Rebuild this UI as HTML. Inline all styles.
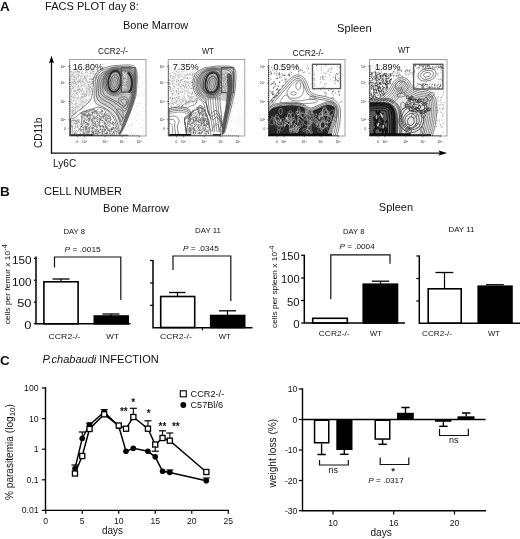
<!DOCTYPE html>
<html><head><meta charset="utf-8"><title>Figure</title>
<style>
html,body{margin:0;padding:0;background:#fff;}
svg{display:block;}
text{font-family:"Liberation Sans",Arial,Helvetica,sans-serif;fill:#111;}
</style></head><body>
<svg width="520" height="539" viewBox="0 0 520 539">
<defs><filter id="soft" x="-5%" y="-5%" width="110%" height="110%"><feGaussianBlur stdDeviation="0.26"/></filter></defs>
<rect width="520" height="539" fill="#fff"/>
<text x="0" y="11" font-size="13.5" font-weight="bold" fill="#000">A</text>
<text x="45" y="9.6" font-size="11" textLength="93.7" lengthAdjust="spacingAndGlyphs">FACS PLOT day 8:</text>
<text x="123" y="28.8" font-size="11" textLength="65.2" lengthAdjust="spacingAndGlyphs">Bone Marrow</text>
<text x="337" y="31.8" font-size="11" textLength="34.7" lengthAdjust="spacingAndGlyphs">Spleen</text>
<text x="98" y="53.8" font-size="8.5" textLength="30" lengthAdjust="spacingAndGlyphs">CCR2-/-</text>
<text x="202" y="53.8" font-size="8.5" textLength="11.8" lengthAdjust="spacingAndGlyphs">WT</text>
<text x="292.5" y="56.2" font-size="8.5" textLength="31.2" lengthAdjust="spacingAndGlyphs">CCR2-/-</text>
<text x="398" y="52.5" font-size="8.5" textLength="12" lengthAdjust="spacingAndGlyphs">WT</text>
<text x="42.3" y="148" font-size="10" transform="rotate(-90 42.3 148)" textLength="30.3" lengthAdjust="spacingAndGlyphs">CD11b</text>
<text x="53" y="166.6" font-size="10" textLength="23.2" lengthAdjust="spacingAndGlyphs">Ly6C</text>
<path d="M51.5 153.7L51.5 61" stroke="#111" stroke-width="1.3" fill="none" />
<path d="M51.5 55.8L49 63.3L51.5 61.9L54 63.3Z" stroke="#000" stroke-width="0.1" fill="#000" />
<path d="M50.9 153.1L440 153.1" stroke="#111" stroke-width="1.3" fill="none" />
<path d="M447 153.1L438.6 150.6L440 153.1L438.6 155.6Z" stroke="#000" stroke-width="0.1" fill="#000" />
<rect x="69.6" y="59.4" width="76.4" height="76.6" fill="#fff" stroke="#8a8a8a" stroke-width="0.8"/>
<clipPath id="cp1"><rect x="69.6" y="59.4" width="76.4" height="76.6"/></clipPath><g clip-path="url(#cp1)"><g filter="url(#soft)">
<path d="M80.2 76.8h0.6M90.3 73.0h0.6M86.7 87.3h0.6M72.1 94.2h0.6M71.5 90.6h0.6M72.5 73.9h0.6M74.1 80.4h0.6M88.0 88.8h0.6M74.7 75.2h0.6M79.8 109.2h0.6M75.9 97.8h0.6M89.9 87.6h0.6M87.1 72.6h0.6M72.2 79.5h0.6M91.2 90.3h0.6M80.0 98.0h0.6M84.2 84.1h0.6M77.8 97.5h0.6M92.7 83.5h0.6M83.1 106.4h0.6M75.0 93.3h0.6M71.5 102.0h0.6M88.1 91.7h0.6M84.9 101.8h0.6M72.2 103.7h0.6M82.1 102.1h0.6M71.0 92.0h0.6M75.5 75.2h0.6M72.1 106.9h0.6M74.3 81.6h0.6M72.8 91.4h0.6M78.9 89.7h0.6M75.7 80.8h0.6M77.5 93.1h0.6M88.4 82.3h0.6M70.5 89.9h0.6M81.6 97.1h0.6M86.1 99.6h0.6M91.0 72.1h0.6M82.3 88.9h0.6M73.5 100.4h0.6M72.2 72.8h0.6M76.7 77.4h0.6M80.7 72.1h0.6M70.3 76.9h0.6M73.4 87.2h0.6M71.1 112.1h0.6M89.1 76.7h0.6M78.1 86.4h0.6M81.5 75.5h0.6M84.6 93.1h0.6M73.0 74.5h0.6M80.8 82.4h0.6M95.7 77.4h0.6M71.0 115.8h0.6M86.5 76.6h0.6M87.0 70.8h0.6M78.3 87.4h0.6M75.4 107.1h0.6M80.4 80.4h0.6M77.3 94.7h0.6M81.2 70.9h0.6M71.2 83.1h0.6M78.3 103.2h0.6M77.1 80.5h0.6M76.4 79.5h0.6M72.9 101.7h0.6M75.8 107.9h0.6M80.5 108.5h0.6M92.5 77.8h0.6M74.2 76.9h0.6M74.8 109.7h0.6M81.1 96.2h0.6M78.0 83.8h0.6M77.7 98.1h0.6M78.3 89.9h0.6M74.3 113.8h0.6M81.2 91.8h0.6M85.7 95.4h0.6M86.4 70.4h0.6M83.8 78.4h0.6M70.4 108.4h0.6M75.6 92.6h0.6M80.3 94.7h0.6M73.6 96.8h0.6M77.9 83.0h0.6M89.1 94.1h0.6M86.0 103.2h0.6M84.2 95.5h0.6M96.1 76.2h0.6M74.1 91.0h0.6M72.6 81.2h0.6M72.6 102.1h0.6M75.1 104.4h0.6M90.6 76.5h0.6M82.5 93.2h0.6M75.3 90.5h0.6M86.1 86.0h0.6M76.3 85.0h0.6M92.5 70.5h0.6M87.3 90.9h0.6M70.9 85.6h0.6M89.4 94.4h0.6M73.5 82.4h0.6M71.5 107.4h0.6M78.6 75.8h0.6M74.9 114.2h0.6M73.1 72.3h0.6M91.4 90.2h0.6M72.5 115.2h0.6M72.9 111.2h0.6M72.4 111.5h0.6M84.2 86.0h0.6M78.5 75.8h0.6M86.5 81.1h0.6M73.7 77.4h0.6M71.9 79.3h0.6M79.9 84.4h0.6M93.6 83.6h0.6M85.6 78.2h0.6M76.1 92.6h0.6M82.4 94.2h0.6M82.7 86.4h0.6M72.0 75.8h0.6M72.5 105.6h0.6M78.2 77.4h0.6M72.9 110.5h0.6M79.0 81.3h0.6M79.3 91.9h0.6M75.2 91.2h0.6M79.8 86.9h0.6M70.4 88.1h0.6M84.9 94.0h0.6M76.5 94.1h0.6M70.5 82.4h0.6M73.1 89.0h0.6M79.6 80.8h0.6M88.3 95.3h0.6M82.3 85.4h0.6M71.7 110.2h0.6M74.6 95.0h0.6M77.4 71.0h0.6M74.4 87.1h0.6M73.5 110.2h0.6M87.4 100.1h0.6M85.7 95.6h0.6M90.5 72.7h0.6M92.9 81.8h0.6M72.6 82.4h0.6M92.7 79.5h0.6M85.5 88.1h0.6M85.0 102.8h0.6M90.0 73.3h0.6M74.8 81.9h0.6M93.1 84.3h0.6M72.2 82.6h0.6M91.0 83.7h0.6M86.2 92.1h0.6M84.6 75.3h0.6M70.9 91.8h0.6M84.1 82.6h0.6M76.8 97.8h0.6M74.7 95.0h0.6M85.2 70.7h0.6M70.4 93.4h0.6M84.1 84.2h0.6M74.6 86.2h0.6M70.4 106.0h0.6M96.0 75.3h0.6M81.7 88.6h0.6M81.4 90.3h0.6M78.8 71.9h0.6M73.4 110.1h0.6M78.0 82.4h0.6M86.0 78.7h0.6M92.4 71.9h0.6M92.8 91.5h0.6M79.1 71.9h0.6M84.8 86.2h0.6M79.5 105.5h0.6M90.4 84.1h0.6M87.4 88.7h0.6M75.5 77.4h0.6M85.6 80.2h0.6M84.1 76.3h0.6M76.2 73.9h0.6M80.8 73.9h0.6M77.7 82.1h0.6M83.0 95.0h0.6M81.9 86.0h0.6M72.2 83.0h0.6M85.7 100.2h0.6M78.6 81.6h0.6M82.6 91.2h0.6M97.1 70.6h0.6M71.3 104.0h0.6M73.7 77.0h0.6M86.3 102.7h0.6M84.3 96.3h0.6M71.5 107.6h0.6M90.1 84.3h0.6M74.2 81.8h0.6M73.8 72.9h0.6M86.4 97.9h0.6M82.2 80.4h0.6M79.6 91.9h0.6M77.5 81.5h0.6M85.6 102.3h0.6M83.2 82.0h0.6M77.3 71.2h0.6M80.7 90.0h0.6M91.2 79.1h0.6M85.8 79.5h0.6M77.1 106.5h0.6M85.5 78.6h0.6M77.2 89.8h0.6M74.8 88.7h0.6M74.7 72.0h0.6M72.2 88.6h0.6M93.2 71.1h0.6M90.7 87.9h0.6M81.8 85.6h0.6M78.9 86.6h0.6M71.8 92.6h0.6M76.2 87.2h0.6M97.8 71.0h0.6M93.8 71.5h0.6M71.4 72.5h0.6M80.7 82.8h0.6M78.4 104.4h0.6M80.0 82.9h0.6M70.4 106.3h0.6M99.2 70.7h0.6M77.5 92.6h0.6M82.2 81.7h0.6M83.5 93.5h0.6M88.9 85.5h0.6M80.1 87.1h0.6M94.3 73.3h0.6M76.4 106.2h0.6M77.9 72.7h0.6M71.4 96.4h0.6M78.4 73.6h0.6M73.3 93.8h0.6M92.1 91.3h0.6M77.5 89.8h0.6M90.7 75.4h0.6M87.7 87.7h0.6M92.9 79.2h0.6M77.9 81.4h0.6M75.0 112.5h0.6M88.0 85.4h0.6M85.9 80.8h0.6M71.6 83.8h0.6M74.0 78.7h0.6M78.3 107.4h0.6M88.6 99.7h0.6M77.0 87.5h0.6M74.7 79.4h0.6M78.1 98.7h0.6M90.3 79.4h0.6M70.7 85.4h0.6M91.1 78.5h0.6M79.9 79.4h0.6M72.3 74.4h0.6M82.4 96.3h0.6M89.9 73.9h0.6M75.3 103.4h0.6M82.9 83.3h0.6M79.9 97.1h0.6M81.3 89.8h0.6M81.5 79.1h0.6M92.6 79.4h0.6M70.5 113.4h0.6M84.4 77.4h0.6M70.8 96.4h0.6M73.1 99.8h0.6M81.7 94.1h0.6M74.8 83.3h0.6M73.7 93.4h0.6M76.4 75.7h0.6M85.1 72.1h0.6M95.6 77.3h0.6M94.4 80.3h0.6M95.7 78.4h0.6M77.0 89.0h0.6M86.2 88.2h0.6M74.1 81.5h0.6M71.6 96.9h0.6M93.5 71.4h0.6M96.0 75.2h0.6M88.7 96.3h0.6M89.5 84.4h0.6M83.2 97.9h0.6M83.4 101.6h0.6M84.0 90.8h0.6M71.0 99.6h0.6M85.3 81.0h0.6M84.4 78.2h0.6M84.8 74.7h0.6M74.3 90.5h0.6M73.1 91.0h0.6M86.0 71.5h0.6M89.8 73.5h0.6M86.0 72.1h0.6M85.8 87.9h0.6M72.3 86.6h0.6M93.5 77.2h0.6M95.3 76.5h0.6M76.7 82.3h0.6M85.8 85.0h0.6M71.5 78.4h0.6M75.5 107.7h0.6M73.9 95.3h0.6M89.8 87.0h0.6M89.6 88.7h0.6M81.4 106.7h0.6M83.9 78.1h0.6M93.1 71.9h0.6M88.3 101.8h0.6M71.4 76.8h0.6M89.2 90.5h0.6M74.4 80.6h0.6M90.3 70.6h0.6M70.4 86.8h0.6M73.6 86.9h0.6M77.2 97.9h0.6M88.4 79.4h0.6M89.4 92.6h0.6M77.8 76.8h0.6M73.3 100.6h0.6M82.6 82.4h0.6M70.7 100.9h0.6M87.6 86.6h0.6M90.1 91.1h0.6M71.7 95.4h0.6M82.8 81.1h0.6M72.1 107.4h0.6M70.7 96.3h0.6M76.4 99.1h0.6M85.9 100.7h0.6M95.2 78.0h0.6M79.8 84.1h0.6M71.8 112.8h0.6M70.5 110.6h0.6M77.3 74.6h0.6M77.4 71.4h0.6M80.6 106.0h0.6M92.1 82.5h0.6M87.3 90.7h0.6M78.5 100.8h0.6M97.3 70.2h0.6M78.3 81.0h0.6M93.2 85.4h0.6M83.7 104.8h0.6M87.8 84.5h0.6M76.8 99.8h0.6M72.7 113.8h0.6M73.6 114.7h0.6M80.9 76.4h0.6M71.2 71.5h0.6M72.3 98.2h0.6M72.3 111.7h0.6M73.6 79.5h0.6M73.8 71.2h0.6M89.7 83.5h0.6M73.4 74.3h0.6M93.5 79.5h0.6M80.1 90.1h0.6M71.0 82.0h0.6M79.0 104.3h0.6M81.6 85.1h0.6M71.3 89.6h0.6M81.0 103.8h0.6M86.8 80.0h0.6M96.7 73.9h0.6M95.4 77.8h0.6M70.4 79.3h0.6M70.5 93.4h0.6M76.0 93.6h0.6M79.0 80.0h0.6M91.8 93.8h0.6M73.7 100.5h0.6M72.8 107.9h0.6M89.6 86.8h0.6M82.6 88.7h0.6M97.6 73.7h0.6M97.5 70.7h0.6M76.6 82.3h0.6M77.5 91.9h0.6M81.0 85.4h0.6M75.1 110.5h0.6M75.5 90.9h0.6M74.2 92.0h0.6M76.2 84.2h0.6M75.1 77.1h0.6M77.9 85.4h0.6M86.3 77.3h0.6M80.4 78.7h0.6M73.4 88.2h0.6M92.8 90.7h0.6M76.3 100.6h0.6M73.6 79.6h0.6M82.2 71.2h0.6M82.6 108.0h0.6M91.6 93.9h0.6M89.7 92.1h0.6M74.7 98.9h0.6M82.7 105.6h0.6M83.2 80.6h0.6M90.0 91.6h0.6M79.9 100.1h0.6M73.3 89.9h0.6M89.6 81.7h0.6M83.3 91.7h0.6M89.4 89.4h0.6M75.9 101.4h0.6M71.5 96.0h0.6M75.3 107.6h0.6M73.4 97.5h0.6M86.0 100.6h0.6M76.8 102.8h0.6M82.4 106.6h0.6M81.2 72.3h0.6M78.7 89.0h0.6M70.7 89.9h0.6M83.2 103.5h0.6M81.1 82.4h0.6M77.2 105.6h0.6M77.0 108.5h0.6M82.3 79.8h0.6M74.3 107.3h0.6M84.7 96.9h0.6M81.1 100.6h0.6M84.7 83.8h0.6M87.1 75.6h0.6M81.9 81.8h0.6M83.4 78.6h0.6M70.4 104.6h0.6M78.9 81.4h0.6M79.6 92.8h0.6M83.5 100.5h0.6M90.5 87.1h0.6M72.1 109.8h0.6M74.6 110.0h0.6M89.7 70.2h0.6M70.7 115.8h0.6M90.4 81.7h0.6M73.4 76.5h0.6M77.5 107.3h0.6M80.9 76.9h0.6M75.5 112.9h0.6M76.4 103.2h0.6M87.3 82.4h0.6M77.5 76.3h0.6M85.4 72.3h0.6M84.6 76.5h0.6M85.4 93.8h0.6M70.5 110.4h0.6M84.7 96.9h0.6M81.8 89.9h0.6M71.2 99.2h0.6M86.0 93.1h0.6M97.8 71.2h0.6M81.5 92.6h0.6M76.8 90.7h0.6M83.3 96.5h0.6M85.8 82.7h0.6M80.5 84.9h0.6M79.5 98.1h0.6M71.6 104.7h0.6M71.9 84.1h0.6M70.5 78.7h0.6M89.2 100.0h0.6M91.2 79.8h0.6M90.8 91.8h0.6M93.7 74.4h0.6M75.9 71.3h0.6M90.4 87.5h0.6M87.5 82.1h0.6M79.6 90.0h0.6M80.1 90.5h0.6M72.0 97.1h0.6M71.5 75.3h0.6M70.8 88.3h0.6M83.0 74.5h0.6M90.1 79.8h0.6M70.5 102.8h0.6M73.0 111.8h0.6M92.4 81.3h0.6M92.8 78.6h0.6M71.9 107.2h0.6M92.7 73.6h0.6M92.3 70.1h0.6M70.8 101.2h0.6M95.4 73.4h0.6M79.9 105.0h0.6M75.4 111.4h0.6M85.2 72.4h0.6M81.6 97.5h0.6M83.8 102.5h0.6M74.8 108.3h0.6M81.5 100.9h0.6M89.6 89.8h0.6M82.1 107.8h0.6M87.7 83.7h0.6M80.5 99.0h0.6M88.7 84.5h0.6M81.9 102.8h0.6M70.4 82.3h0.6M83.3 98.1h0.6M71.6 110.1h0.6M87.8 82.8h0.6M81.0 73.6h0.6M76.5 106.0h0.6M84.6 79.6h0.6M78.1 106.1h0.6M73.0 108.8h0.6M94.0 80.8h0.6M84.9 98.2h0.6M76.1 78.9h0.6M75.9 103.6h0.6M81.4 97.0h0.6M82.7 94.7h0.6M74.9 71.7h0.6M73.6 100.3h0.6M94.4 77.1h0.6M88.6 86.3h0.6M86.2 70.5h0.6M87.7 82.2h0.6M78.1 71.3h0.6M76.5 78.3h0.6M72.9 72.0h0.6M98.2 72.6h0.6M88.6 88.8h0.6M78.2 97.0h0.6M90.8 88.6h0.6M84.1 77.3h0.6M77.1 71.4h0.6M78.2 86.6h0.6M96.0 71.8h0.6M72.0 76.6h0.6M91.1 84.0h0.6M73.6 85.3h0.6M78.2 75.5h0.6M85.1 77.7h0.6M77.6 76.5h0.6M91.1 70.1h0.6M92.3 79.0h0.6M71.4 114.7h0.6M74.6 91.3h0.6M73.3 114.7h0.6M84.2 86.0h0.6M89.6 76.5h0.6M77.1 72.3h0.6M74.8 111.9h0.6M78.5 89.5h0.6M75.1 82.7h0.6M75.5 93.4h0.6M72.1 113.1h0.6M90.8 79.8h0.6M85.0 83.4h0.6M78.2 79.3h0.6M73.3 83.6h0.6M97.8 72.3h0.6M92.6 83.8h0.6M100.3 70.3h0.6M76.0 90.7h0.6M87.8 76.2h0.6M75.8 107.0h0.6M92.1 79.1h0.6M72.8 73.8h0.6M89.0 93.6h0.6M78.7 79.5h0.6M76.5 72.7h0.6M92.8 89.4h0.6M92.4 72.2h0.6M76.0 110.0h0.6M81.6 77.5h0.6M81.7 98.5h0.6M70.5 94.8h0.6M84.0 94.6h0.6M74.0 104.3h0.6M80.2 104.1h0.6M82.0 106.1h0.6M72.2 112.0h0.6M86.1 95.3h0.6M86.8 70.5h0.6M75.9 74.5h0.6M78.0 109.3h0.6M71.3 74.2h0.6M91.7 79.0h0.6M70.9 98.7h0.6M88.0 95.0h0.6M91.9 74.5h0.6M71.7 75.5h0.6M85.4 93.9h0.6M78.9 75.4h0.6M82.8 76.2h0.6M74.8 97.4h0.6M93.2 77.5h0.6M82.2 90.0h0.6M77.7 85.8h0.6M72.0 94.7h0.6M78.0 90.1h0.6M89.7 87.2h0.6M86.6 72.9h0.6M83.6 94.1h0.6M71.0 76.3h0.6M97.4 71.2h0.6M90.0 82.4h0.6M91.1 82.8h0.6M89.4 81.7h0.6M86.3 90.6h0.6M79.7 101.0h0.6M74.0 98.4h0.6M78.6 92.2h0.6M86.7 76.7h0.6M74.1 75.9h0.6M79.3 89.3h0.6M79.2 81.4h0.6M73.0 96.1h0.6M87.8 101.2h0.6M76.5 104.1h0.6M84.4 96.2h0.6M89.1 92.3h0.6M79.8 81.3h0.6M77.1 94.4h0.6M82.1 98.0h0.6M70.7 86.7h0.6M87.4 93.4h0.6M79.4 107.1h0.6M75.2 72.8h0.6M72.2 88.4h0.6M83.8 105.3h0.6M73.7 80.5h0.6M75.1 85.9h0.6M81.1 102.4h0.6M87.9 89.8h0.6M88.9 88.0h0.6M84.2 91.8h0.6M92.5 83.8h0.6M82.3 96.5h0.6M82.1 85.2h0.6M85.6 91.1h0.6M76.0 84.3h0.6M74.8 97.5h0.6M88.1 73.8h0.6M70.7 71.8h0.6M87.6 93.7h0.6M86.2 94.7h0.6M91.3 88.5h0.6M81.3 98.5h0.6M91.1 95.1h0.6M73.4 87.7h0.6M82.6 96.8h0.6M83.8 99.9h0.6M75.6 85.0h0.6M86.0 74.9h0.6M75.1 83.6h0.6M86.0 94.1h0.6M76.1 78.4h0.6M89.6 98.9h0.6M89.8 71.6h0.6M82.9 107.8h0.6M79.7 103.1h0.6M70.4 84.3h0.6M90.8 79.1h0.6M85.6 96.4h0.6M78.5 101.0h0.6M87.9 89.5h0.6M74.1 77.1h0.6M93.6 74.7h0.6M73.4 77.8h0.6M93.9 85.2h0.6M92.2 86.7h0.6M75.5 82.5h0.6M73.4 113.5h0.6M88.2 86.5h0.6M84.1 88.3h0.6M72.0 112.9h0.6M83.8 99.7h0.6M78.0 71.6h0.6M77.8 88.5h0.6M92.3 80.3h0.6M77.8 77.9h0.6M81.3 78.6h0.6M87.5 75.1h0.6M86.7 88.3h0.6M82.7 72.7h0.6M74.1 109.7h0.6M81.1 81.4h0.6M76.2 83.3h0.6M77.6 71.2h0.6M90.7 86.1h0.6M75.1 103.9h0.6M73.2 82.6h0.6M95.9 75.7h0.6M95.0 77.3h0.6M81.1 104.7h0.6M85.8 80.6h0.6M84.2 75.9h0.6M92.0 82.2h0.6M81.6 81.5h0.6M89.0 79.8h0.6M97.1 75.5h0.6M86.0 95.9h0.6M78.6 107.1h0.6M82.1 101.5h0.6M87.7 84.6h0.6M82.3 73.7h0.6M75.8 110.9h0.6M80.2 101.8h0.6M73.7 96.9h0.6M81.4 93.9h0.6M79.4 72.7h0.6M79.9 80.5h0.6M74.2 104.4h0.6M79.0 89.1h0.6M74.4 83.0h0.6M71.2 102.6h0.6M90.7 86.6h0.6M83.0 101.6h0.6M91.7 81.6h0.6M89.6 78.3h0.6M73.9 113.9h0.6M71.6 71.5h0.6M75.3 79.1h0.6M79.6 88.0h0.6M71.5 84.6h0.6M89.9 78.2h0.6M92.3 81.9h0.6M83.7 102.8h0.6M79.1 71.6h0.6M71.8 81.4h0.6M73.7 108.0h0.6M93.3 73.7h0.6M91.6 88.7h0.6M78.9 73.9h0.6M89.6 91.5h0.6M72.0 103.5h0.6M83.5 94.4h0.6M93.7 71.6h0.6M78.3 96.1h0.6M87.0 81.7h0.6M72.1 86.9h0.6M82.9 79.3h0.6M79.8 76.2h0.6M77.6 81.3h0.6M86.1 91.2h0.6" stroke="#808080" stroke-width="0.6" fill="none"/>
<path d="M82.2 70.2h0.5M76.0 66.9h0.5M83.6 69.5h0.5M92.1 68.9h0.5M77.1 68.0h0.5M94.1 65.9h0.5M74.9 64.2h0.5M84.7 63.3h0.5M72.7 64.1h0.5M78.2 68.3h0.5M88.1 62.4h0.5M83.2 66.0h0.5M84.8 62.9h0.5M73.2 61.3h0.5M73.7 68.5h0.5M74.7 66.2h0.5M87.6 63.2h0.5M91.9 61.3h0.5M96.3 63.8h0.5M80.1 62.6h0.5M71.4 69.1h0.5M103.7 64.2h0.5M77.7 67.7h0.5M77.0 69.2h0.5M103.3 68.7h0.5M83.3 63.1h0.5M103.1 64.5h0.5M85.0 66.8h0.5M85.0 69.6h0.5M79.8 61.7h0.5M92.9 67.6h0.5M102.9 68.4h0.5M90.0 66.3h0.5M76.6 64.3h0.5M93.4 62.0h0.5M97.7 62.9h0.5M73.9 61.6h0.5M87.8 63.2h0.5M99.1 61.3h0.5M101.6 65.5h0.5" stroke="#aaa" stroke-width="0.5" fill="none"/>
<path d="M89.9 125.8h0.65M98.8 119.7h0.65M92.0 120.1h0.65M104.6 129.9h0.65M90.4 120.2h0.65M100.7 117.8h0.65M86.6 111.2h0.65M91.5 120.7h0.65M116.3 132.0h0.65M112.2 133.7h0.65M105.0 124.4h0.65M90.5 123.5h0.65M103.9 116.6h0.65M92.2 131.4h0.65M80.1 113.8h0.65M105.1 120.3h0.65M82.3 125.7h0.65M93.3 123.7h0.65M95.0 122.4h0.65M100.7 119.0h0.65M83.5 113.6h0.65M113.2 122.9h0.65M83.4 130.9h0.65M88.8 111.4h0.65M99.4 115.4h0.65M97.8 123.0h0.65M87.8 123.5h0.65M83.4 122.0h0.65M101.6 111.0h0.65M94.7 110.9h0.65M95.9 130.9h0.65M100.2 127.1h0.65M83.0 130.0h0.65M94.1 113.3h0.65M88.2 118.4h0.65M87.2 116.6h0.65M106.2 119.8h0.65M113.1 124.7h0.65M112.5 123.3h0.65M114.2 131.1h0.65M85.5 127.9h0.65M92.2 128.4h0.65M105.1 129.9h0.65M83.8 118.5h0.65M107.3 133.0h0.65M102.2 111.5h0.65M100.1 129.4h0.65M83.4 132.5h0.65M104.9 115.5h0.65M86.5 120.3h0.65M111.2 123.7h0.65M83.3 129.3h0.65M86.2 123.0h0.65M90.2 126.4h0.65M93.7 112.7h0.65M112.6 122.6h0.65M105.5 129.5h0.65M92.2 112.8h0.65M98.3 131.1h0.65M86.1 129.7h0.65M105.1 118.9h0.65M97.3 113.0h0.65M111.4 119.0h0.65M112.5 124.5h0.65M82.0 117.3h0.65M87.4 131.7h0.65M101.6 110.1h0.65M85.6 118.1h0.65M97.0 123.6h0.65M93.9 118.0h0.65M91.9 109.5h0.65M96.7 134.0h0.65M80.8 112.7h0.65M104.8 115.9h0.65M89.5 121.7h0.65M89.1 123.4h0.65M99.3 133.3h0.65M100.5 128.5h0.65M112.5 128.6h0.65M103.3 125.1h0.65M93.0 116.1h0.65M109.5 131.1h0.65M115.0 126.3h0.65M90.7 128.3h0.65M107.4 121.9h0.65M103.4 117.9h0.65M100.2 119.3h0.65M81.4 117.5h0.65M91.5 134.1h0.65M97.5 118.3h0.65M88.4 114.9h0.65M92.5 112.4h0.65M96.4 120.3h0.65M100.9 116.7h0.65M90.6 116.8h0.65M106.9 123.0h0.65M114.4 123.8h0.65M82.1 113.5h0.65M101.3 134.0h0.65M92.8 128.6h0.65M95.5 131.0h0.65M81.7 121.3h0.65M85.4 115.8h0.65M106.1 114.5h0.65M94.4 114.1h0.65M102.2 130.9h0.65M103.9 114.0h0.65M107.2 133.4h0.65M102.1 111.0h0.65M110.1 131.2h0.65M92.1 112.5h0.65M86.3 122.6h0.65M112.6 125.2h0.65M91.6 128.0h0.65M103.9 119.3h0.65M105.1 117.6h0.65M81.3 119.5h0.65M80.8 124.9h0.65M91.9 121.5h0.65M102.0 115.5h0.65M96.8 109.3h0.65M102.6 127.4h0.65M91.7 111.4h0.65M85.1 112.6h0.65M110.3 119.7h0.65M99.7 123.9h0.65M100.3 125.7h0.65M102.1 117.4h0.65M107.5 115.5h0.65M106.3 128.3h0.65M108.8 116.8h0.65M108.7 133.8h0.65M96.4 116.1h0.65M99.1 132.8h0.65M97.3 125.6h0.65M108.7 118.2h0.65M81.4 121.7h0.65M100.3 113.6h0.65M84.8 113.5h0.65M107.3 132.4h0.65M108.9 115.1h0.65M103.4 117.7h0.65M109.7 120.7h0.65M91.5 131.9h0.65M83.2 127.6h0.65M81.6 125.4h0.65M94.5 130.9h0.65M81.4 123.3h0.65M94.8 132.3h0.65M87.7 115.4h0.65M89.1 120.0h0.65M87.9 114.1h0.65M108.2 125.3h0.65M90.5 134.2h0.65M87.4 123.4h0.65M85.1 130.9h0.65M107.9 129.9h0.65M89.9 117.4h0.65M97.7 131.6h0.65M85.3 126.3h0.65M102.0 120.5h0.65M101.3 131.4h0.65M87.1 131.4h0.65M92.9 128.8h0.65M112.2 134.2h0.65M90.5 109.6h0.65M83.4 133.7h0.65M84.9 127.7h0.65M82.8 113.3h0.65M105.2 111.3h0.65M92.1 132.3h0.65M106.5 131.4h0.65M88.1 129.1h0.65M98.4 114.9h0.65M95.6 111.7h0.65M91.2 131.3h0.65M83.7 121.4h0.65M84.3 119.9h0.65M85.9 126.4h0.65M84.7 127.7h0.65M98.3 111.8h0.65M92.6 121.6h0.65M87.3 133.5h0.65M112.9 127.5h0.65M89.5 113.5h0.65M89.2 110.7h0.65M80.7 121.9h0.65M94.7 123.1h0.65M93.0 109.3h0.65M105.4 125.6h0.65M99.9 122.9h0.65M105.5 133.9h0.65M112.6 127.2h0.65M94.4 117.1h0.65M95.1 133.7h0.65M93.9 118.8h0.65M94.8 112.6h0.65M102.4 132.5h0.65M88.8 124.5h0.65M93.5 115.1h0.65M86.7 111.9h0.65M111.4 128.9h0.65M105.7 117.2h0.65M103.8 122.9h0.65M91.2 133.6h0.65M111.8 121.9h0.65M101.8 134.2h0.65M88.1 125.0h0.65M107.5 118.6h0.65M106.4 119.0h0.65M99.2 124.5h0.65M105.0 117.2h0.65M103.2 122.8h0.65M87.6 124.5h0.65M89.2 132.0h0.65M97.2 127.3h0.65M99.1 121.1h0.65M87.6 112.6h0.65M99.1 122.4h0.65M85.7 129.8h0.65M96.7 125.2h0.65M110.8 131.7h0.65M93.7 130.1h0.65M85.0 115.4h0.65M83.0 118.0h0.65M109.8 122.2h0.65M96.4 111.2h0.65M94.2 134.3h0.65M105.7 120.4h0.65M97.4 129.2h0.65M105.1 118.3h0.65M99.0 115.0h0.65M93.3 117.6h0.65M93.7 109.4h0.65M86.8 123.5h0.65M81.3 113.5h0.65M106.6 116.0h0.65M91.5 115.1h0.65M103.4 130.8h0.65M86.8 119.7h0.65M109.4 124.7h0.65M93.3 110.1h0.65M96.0 118.3h0.65M106.4 116.5h0.65M94.7 125.4h0.65M110.1 117.9h0.65M93.8 123.7h0.65M93.3 125.9h0.65M91.7 110.8h0.65M108.0 118.6h0.65M99.2 121.6h0.65M113.6 128.2h0.65M80.1 124.0h0.65M96.8 120.7h0.65M111.2 119.5h0.65M97.2 131.6h0.65M95.9 121.5h0.65M98.7 129.9h0.65M104.8 127.8h0.65M94.5 110.0h0.65M105.1 123.0h0.65M108.5 128.5h0.65M83.6 114.6h0.65M82.0 129.7h0.65M107.9 123.3h0.65M81.2 126.3h0.65M106.3 121.2h0.65M81.2 126.5h0.65M95.1 123.8h0.65M91.9 122.1h0.65M89.6 115.6h0.65M91.1 115.5h0.65M112.0 123.1h0.65M98.6 119.6h0.65M81.0 116.7h0.65M112.3 129.3h0.65M99.6 118.5h0.65M96.9 121.4h0.65M101.4 118.3h0.65M81.0 117.0h0.65M99.5 119.4h0.65M100.7 117.2h0.65M89.6 129.2h0.65M90.2 127.0h0.65M109.8 124.0h0.65M96.5 132.7h0.65M96.1 131.3h0.65M81.3 120.0h0.65M103.6 110.2h0.65M101.9 113.6h0.65M109.7 121.6h0.65M104.9 126.1h0.65M90.4 114.3h0.65M109.1 133.1h0.65M95.0 125.7h0.65M88.9 132.0h0.65M105.3 112.9h0.65M81.3 126.6h0.65M80.7 130.2h0.65M90.3 114.9h0.65M101.4 117.1h0.65M100.5 112.9h0.65M109.7 133.8h0.65M94.1 109.8h0.65M93.6 125.2h0.65M87.6 122.8h0.65M82.7 120.8h0.65M107.0 119.9h0.65M105.1 111.9h0.65M114.4 134.2h0.65M90.2 117.8h0.65M107.8 121.6h0.65M97.6 130.9h0.65M102.0 122.7h0.65M82.5 112.5h0.65M89.5 131.6h0.65M102.0 133.5h0.65M92.3 132.9h0.65M104.2 110.3h0.65M91.8 120.4h0.65M88.6 127.8h0.65M85.9 129.0h0.65M90.5 110.8h0.65M100.5 111.4h0.65M100.2 129.0h0.65M101.9 120.7h0.65M82.8 125.4h0.65M84.1 123.6h0.65M92.6 118.5h0.65M104.5 113.2h0.65M85.6 132.9h0.65M91.8 130.3h0.65M112.5 121.2h0.65M84.8 111.4h0.65M98.1 122.6h0.65M83.6 120.9h0.65M85.4 122.6h0.65M98.5 118.3h0.65M86.7 119.2h0.65M86.9 112.2h0.65M88.3 131.1h0.65M98.3 131.6h0.65M97.8 129.0h0.65M100.9 126.5h0.65M87.9 128.0h0.65M85.0 115.7h0.65M98.9 116.4h0.65M101.2 114.9h0.65M101.9 128.9h0.65M88.5 124.2h0.65M102.8 126.5h0.65M110.3 117.7h0.65M110.1 120.7h0.65M94.7 111.2h0.65M88.5 127.6h0.65M105.1 112.8h0.65M92.3 112.6h0.65M86.7 114.6h0.65M91.8 133.7h0.65M97.5 121.6h0.65M108.9 132.0h0.65M107.9 125.1h0.65M86.7 124.8h0.65M111.5 128.9h0.65M82.6 127.2h0.65M92.5 113.1h0.65M110.8 132.8h0.65M113.7 127.9h0.65M111.0 129.3h0.65M101.7 120.0h0.65M110.7 128.9h0.65M116.2 129.0h0.65M88.7 130.2h0.65M88.0 114.0h0.65M96.6 115.0h0.65M97.9 132.0h0.65M105.3 127.0h0.65M94.1 128.9h0.65M109.5 126.3h0.65M115.1 129.9h0.65M94.6 111.2h0.65M104.1 130.2h0.65M92.1 124.1h0.65M111.1 129.1h0.65M110.2 119.6h0.65M102.2 120.6h0.65M91.9 114.4h0.65M92.6 130.4h0.65M102.8 116.4h0.65M82.5 115.9h0.65M105.9 120.2h0.65M104.4 129.5h0.65M83.7 126.3h0.65M80.7 129.9h0.65M86.1 115.9h0.65M87.7 131.6h0.65M102.4 131.7h0.65M94.2 121.7h0.65M99.3 109.0h0.65M85.8 133.0h0.65M96.5 129.5h0.65M88.7 117.9h0.65M82.9 123.0h0.65M112.1 122.0h0.65M93.5 132.5h0.65M113.3 125.9h0.65M82.0 124.8h0.65M96.1 133.3h0.65M92.9 125.8h0.65M103.3 118.5h0.65M99.1 126.1h0.65M93.0 133.7h0.65M81.3 130.2h0.65M105.3 123.1h0.65M96.2 128.0h0.65M113.2 127.5h0.65M91.5 112.5h0.65M115.6 131.6h0.65M84.6 123.9h0.65M101.2 110.2h0.65M94.1 127.9h0.65M103.6 116.1h0.65M108.3 116.4h0.65M99.9 119.7h0.65M109.9 126.1h0.65M93.7 133.4h0.65M106.3 126.5h0.65M89.7 113.1h0.65M101.1 129.9h0.65M109.5 117.8h0.65M84.4 122.1h0.65M107.4 113.3h0.65M91.0 110.4h0.65M90.5 118.7h0.65M116.1 133.4h0.65M86.2 116.8h0.65M91.4 120.1h0.65M83.2 115.6h0.65M94.2 118.8h0.65M86.9 132.0h0.65M96.3 130.2h0.65M103.5 128.7h0.65M91.1 112.9h0.65M108.1 120.9h0.65M100.5 126.0h0.65M107.9 116.0h0.65M93.0 132.3h0.65M99.4 116.3h0.65M103.2 115.6h0.65M110.7 123.4h0.65M92.6 132.8h0.65M89.2 115.2h0.65M81.8 122.9h0.65M107.9 126.2h0.65M94.9 129.5h0.65M83.3 116.8h0.65M103.8 133.5h0.65M103.4 126.5h0.65M108.7 119.0h0.65M115.1 127.8h0.65M92.2 118.9h0.65M109.9 117.9h0.65M86.2 131.1h0.65M99.4 122.2h0.65M104.7 131.9h0.65M84.2 117.6h0.65M81.6 119.5h0.65M98.3 130.6h0.65M104.7 123.6h0.65M94.5 123.5h0.65M89.6 130.4h0.65M109.3 130.3h0.65M84.9 126.0h0.65M108.0 121.7h0.65M113.5 131.8h0.65M107.5 129.8h0.65M103.9 131.3h0.65M84.1 126.8h0.65M106.0 124.5h0.65M89.6 110.7h0.65M102.2 129.9h0.65M89.5 114.4h0.65M87.7 111.4h0.65M105.0 133.7h0.65M109.8 118.1h0.65M84.4 116.0h0.65M81.3 120.3h0.65M100.3 129.5h0.65M80.6 130.0h0.65M83.3 114.7h0.65M103.2 117.6h0.65M91.8 123.4h0.65M87.4 129.1h0.65M87.1 130.3h0.65M110.0 122.6h0.65M80.2 128.7h0.65M95.3 110.6h0.65M103.2 127.4h0.65M101.5 119.1h0.65M98.7 123.9h0.65M87.7 131.0h0.65M97.4 112.4h0.65M96.5 126.3h0.65M106.2 120.5h0.65M92.2 113.8h0.65M94.5 116.2h0.65M86.5 127.7h0.65M98.8 120.1h0.65M86.7 126.8h0.65M86.6 115.7h0.65M100.5 126.8h0.65M115.4 132.3h0.65M106.7 127.2h0.65M81.5 114.2h0.65M106.7 125.0h0.65M89.2 118.0h0.65M85.3 125.0h0.65M80.8 113.4h0.65M92.7 131.8h0.65M109.9 120.5h0.65M85.0 128.7h0.65M97.1 134.1h0.65M114.0 129.1h0.65M97.3 129.8h0.65M84.0 111.8h0.65M100.7 121.9h0.65M87.1 115.4h0.65M106.3 133.0h0.65M107.1 118.7h0.65M110.2 130.3h0.65M87.3 123.8h0.65M93.6 109.2h0.65M110.9 128.9h0.65M96.8 110.1h0.65M113.1 122.5h0.65M81.8 117.2h0.65M103.0 131.4h0.65M97.6 125.2h0.65M87.0 115.2h0.65M83.1 124.0h0.65M83.9 114.1h0.65M96.6 123.8h0.65M103.4 126.9h0.65M95.9 110.7h0.65M97.1 119.1h0.65M104.8 127.1h0.65M88.3 125.5h0.65M105.6 121.0h0.65M84.5 132.0h0.65M102.0 110.6h0.65M88.2 134.0h0.65M87.8 118.9h0.65M109.3 129.9h0.65M103.4 127.8h0.65M88.3 132.6h0.65M87.5 126.0h0.65M114.7 125.2h0.65M86.2 129.5h0.65M85.3 122.0h0.65M83.1 128.9h0.65M113.1 132.2h0.65M100.4 129.8h0.65M98.3 124.7h0.65M101.8 129.3h0.65M100.0 116.4h0.65M94.3 109.2h0.65M110.9 129.6h0.65M96.6 112.1h0.65M104.0 114.2h0.65M95.5 111.8h0.65M92.6 111.4h0.65M107.0 130.5h0.65M93.2 116.7h0.65M102.3 133.8h0.65M105.6 124.2h0.65M99.0 120.5h0.65M94.7 124.5h0.65M103.9 132.2h0.65M107.1 129.2h0.65M114.0 130.2h0.65M105.2 130.5h0.65M95.6 131.3h0.65M86.0 132.9h0.65M96.0 126.9h0.65M88.8 116.6h0.65M92.4 117.2h0.65M82.7 120.2h0.65M114.8 128.3h0.65M111.1 134.2h0.65M107.9 115.9h0.65M88.6 119.5h0.65M113.0 132.3h0.65M91.7 128.5h0.65M108.8 131.6h0.65M109.5 122.5h0.65M83.1 129.9h0.65M91.1 124.9h0.65M93.1 122.6h0.65M99.4 125.5h0.65M99.7 132.8h0.65M94.7 132.2h0.65M105.5 133.5h0.65M82.5 114.4h0.65M90.1 132.0h0.65M106.5 134.1h0.65M85.8 120.1h0.65M105.4 126.5h0.65M107.6 128.1h0.65M88.6 115.5h0.65M80.1 126.5h0.65M87.1 115.6h0.65M101.7 125.6h0.65M102.0 126.6h0.65M90.7 110.6h0.65M92.9 112.6h0.65M83.4 121.5h0.65M89.6 128.5h0.65M85.9 111.5h0.65M90.7 119.4h0.65M105.5 120.3h0.65M111.8 129.3h0.65M104.8 116.0h0.65M104.3 123.9h0.65M104.4 113.6h0.65M84.6 111.5h0.65M104.1 123.4h0.65M87.6 110.6h0.65M84.1 133.4h0.65M93.0 127.3h0.65M84.4 129.0h0.65M88.7 118.3h0.65M99.1 111.8h0.65M88.6 129.2h0.65M90.0 118.6h0.65M108.4 114.7h0.65M86.5 114.5h0.65M93.8 118.3h0.65M103.6 121.0h0.65M104.5 130.2h0.65M95.9 111.9h0.65M96.7 127.0h0.65M82.7 112.0h0.65M97.4 113.4h0.65M87.9 120.2h0.65M92.9 120.9h0.65M81.8 114.6h0.65M107.6 123.3h0.65M112.4 133.4h0.65M88.3 113.3h0.65M82.3 115.7h0.65M96.4 117.1h0.65M86.9 125.8h0.65M92.9 112.0h0.65M104.1 122.0h0.65M107.4 122.6h0.65M88.0 121.6h0.65M102.2 125.5h0.65M84.6 129.4h0.65M115.3 127.8h0.65M87.8 124.2h0.65M95.9 112.6h0.65M86.4 128.0h0.65M101.4 132.8h0.65M94.5 126.2h0.65M88.0 121.1h0.65M98.7 133.0h0.65M97.9 134.1h0.65M102.9 114.5h0.65M87.7 133.4h0.65M91.4 119.3h0.65M92.2 125.9h0.65M85.3 130.0h0.65M89.0 120.5h0.65M100.6 127.0h0.65M84.4 115.1h0.65M83.7 133.3h0.65M84.8 112.5h0.65M99.1 123.7h0.65M88.1 113.2h0.65M101.5 120.5h0.65M94.7 131.5h0.65M104.4 130.8h0.65M90.2 116.3h0.65M116.1 131.1h0.65M95.2 122.4h0.65M111.6 129.5h0.65M104.1 122.0h0.65M83.5 115.2h0.65M104.3 123.9h0.65M109.8 131.8h0.65M82.0 131.7h0.65M100.9 113.6h0.65M105.6 115.5h0.65M88.1 118.3h0.65M99.1 126.2h0.65M81.9 127.8h0.65M103.0 121.0h0.65M104.8 129.3h0.65M105.0 127.0h0.65M103.9 113.6h0.65M115.8 128.9h0.65M88.0 119.9h0.65M94.7 133.4h0.65M107.2 118.1h0.65M104.5 128.4h0.65M84.0 114.6h0.65M87.3 115.7h0.65M94.6 119.7h0.65M82.1 123.8h0.65M92.7 126.9h0.65M95.8 113.4h0.65M97.5 109.4h0.65M105.0 113.1h0.65M93.2 133.4h0.65M108.4 130.2h0.65M103.7 125.1h0.65M106.1 133.5h0.65M86.6 128.4h0.65M90.6 115.5h0.65M110.5 124.2h0.65M111.6 131.2h0.65M101.6 114.0h0.65M106.9 115.9h0.65M85.7 126.6h0.65M89.2 127.0h0.65M83.5 132.7h0.65M91.9 122.2h0.65M91.3 119.6h0.65M97.4 115.6h0.65M85.3 111.3h0.65M103.0 126.7h0.65M89.2 129.1h0.65M107.0 117.7h0.65M97.9 113.8h0.65M81.0 112.9h0.65M105.6 118.8h0.65M106.5 114.8h0.65M109.6 129.3h0.65M82.7 123.9h0.65M86.4 126.9h0.65M109.9 129.1h0.65M87.9 111.4h0.65M104.5 123.3h0.65M84.4 113.9h0.65M101.4 111.7h0.65M103.4 115.1h0.65M89.0 119.7h0.65M99.5 127.4h0.65M80.3 127.4h0.65M87.5 116.4h0.65M103.6 126.5h0.65M102.6 131.9h0.65M86.9 116.9h0.65M104.5 115.6h0.65M85.1 114.7h0.65M108.6 130.0h0.65M106.5 133.3h0.65M109.5 116.8h0.65M91.2 127.3h0.65M81.2 124.4h0.65M98.8 112.8h0.65M114.8 131.2h0.65M96.8 114.0h0.65M83.7 121.8h0.65M99.0 118.2h0.65M106.5 122.4h0.65M81.8 118.8h0.65M97.6 115.4h0.65M104.7 114.6h0.65M91.3 121.1h0.65M106.4 128.5h0.65M93.3 120.3h0.65M114.6 132.7h0.65M102.8 111.7h0.65M96.5 125.1h0.65M89.7 109.9h0.65M116.7 132.1h0.65M84.0 120.8h0.65M102.8 116.6h0.65M81.7 128.0h0.65M108.6 120.1h0.65M82.4 119.0h0.65M82.7 133.4h0.65M81.0 116.3h0.65M85.4 122.5h0.65M85.7 128.4h0.65M95.4 117.6h0.65M83.8 115.2h0.65M89.0 127.8h0.65M113.2 131.9h0.65M97.2 133.2h0.65M102.2 116.3h0.65M96.9 127.1h0.65M86.5 133.3h0.65M83.2 129.6h0.65M92.1 115.3h0.65M88.9 120.9h0.65M85.7 127.9h0.65M92.2 113.8h0.65M95.1 129.8h0.65M112.1 123.6h0.65M102.3 131.8h0.65M111.6 129.8h0.65M89.3 118.3h0.65M93.4 117.9h0.65M93.6 111.8h0.65M87.8 132.1h0.65M94.8 125.1h0.65M113.1 128.2h0.65M88.4 132.3h0.65M109.9 134.1h0.65M107.0 128.1h0.65M104.2 118.6h0.65M99.7 117.5h0.65M110.5 117.7h0.65M111.4 130.5h0.65M115.0 127.9h0.65M105.0 125.5h0.65M100.1 120.5h0.65M92.1 128.8h0.65M109.0 131.0h0.65M87.3 117.6h0.65M88.6 111.5h0.65M91.6 109.7h0.65M107.5 114.0h0.65M96.8 119.2h0.65M109.8 133.2h0.65M90.9 125.0h0.65M113.5 127.6h0.65M91.0 131.2h0.65M101.0 111.7h0.65M101.6 130.0h0.65M98.9 121.3h0.65M95.0 131.3h0.65M104.6 114.3h0.65M93.0 118.2h0.65M83.9 132.2h0.65M80.4 124.0h0.65M95.6 127.2h0.65M95.5 111.3h0.65M99.1 129.8h0.65M109.3 118.0h0.65M87.6 127.9h0.65M112.9 134.2h0.65M95.7 118.6h0.65M106.3 132.6h0.65M86.8 116.6h0.65M91.7 127.6h0.65M86.2 122.9h0.65M98.2 125.9h0.65M84.6 133.2h0.65M113.9 123.0h0.65M108.2 131.0h0.65M92.9 132.4h0.65M98.3 131.8h0.65M113.6 133.2h0.65M98.6 132.6h0.65M100.5 112.6h0.65M103.2 129.4h0.65M95.3 124.3h0.65M89.0 116.0h0.65M95.2 122.0h0.65M97.0 111.3h0.65M106.5 128.0h0.65M88.2 115.5h0.65M98.9 113.4h0.65M102.2 131.9h0.65M86.8 123.8h0.65M106.7 128.0h0.65M106.3 127.0h0.65M89.5 130.2h0.65M109.6 126.2h0.65M84.5 120.7h0.65M103.5 134.3h0.65M91.9 128.4h0.65M88.5 114.0h0.65M85.3 119.4h0.65M102.8 116.7h0.65M85.3 114.5h0.65M82.3 113.9h0.65M91.2 121.8h0.65M86.1 121.2h0.65M95.9 133.7h0.65M97.7 132.9h0.65M97.1 114.0h0.65M101.7 112.7h0.65M105.9 133.5h0.65M94.5 118.0h0.65M95.4 117.9h0.65M105.5 118.9h0.65M84.9 130.9h0.65M101.0 109.2h0.65M111.6 127.5h0.65M92.7 125.0h0.65M95.6 116.6h0.65M100.3 125.8h0.65M107.2 133.1h0.65M84.6 118.3h0.65M111.7 129.0h0.65M101.7 126.2h0.65M92.1 132.9h0.65M100.1 119.2h0.65M86.1 111.9h0.65M113.4 129.3h0.65M97.4 121.6h0.65M93.0 131.7h0.65M92.5 122.5h0.65M114.7 125.2h0.65M97.3 117.4h0.65M93.9 124.4h0.65M109.2 115.6h0.65M93.3 118.8h0.65M93.0 132.1h0.65M99.7 116.0h0.65M91.8 129.8h0.65M85.2 126.5h0.65M81.4 129.4h0.65M84.7 114.8h0.65M81.3 115.7h0.65M107.2 127.3h0.65M113.9 133.0h0.65M100.2 132.4h0.65M82.5 132.4h0.65M95.7 113.9h0.65M107.7 130.8h0.65M93.9 111.4h0.65M112.5 128.1h0.65M101.9 133.8h0.65M106.2 125.0h0.65M83.4 113.1h0.65M86.0 124.4h0.65M104.8 133.6h0.65M92.9 133.8h0.65M95.7 118.9h0.65M88.8 114.9h0.65M116.4 134.2h0.65M106.1 113.4h0.65M86.0 112.9h0.65M92.5 127.7h0.65M81.3 122.4h0.65M95.9 129.0h0.65M101.1 120.4h0.65M112.8 124.2h0.65M92.0 119.0h0.65M115.2 130.8h0.65M114.1 123.2h0.65M84.5 113.4h0.65M93.8 126.5h0.65M109.2 122.0h0.65M94.9 126.0h0.65" stroke="#4a4a4a" stroke-width="0.65" fill="none"/>
<path d="M76.6 130.0h0.6M75.0 133.7h0.6M80.5 133.2h0.6M77.0 123.3h0.6M74.7 122.5h0.6M79.9 131.0h0.6M78.8 131.5h0.6M74.1 130.4h0.6M73.5 128.1h0.6M72.5 132.0h0.6M75.8 122.6h0.6M80.2 130.4h0.6M72.4 130.5h0.6M76.6 132.8h0.6M76.8 125.1h0.6M78.7 119.8h0.6M73.7 120.0h0.6M79.6 125.3h0.6M78.2 122.3h0.6M78.2 128.7h0.6M71.9 126.2h0.6M78.1 121.6h0.6M77.4 122.7h0.6M74.6 133.1h0.6M80.3 134.3h0.6M75.2 127.4h0.6M79.0 130.4h0.6M75.5 132.1h0.6M74.9 133.5h0.6M75.6 120.1h0.6M78.4 120.5h0.6M77.7 119.0h0.6M78.3 120.3h0.6M77.3 124.3h0.6M73.4 131.4h0.6M71.2 125.9h0.6M71.7 131.9h0.6M75.5 125.8h0.6M78.1 130.0h0.6M74.3 133.3h0.6M72.7 120.4h0.6M79.0 120.1h0.6M72.7 126.3h0.6M74.2 120.8h0.6M78.8 122.2h0.6M80.0 128.1h0.6M77.2 126.8h0.6M79.4 125.4h0.6M71.9 133.0h0.6M79.0 129.2h0.6M78.3 121.9h0.6M75.5 131.5h0.6M80.5 133.1h0.6M72.5 129.2h0.6M76.4 124.7h0.6M72.6 120.4h0.6M75.6 126.2h0.6M73.6 124.1h0.6M76.4 130.5h0.6M76.8 120.8h0.6M80.5 134.1h0.6M72.3 127.6h0.6M76.4 123.3h0.6M71.2 121.5h0.6M72.1 122.8h0.6M77.2 127.3h0.6M74.5 133.5h0.6M77.2 127.0h0.6M79.5 129.0h0.6M74.5 128.0h0.6M73.9 133.8h0.6M73.3 133.9h0.6M76.4 121.5h0.6M76.0 120.1h0.6M79.3 129.0h0.6M77.7 133.2h0.6M71.4 125.1h0.6M75.0 132.8h0.6M76.8 131.5h0.6M71.0 121.5h0.6M72.7 131.6h0.6M71.9 133.2h0.6M73.6 132.4h0.6M76.0 123.4h0.6M77.9 119.3h0.6M79.2 134.0h0.6M72.0 130.2h0.6M73.6 120.6h0.6M74.5 128.9h0.6M80.4 134.2h0.6M77.4 120.8h0.6M78.2 127.1h0.6M74.5 132.7h0.6M73.4 120.5h0.6M72.5 120.6h0.6M76.8 131.1h0.6M72.5 126.3h0.6M76.6 127.2h0.6M75.0 127.0h0.6M75.1 122.0h0.6M78.5 122.1h0.6M79.1 122.1h0.6M71.8 125.9h0.6M74.8 123.6h0.6M78.5 121.8h0.6M77.6 131.7h0.6M75.4 126.3h0.6M80.1 127.9h0.6M71.7 123.5h0.6M71.8 128.7h0.6M75.1 123.2h0.6M76.0 133.3h0.6M73.3 120.7h0.6M73.9 123.4h0.6M80.0 129.6h0.6M75.2 120.9h0.6M71.3 120.2h0.6M79.4 128.7h0.6M72.4 128.3h0.6M71.5 126.4h0.6M74.2 119.8h0.6M78.3 129.8h0.6M76.0 120.9h0.6M77.6 125.2h0.6M77.5 119.7h0.6M73.1 124.6h0.6M72.9 119.6h0.6M77.8 134.2h0.6M74.2 122.5h0.6M77.6 121.8h0.6M74.9 129.3h0.6M75.2 120.7h0.6M71.6 127.0h0.6M71.9 126.3h0.6M75.8 121.3h0.6M77.6 126.2h0.6M79.0 122.9h0.6M80.2 131.3h0.6M75.6 120.5h0.6M75.7 120.2h0.6" stroke="#666" stroke-width="0.6" fill="none"/>
<path d="M137.8 115.3h0.5M135.5 133.2h0.5M140.4 77.7h0.5M135.6 116.9h0.5M128.9 133.3h0.5M141.8 111.4h0.5M138.5 77.8h0.5M130.6 126.7h0.5M144.6 90.9h0.5M142.7 121.0h0.5M141.8 108.2h0.5M144.1 111.8h0.5M143.6 106.8h0.5M135.7 84.7h0.5M137.4 82.3h0.5M139.7 115.7h0.5M139.9 103.7h0.5M128.3 129.9h0.5M138.3 123.0h0.5M133.4 117.4h0.5M130.7 118.9h0.5M138.9 83.8h0.5M137.2 113.9h0.5M136.7 115.0h0.5M143.9 104.2h0.5M137.5 132.6h0.5M140.4 85.2h0.5M140.3 117.8h0.5M138.4 128.0h0.5M141.4 126.2h0.5M129.7 133.1h0.5M129.0 129.7h0.5M141.5 91.7h0.5M141.5 127.7h0.5M139.8 94.5h0.5M135.9 86.8h0.5M131.0 119.4h0.5M136.5 82.5h0.5M136.2 89.3h0.5M127.2 125.4h0.5M142.7 85.4h0.5M135.7 107.4h0.5M136.0 103.2h0.5M130.8 128.4h0.5M125.4 133.8h0.5M128.1 125.5h0.5M140.3 122.5h0.5M133.3 133.9h0.5M139.9 124.6h0.5M140.3 77.1h0.5M132.5 134.3h0.5M138.2 103.6h0.5M144.3 81.3h0.5M131.0 125.8h0.5M127.4 126.8h0.5M136.3 106.6h0.5M143.7 94.2h0.5M130.0 124.7h0.5M143.8 93.6h0.5M137.3 113.2h0.5M132.8 123.9h0.5M131.0 117.6h0.5M143.9 114.3h0.5M137.6 102.4h0.5M138.0 87.1h0.5M136.9 79.2h0.5M136.3 81.5h0.5M133.4 110.1h0.5M137.7 105.5h0.5M136.3 120.6h0.5M132.5 123.8h0.5M135.2 118.8h0.5M144.1 123.3h0.5M137.1 77.3h0.5M136.2 72.6h0.5M143.3 132.9h0.5M138.8 87.6h0.5M141.3 81.8h0.5M141.0 103.9h0.5M132.5 123.8h0.5" stroke="#999" stroke-width="0.5" fill="none"/>
<path d="M104.6 69.5C107.9 68.6 114.2 66.8 119.2 66.7C124.2 66.7 132.1 65.0 134.9 69.0C137.6 72.9 135.8 85.2 135.6 90.6C135.4 96.0 134.6 97.1 133.4 101.3C132.2 105.4 130.1 110.9 128.3 115.4C126.5 119.9 123.9 125.4 122.5 128.3C121.0 131.1 120.3 132.8 119.6 132.5C118.9 132.2 119.0 128.8 118.3 126.4C117.6 124.1 116.9 120.6 115.5 118.2C114.2 115.7 112.1 113.6 110.1 111.8C108.0 109.9 105.4 108.5 103.2 107.2C100.9 105.8 97.9 105.4 96.4 103.9C94.9 102.3 94.3 100.2 94.0 98.0C93.8 95.8 94.5 93.8 94.8 90.6C95.1 87.4 95.1 81.7 95.9 78.7C96.6 75.6 98.0 73.8 99.5 72.3C101.0 70.7 101.3 70.4 104.6 69.5Z" stroke="#999" stroke-width="0.1" fill="#9a9a9a" opacity="0.3"/>
<path d="M105.5 71.3C108.6 70.4 114.4 68.4 119.2 68.2C124.0 68.1 131.5 66.7 134.1 70.4C136.8 74.2 135.1 85.6 134.9 90.6C134.6 95.7 133.9 96.8 132.7 100.7C131.5 104.7 129.3 110.5 127.6 114.5C125.9 118.5 123.6 122.9 122.5 124.6C121.3 126.3 121.4 125.8 120.7 124.6C120.0 123.4 119.4 119.6 118.3 117.3C117.1 115.0 115.5 112.7 113.7 110.8C111.9 109.0 109.6 107.7 107.3 106.2C105.1 104.8 101.8 103.5 100.1 102.0C98.3 100.5 97.2 99.0 96.6 97.1C96.0 95.2 96.4 93.5 96.6 90.6C96.8 87.7 97.0 82.4 97.7 79.6C98.4 76.8 99.7 75.1 101.0 73.7C102.3 72.4 102.5 72.3 105.5 71.3Z" stroke="#999" stroke-width="0.1" fill="#8a8a8a" opacity="0.3"/>
<path d="M130.7 81.4C130.7 84.0 130.0 86.9 128.8 89.2C127.6 91.4 125.6 93.5 123.6 94.8C121.5 96.1 118.8 96.9 116.5 96.9C114.1 96.9 111.4 96.1 109.3 94.8C107.3 93.5 105.3 91.4 104.1 89.2C103.0 86.9 102.2 84.0 102.2 81.4C102.2 78.9 103.0 76.0 104.1 73.7C105.3 71.5 107.3 69.4 109.3 68.1C111.4 66.8 114.1 66.0 116.5 66.0C118.8 66.0 121.5 66.8 123.6 68.1C125.6 69.4 127.6 71.5 128.8 73.7C130.0 76.0 130.7 78.9 130.7 81.4Z" stroke="#888" stroke-width="0.1" fill="#777" opacity="0.3"/>
<path d="M104.6 67.7C108.1 66.7 114.0 65.3 119.2 65.3C124.4 65.3 132.7 63.4 135.6 67.7C138.5 71.9 136.8 85.0 136.5 90.6C136.3 96.3 135.4 97.5 134.1 101.6C132.9 105.8 131.1 110.7 129.2 115.4C127.3 120.2 124.5 127.0 122.8 130.1C121.2 133.3 120.2 134.8 119.2 134.3C118.2 133.9 117.9 130.1 117.0 127.4C116.1 124.7 115.3 120.9 113.7 118.2C112.1 115.4 109.8 112.7 107.3 110.8C104.9 109.0 101.7 107.5 99.1 107.2C96.6 106.9 94.6 108.2 91.8 109.0C89.1 109.8 85.5 110.4 82.7 111.8C80.0 113.1 77.2 116.1 75.4 117.3C73.7 118.4 72.6 118.9 72.2 118.5C71.7 118.2 71.2 117.0 72.7 115.4C74.2 113.8 78.0 111.4 80.9 109.0C83.8 106.5 88.0 103.8 90.0 100.7C92.0 97.7 92.1 94.5 92.8 90.6C93.4 86.8 93.1 81.0 94.0 77.8C94.9 74.6 96.5 73.0 98.2 71.3C100.0 69.7 101.1 68.7 104.6 67.7Z" stroke="#555" stroke-width="0.72" fill="none" />
<path d="M104.6 69.5C107.9 68.6 114.2 66.8 119.2 66.7C124.2 66.7 132.1 65.0 134.9 69.0C137.6 72.9 135.8 85.2 135.6 90.6C135.4 96.0 134.6 97.1 133.4 101.3C132.2 105.4 130.1 110.9 128.3 115.4C126.5 119.9 123.9 125.4 122.5 128.3C121.0 131.1 120.3 132.8 119.6 132.5C118.9 132.2 119.0 128.8 118.3 126.4C117.6 124.1 116.9 120.6 115.5 118.2C114.2 115.7 112.1 113.6 110.1 111.8C108.0 109.9 105.4 108.5 103.2 107.2C100.9 105.8 97.9 105.4 96.4 103.9C94.9 102.3 94.3 100.2 94.0 98.0C93.8 95.8 94.5 93.8 94.8 90.6C95.1 87.4 95.1 81.7 95.9 78.7C96.6 75.6 98.0 73.8 99.5 72.3C101.0 70.7 101.3 70.4 104.6 69.5Z" stroke="#555" stroke-width="0.72" fill="none" />
<path d="M105.5 71.3C108.6 70.4 114.4 68.4 119.2 68.2C124.0 68.1 131.5 66.7 134.1 70.4C136.8 74.2 135.1 85.6 134.9 90.6C134.6 95.7 133.9 96.8 132.7 100.7C131.5 104.7 129.3 110.5 127.6 114.5C125.9 118.5 123.6 122.9 122.5 124.6C121.3 126.3 121.4 125.8 120.7 124.6C120.0 123.4 119.4 119.6 118.3 117.3C117.1 115.0 115.5 112.7 113.7 110.8C111.9 109.0 109.6 107.7 107.3 106.2C105.1 104.8 101.8 103.5 100.1 102.0C98.3 100.5 97.2 99.0 96.6 97.1C96.0 95.2 96.4 93.5 96.6 90.6C96.8 87.7 97.0 82.4 97.7 79.6C98.4 76.8 99.7 75.1 101.0 73.7C102.3 72.4 102.5 72.3 105.5 71.3Z" stroke="#555" stroke-width="0.72" fill="none" />
<path d="M106.8 72.3C109.6 71.3 114.8 69.4 119.2 69.3C123.6 69.2 130.9 68.0 133.4 71.5C135.9 75.1 134.4 85.9 134.1 90.6C133.9 95.3 133.2 96.1 132.0 99.8C130.7 103.5 128.3 109.6 126.9 112.7C125.4 115.7 124.3 117.9 123.2 118.2C122.1 118.5 121.6 116.2 120.3 114.5C119.0 112.8 117.3 109.9 115.5 108.1C113.8 106.2 112.1 104.9 110.1 103.5C108.0 102.1 105.0 101.1 103.2 99.8C101.3 98.5 99.9 97.3 99.1 95.8C98.3 94.2 98.3 93.2 98.4 90.6C98.5 88.1 98.8 83.1 99.5 80.5C100.2 77.9 101.2 76.4 102.4 75.0C103.6 73.6 104.0 73.2 106.8 72.3Z" stroke="#555" stroke-width="0.72" fill="none" />
<path d="M108.3 73.0C110.8 72.1 115.1 70.5 119.2 70.4C123.3 70.4 130.3 69.3 132.7 72.6C135.1 76.0 133.7 86.2 133.4 90.6C133.1 95.0 132.0 96.0 130.9 99.1C129.7 102.1 127.6 107.0 126.5 109.0C125.3 111.0 124.8 111.4 123.9 111.2C123.1 111.0 122.5 109.2 121.4 108.1C120.3 106.9 118.9 105.5 117.4 104.4C115.9 103.3 114.2 102.4 112.3 101.3C110.4 100.2 107.9 99.1 106.1 98.0C104.2 96.8 102.2 95.7 101.3 94.3C100.4 92.9 100.6 91.9 100.6 89.7C100.6 87.6 100.8 83.7 101.3 81.4C101.9 79.1 102.7 77.3 103.9 75.9C105.0 74.5 105.7 73.9 108.3 73.0Z" stroke="#555" stroke-width="0.72" fill="none" />
<path d="M109.3 73.7C111.7 72.8 115.4 71.5 119.2 71.5C123.0 71.5 129.7 70.5 132.0 73.7C134.2 76.9 133.1 86.6 132.7 90.6C132.3 94.7 130.9 95.5 129.8 98.0C128.6 100.4 126.9 103.8 125.8 105.3C124.7 106.9 124.2 107.5 123.2 107.2C122.2 106.9 121.0 104.6 119.6 103.5C118.1 102.4 116.4 101.7 114.6 100.7C112.9 99.8 110.9 98.6 109.2 97.6C107.4 96.6 105.3 96.0 104.2 94.7C103.2 93.4 103.0 91.8 102.8 89.7C102.6 87.7 102.7 84.5 103.2 82.4C103.6 80.2 104.3 78.5 105.3 77.0C106.4 75.6 107.0 74.6 109.3 73.7Z" stroke="#555" stroke-width="0.72" fill="none" />
<path d="M135.2 93.4C134.9 94.8 134.5 98.3 133.4 102.0C132.3 105.7 130.4 111.0 128.7 115.4C127.0 119.8 124.7 125.2 123.2 128.3C121.7 131.4 120.2 133.0 119.6 134.0" stroke="#555" stroke-width="0.72" fill="none" />
<path d="M134.3 93.4C134.0 94.8 133.6 98.3 132.5 102.0C131.4 105.7 129.4 111.0 127.8 115.4C126.1 119.8 124.0 125.2 122.7 128.3C121.3 131.4 120.1 133.0 119.6 134.0" stroke="#555" stroke-width="0.72" fill="none" />
<path d="M133.4 93.4C133.1 94.8 132.7 98.3 131.6 102.0C130.5 105.7 128.4 111.0 126.9 115.4C125.3 119.8 123.3 125.2 122.1 128.3C120.9 131.4 120.0 133.0 119.6 134.0" stroke="#555" stroke-width="0.72" fill="none" />
<path d="M132.5 93.4C132.2 94.8 131.8 98.3 130.7 102.0C129.6 105.7 127.5 111.0 125.9 115.4C124.4 119.8 122.6 125.2 121.6 128.3C120.5 131.4 119.9 133.0 119.6 134.0" stroke="#555" stroke-width="0.72" fill="none" />
<path d="M119.2 98.0C120.3 97.0 124.1 96.4 125.6 97.1C127.1 97.7 128.1 100.0 128.3 101.6C128.5 103.3 127.5 106.0 126.9 107.2C126.2 108.3 125.0 108.9 124.3 108.6C123.6 108.3 123.3 106.2 122.5 105.3C121.6 104.4 119.7 104.3 119.2 103.1C118.6 101.9 118.1 99.0 119.2 98.0Z" stroke="#555" stroke-width="0.65" fill="none" />
<path d="M121.0 99.8C121.6 99.3 124.1 98.6 125.0 99.1C125.9 99.5 126.5 101.3 126.5 102.4C126.5 103.5 125.6 105.5 125.0 105.7C124.5 105.9 123.8 104.1 123.2 103.5C122.6 102.9 121.7 102.6 121.4 102.0C121.0 101.4 120.4 100.3 121.0 99.8Z" stroke="#555" stroke-width="0.65" fill="none" />
<path d="M117.4 109.0C118.2 108.7 121.0 109.6 121.9 110.8C122.9 112.1 123.4 114.5 123.2 116.3C123.1 118.2 121.7 121.7 121.0 121.9C120.4 122.0 119.9 118.8 119.2 117.3C118.5 115.7 117.3 114.0 117.0 112.7C116.7 111.3 116.6 109.3 117.4 109.0Z" stroke="#555" stroke-width="0.65" fill="none" />
<path d="M122.6 82.8C122.6 85.1 123.2 87.7 122.6 89.6C122.0 91.4 120.4 93.2 118.8 94.1C117.2 95.1 114.8 95.5 113.0 95.3C111.1 95.1 109.1 94.1 107.6 92.8C106.1 91.4 104.8 89.3 104.1 87.2C103.4 85.1 103.1 82.4 103.4 80.1C103.7 77.8 104.6 75.2 105.7 73.3C106.9 71.4 108.7 69.7 110.5 68.8C112.2 67.8 114.4 67.4 116.3 67.6C118.2 67.8 120.6 68.8 121.7 70.1C122.7 71.5 122.5 73.6 122.6 75.7C122.8 77.8 122.6 80.5 122.6 82.8Z" stroke="#666" stroke-width="0.65" fill="none" />
<path d="M122.3 82.6C122.3 84.8 122.9 87.1 122.3 88.9C121.6 90.6 119.7 92.2 118.2 93.1C116.7 94.0 114.7 94.4 113.1 94.2C111.5 94.0 109.7 93.1 108.4 91.9C107.1 90.7 106.0 88.7 105.4 86.8C104.8 84.9 104.6 82.4 104.9 80.3C105.1 78.1 105.9 75.8 106.9 74.0C108.0 72.3 109.5 70.7 111.1 69.8C112.6 68.9 114.5 68.5 116.2 68.7C117.8 68.9 119.8 69.7 120.8 71.0C121.9 72.2 122.0 74.1 122.3 76.1C122.5 78.0 122.3 80.5 122.3 82.6Z" stroke="#5a5a5a" stroke-width="0.72" fill="none" />
<path d="M121.9 82.5C121.8 84.4 121.9 86.6 121.2 88.2C120.4 89.8 118.9 91.2 117.6 92.1C116.3 92.9 114.6 93.3 113.2 93.1C111.9 92.9 110.3 92.2 109.3 91.0C108.2 89.9 107.2 88.2 106.7 86.4C106.2 84.6 106.1 82.4 106.3 80.4C106.5 78.5 107.2 76.3 108.1 74.7C109.0 73.1 110.4 71.7 111.7 70.8C113.0 70.0 114.6 69.6 116.0 69.8C117.4 69.9 119.0 70.7 120.0 71.8C121.0 73.0 121.6 74.7 121.9 76.5C122.2 78.3 122.0 80.5 121.9 82.5Z" stroke="#505050" stroke-width="0.91" fill="none" />
<path d="M121.0 82.2C120.8 83.9 120.2 85.9 119.5 87.3C118.8 88.7 117.7 90.1 116.7 90.8C115.7 91.6 114.4 92.0 113.4 91.8C112.3 91.7 111.2 91.0 110.4 90.1C109.6 89.1 108.9 87.5 108.5 86.0C108.2 84.4 108.1 82.4 108.3 80.7C108.5 78.9 109.1 77.0 109.8 75.6C110.5 74.1 111.5 72.8 112.5 72.1C113.6 71.3 114.8 70.9 115.9 71.0C116.9 71.2 118.1 71.8 118.9 72.8C119.7 73.8 120.4 75.3 120.7 76.9C121.1 78.5 121.2 80.5 121.0 82.2Z" stroke="#2a2a2a" stroke-width="1.8" fill="none" />
<path d="M119.2 82.9C119.0 84.2 118.6 85.6 118.1 86.7C117.6 87.7 116.8 88.7 116.1 89.3C115.4 89.8 114.5 90.1 113.7 90.0C113.0 89.9 112.2 89.4 111.6 88.7C111.0 88.0 110.5 86.9 110.3 85.7C110.0 84.6 110.0 83.1 110.1 81.8C110.3 80.5 110.7 79.1 111.2 78.1C111.7 77.0 112.4 76.0 113.2 75.5C113.9 74.9 114.8 74.6 115.6 74.7C116.3 74.8 117.1 75.3 117.7 76.0C118.3 76.7 118.8 77.9 119.0 79.0C119.3 80.2 119.3 81.6 119.2 82.9Z" stroke="#555" stroke-width="0.91" fill="none" />
<path d="M117.5 82.7C117.4 83.6 117.2 84.5 116.8 85.2C116.5 85.9 116.0 86.6 115.6 87.0C115.1 87.3 114.5 87.5 114.0 87.5C113.5 87.4 113.0 87.1 112.7 86.6C112.3 86.1 112.0 85.4 111.8 84.6C111.7 83.8 111.6 82.9 111.7 82.0C111.8 81.2 112.1 80.2 112.4 79.5C112.8 78.8 113.2 78.1 113.7 77.8C114.2 77.4 114.8 77.2 115.2 77.3C115.7 77.3 116.2 77.6 116.6 78.1C117.0 78.6 117.3 79.3 117.5 80.1C117.6 80.9 117.6 81.9 117.5 82.7Z" stroke="#666" stroke-width="0.78" fill="none" />
<path d="M115.9 82.5C115.9 82.9 115.7 83.4 115.6 83.7C115.4 84.0 115.2 84.3 115.0 84.5C114.8 84.7 114.6 84.8 114.4 84.7C114.1 84.7 113.9 84.6 113.8 84.3C113.6 84.1 113.5 83.8 113.4 83.4C113.3 83.1 113.3 82.6 113.4 82.2C113.4 81.8 113.5 81.4 113.7 81.0C113.8 80.7 114.0 80.4 114.2 80.2C114.5 80.1 114.7 80.0 114.9 80.0C115.1 80.0 115.4 80.2 115.5 80.4C115.7 80.6 115.8 81.0 115.9 81.3C115.9 81.7 116.0 82.1 115.9 82.5Z" stroke="#888" stroke-width="0.65" fill="none" />
<rect x="121.7" y="71.3" width="5.1" height="20.2" fill="#9a9a9a" opacity="0.5"/>
<path d="M125.3 82.1h0.6M126.2 75.4h0.6M126.3 78.2h0.6M121.9 78.1h0.6M122.1 72.8h0.6M124.9 73.8h0.6M122.6 77.3h0.6M123.2 89.9h0.6M126.4 88.9h0.6M126.8 80.2h0.6M125.8 77.0h0.6M126.5 87.7h0.6M125.5 75.9h0.6M122.2 90.0h0.6M124.6 83.7h0.6M126.1 74.2h0.6M125.3 80.7h0.6M125.8 80.6h0.6M122.8 90.7h0.6M123.2 86.4h0.6M126.0 76.3h0.6M125.3 79.3h0.6M122.9 75.7h0.6M126.6 78.8h0.6M124.4 81.5h0.6M121.9 86.6h0.6M125.6 89.0h0.6M123.6 75.6h0.6M123.5 86.1h0.6M125.1 79.5h0.6M124.4 74.5h0.6M126.4 80.9h0.6M124.3 87.2h0.6M122.8 85.9h0.6M123.6 87.8h0.6M122.2 76.9h0.6M125.0 81.1h0.6M123.7 83.0h0.6M122.9 80.2h0.6M121.8 87.5h0.6M123.0 88.1h0.6M124.6 83.5h0.6M124.9 73.9h0.6M125.7 77.2h0.6M126.2 87.2h0.6M125.2 87.8h0.6M124.0 84.9h0.6M126.6 75.2h0.6M122.3 79.7h0.6M124.4 74.4h0.6M122.9 88.8h0.6M123.7 74.3h0.6M122.7 83.0h0.6M122.7 80.9h0.6M124.5 80.2h0.6M124.3 88.2h0.6M121.8 90.1h0.6M122.8 72.1h0.6M125.7 82.9h0.6M124.5 75.7h0.6M125.7 77.5h0.6M125.5 76.0h0.6M124.7 84.4h0.6M123.6 81.0h0.6M122.1 84.3h0.6M125.3 74.4h0.6M124.6 86.2h0.6M122.3 88.3h0.6M126.2 72.4h0.6M123.0 73.0h0.6M123.0 73.1h0.6M124.2 76.4h0.6M123.3 80.7h0.6M123.6 87.3h0.6M125.4 73.6h0.6M122.9 71.5h0.6M123.4 73.5h0.6M125.3 87.1h0.6M126.8 75.6h0.6M121.9 86.6h0.6" stroke="#fff" stroke-width="0.6" fill="none"/>
<rect x="126.9" y="70.8" width="7.7" height="20.8" fill="#8a8a8a" opacity="0.55"/>
<path d="M127.9 72.3C128.5 73.0 130.4 75.0 131.0 76.9C131.7 78.7 132.0 81.1 132.0 83.3C131.9 85.4 131.5 88.2 130.9 89.7C130.3 91.2 128.7 92.0 128.3 92.5" stroke="#2a2a2a" stroke-width="2.3" fill="none" />
<path d="M129.2 70.4C129.9 71.5 132.6 74.6 133.4 76.9C134.2 79.1 134.1 81.9 134.0 84.2C133.8 86.5 133.3 88.9 132.7 90.6C132.1 92.4 130.6 94.0 130.1 94.7" stroke="#555" stroke-width="0.78" fill="none" />
<rect x="121.4" y="67.7" width="13.7" height="24.4" fill="none" stroke="#5a5a5a" stroke-width="1.3"/>
<rect x="69.6" y="134.3" width="24.1" height="1.8" fill="#111"/>
<rect x="93.7" y="134.7" width="34.6" height="1.5" fill="#555"/>
<rect x="69.6" y="118.2" width="1.5" height="17.8" fill="#444"/>
</g></g>
<path d="M69.9 64.9L69.9 136.0" stroke="#555" stroke-width="1.1" stroke-dasharray="1.3 0.8" fill="none"/>
<path d="M69.6 135.8L140.0 135.8" stroke="#555" stroke-width="1.1" stroke-dasharray="1.1 0.9" fill="none"/>
<path d="M68.3 66.4L69.6 66.4M68.3 82.9L69.6 82.9M68.3 101.6L69.6 101.6M68.3 119.7L69.6 119.7M68.3 128.3L69.6 128.3M77.6 136.0L77.6 137.3M84.6 136.0L84.6 137.3M105.0 136.0L105.0 137.3M121.9 136.0L121.9 137.3M139.3 136.0L139.3 137.3" stroke="#333" stroke-width="0.6" fill="none"/>
<text x="60.5" y="67.7" font-size="3.2" fill="#333">10<tspan dy="-1.2" font-size="2.5">5</tspan></text>
<text x="60.5" y="84.2" font-size="3.2" fill="#333">10<tspan dy="-1.2" font-size="2.5">4</tspan></text>
<text x="60.5" y="102.9" font-size="3.2" fill="#333">10<tspan dy="-1.2" font-size="2.5">3</tspan></text>
<text x="60.5" y="120.9" font-size="3.2" fill="#333">10<tspan dy="-1.2" font-size="2.5">2</tspan></text>
<text x="64.1" y="129.6" font-size="3.2" fill="#333">0</text>
<text x="82.0" y="143.2" font-size="3.2" fill="#333">10<tspan dy="-1.2" font-size="2.5">2</tspan></text>
<text x="102.4" y="143.2" font-size="3.2" fill="#333">10<tspan dy="-1.2" font-size="2.5">3</tspan></text>
<text x="119.4" y="143.2" font-size="3.2" fill="#333">10<tspan dy="-1.2" font-size="2.5">4</tspan></text>
<text x="136.7" y="143.2" font-size="3.2" fill="#333">10<tspan dy="-1.2" font-size="2.5">5</tspan></text>
<text x="76.5" y="143.2" font-size="3.2" fill="#333">0</text>
<text x="72.7" y="70.1" font-size="9.3" textLength="30.2" lengthAdjust="spacingAndGlyphs">16.80%</text>
<rect x="168.2" y="59.4" width="76.6" height="76.6" fill="#fff" stroke="#8a8a8a" stroke-width="0.8"/>
<clipPath id="cp2"><rect x="168.2" y="59.4" width="76.6" height="76.6"/></clipPath><g clip-path="url(#cp2)"><g filter="url(#soft)">
<path d="M181.1 106.3h0.6M180.5 82.5h0.6M171.2 107.0h0.6M184.0 87.4h0.6M181.8 100.1h0.6M193.2 88.8h0.6M174.3 86.1h0.6M188.3 92.0h0.6M182.5 92.6h0.6M176.2 91.9h0.6M194.2 73.5h0.6M179.8 104.4h0.6M197.5 70.9h0.6M187.3 94.8h0.6M193.6 88.6h0.6M172.9 82.0h0.6M189.8 98.5h0.6M175.0 95.2h0.6M188.2 95.8h0.6M169.7 87.5h0.6M178.5 93.5h0.6M178.9 75.4h0.6M188.6 81.5h0.6M192.1 82.2h0.6M185.0 101.6h0.6M172.5 98.6h0.6M171.1 106.5h0.6M169.8 98.4h0.6M179.8 77.4h0.6M180.6 89.8h0.6M181.2 75.1h0.6M184.3 82.0h0.6M181.8 79.2h0.6M187.9 102.5h0.6M180.5 99.6h0.6M177.2 74.6h0.6M170.3 87.7h0.6M194.5 78.3h0.6M181.9 99.8h0.6M177.1 76.3h0.6M184.2 86.8h0.6M176.0 92.1h0.6M181.2 71.7h0.6M182.0 105.7h0.6M177.9 93.0h0.6M189.7 72.9h0.6M195.9 74.6h0.6M177.9 98.0h0.6M169.7 84.9h0.6M172.8 88.7h0.6M169.6 76.3h0.6M175.6 73.6h0.6M171.7 77.9h0.6M184.1 75.7h0.6M193.0 86.5h0.6M176.4 79.7h0.6M193.5 72.2h0.6M190.7 74.2h0.6M186.5 103.7h0.6M172.0 72.9h0.6M189.3 93.1h0.6M190.0 81.1h0.6M183.5 77.6h0.6M181.8 81.3h0.6M186.1 82.0h0.6M177.1 95.2h0.6M171.6 101.3h0.6M183.5 79.3h0.6M172.4 90.0h0.6M183.7 98.2h0.6M180.0 86.3h0.6M176.6 101.8h0.6M186.9 78.3h0.6M192.6 91.9h0.6M171.4 103.7h0.6M174.2 80.4h0.6M187.0 77.9h0.6M182.5 97.9h0.6M171.9 95.9h0.6M172.1 88.8h0.6M188.0 96.9h0.6M170.4 77.8h0.6M181.4 84.9h0.6M189.3 99.0h0.6M188.0 85.9h0.6M185.6 90.3h0.6M174.6 107.0h0.6M197.1 100.4h0.6M193.5 79.7h0.6M190.7 98.0h0.6M196.4 102.6h0.6M192.0 88.8h0.6M178.2 84.6h0.6M192.3 102.9h0.6M193.6 96.2h0.6M174.1 76.4h0.6M185.6 78.6h0.6M178.9 74.4h0.6M173.6 98.1h0.6M175.6 103.1h0.6M178.7 103.2h0.6M177.9 80.7h0.6M181.8 85.1h0.6M169.5 103.7h0.6M176.5 71.4h0.6M172.0 97.8h0.6M186.0 89.9h0.6M176.3 81.5h0.6M172.7 103.1h0.6M169.7 97.8h0.6M192.6 97.3h0.6M185.1 101.8h0.6M173.6 91.2h0.6M176.8 85.8h0.6M174.7 97.7h0.6M185.8 100.5h0.6M187.4 93.5h0.6M195.9 101.8h0.6M185.6 83.0h0.6M172.1 83.3h0.6M187.9 96.0h0.6M196.3 100.4h0.6M182.0 88.2h0.6M191.2 82.7h0.6M172.3 94.3h0.6M192.6 80.0h0.6M172.8 75.7h0.6M183.4 83.3h0.6M182.0 101.0h0.6M187.5 77.1h0.6M171.3 87.9h0.6M169.6 89.0h0.6M181.1 103.2h0.6M191.8 93.0h0.6M176.0 82.2h0.6M183.4 85.7h0.6M187.9 89.9h0.6M178.5 93.8h0.6M171.8 72.6h0.6M181.4 102.7h0.6M193.4 93.0h0.6M186.0 70.9h0.6M180.2 80.5h0.6M187.1 72.9h0.6M184.9 84.9h0.6M183.4 86.0h0.6M172.1 98.6h0.6M192.4 93.5h0.6M172.5 93.5h0.6M191.1 72.2h0.6M194.6 96.1h0.6M177.1 105.9h0.6M176.3 92.7h0.6M180.1 81.8h0.6M191.2 94.2h0.6M178.7 91.4h0.6M182.5 91.7h0.6M187.2 88.9h0.6M187.5 91.0h0.6M169.5 82.8h0.6M194.6 72.7h0.6M192.1 71.6h0.6M187.9 101.3h0.6M176.0 85.1h0.6M175.7 97.6h0.6M184.5 93.8h0.6M178.6 93.1h0.6M196.8 100.5h0.6M184.1 85.3h0.6M179.2 101.4h0.6M174.2 92.0h0.6M169.6 80.9h0.6M173.8 102.9h0.6M180.6 91.6h0.6M196.1 72.9h0.6M178.7 76.4h0.6M173.0 82.1h0.6M189.5 92.8h0.6M172.6 101.3h0.6M183.8 75.9h0.6M192.9 102.1h0.6M175.4 106.7h0.6M192.6 79.3h0.6M169.1 103.9h0.6M193.1 74.2h0.6M191.4 100.2h0.6M187.5 102.5h0.6M178.2 96.8h0.6M189.0 103.2h0.6M185.6 81.1h0.6M176.4 91.4h0.6M173.0 103.6h0.6M189.4 96.4h0.6M172.6 100.4h0.6M191.4 82.2h0.6M172.0 81.3h0.6M191.5 88.4h0.6M192.8 76.6h0.6M172.2 83.9h0.6M194.7 76.7h0.6M171.2 99.5h0.6M171.8 96.2h0.6M171.5 79.9h0.6M188.4 104.1h0.6M181.0 87.8h0.6M170.0 83.6h0.6M176.1 100.8h0.6M189.9 100.7h0.6M184.6 97.4h0.6M172.8 85.3h0.6M177.6 81.3h0.6M190.6 78.7h0.6M178.6 81.3h0.6M194.2 95.1h0.6M183.1 85.1h0.6M182.2 92.3h0.6M176.6 74.4h0.6M183.7 100.1h0.6M173.7 87.1h0.6M180.2 102.8h0.6M172.7 95.0h0.6M188.3 82.3h0.6M184.1 81.5h0.6M182.1 88.5h0.6M193.7 102.0h0.6M180.0 102.4h0.6M175.3 99.5h0.6M182.7 86.3h0.6M174.8 101.3h0.6M190.3 73.9h0.6M180.0 86.4h0.6M185.9 104.8h0.6M179.7 74.6h0.6M171.1 90.4h0.6M186.0 87.7h0.6M179.3 86.6h0.6M174.1 106.6h0.6M186.3 91.4h0.6M181.5 80.1h0.6M178.3 89.5h0.6M185.5 78.4h0.6M170.7 76.6h0.6M179.2 100.6h0.6M191.8 87.5h0.6M184.7 91.0h0.6M170.3 73.0h0.6M188.5 97.0h0.6M180.2 105.9h0.6M192.9 82.1h0.6M171.1 91.8h0.6M188.1 79.1h0.6M170.4 89.2h0.6M170.1 98.8h0.6M187.3 81.2h0.6M182.1 79.4h0.6M174.5 77.4h0.6M192.8 87.9h0.6M189.9 83.8h0.6M192.5 93.4h0.6M188.1 85.6h0.6M185.4 77.8h0.6M184.6 95.1h0.6M172.0 83.3h0.6M175.8 102.9h0.6M169.5 87.6h0.6M194.3 100.6h0.6M190.0 82.1h0.6M175.9 97.6h0.6M177.8 98.3h0.6M179.3 99.8h0.6M185.7 101.9h0.6M197.8 70.8h0.6M194.6 71.6h0.6M184.9 85.4h0.6M191.5 82.6h0.6M175.2 100.7h0.6M185.1 99.6h0.6M183.3 71.8h0.6M191.5 78.8h0.6M176.6 96.1h0.6M191.3 95.0h0.6M182.0 98.7h0.6M188.5 78.4h0.6M184.6 93.5h0.6M190.3 78.0h0.6M178.1 83.7h0.6M171.9 83.9h0.6M190.3 92.7h0.6M174.1 98.6h0.6M172.5 99.4h0.6M173.4 74.1h0.6M176.4 90.3h0.6M177.0 104.5h0.6M190.9 97.3h0.6M185.4 80.3h0.6M169.5 83.2h0.6M178.4 78.1h0.6M181.6 105.1h0.6M169.8 102.7h0.6M175.3 74.9h0.6M179.8 75.0h0.6M174.3 80.1h0.6M185.9 87.6h0.6M178.0 90.7h0.6M191.6 98.4h0.6M179.1 105.8h0.6M192.1 92.1h0.6M182.9 83.1h0.6M173.0 104.6h0.6M186.8 74.2h0.6M170.1 97.4h0.6M176.0 91.1h0.6M193.3 83.9h0.6M183.6 96.1h0.6M174.7 94.6h0.6M174.6 97.9h0.6M170.3 81.0h0.6M172.5 76.2h0.6M184.4 77.2h0.6M192.2 74.1h0.6M187.2 103.6h0.6M172.8 78.8h0.6M191.3 88.6h0.6M172.5 103.2h0.6M191.6 99.3h0.6M186.6 74.3h0.6M191.9 98.3h0.6M178.3 96.8h0.6M181.0 99.4h0.6M170.4 106.4h0.6M180.3 101.4h0.6M182.8 101.8h0.6M177.9 91.4h0.6M169.8 89.3h0.6M171.4 103.6h0.6M188.8 86.8h0.6M189.6 98.5h0.6M186.7 71.0h0.6M186.4 101.8h0.6M177.1 71.5h0.6M170.3 75.7h0.6M175.2 76.1h0.6M195.2 96.1h0.6M186.0 75.5h0.6M169.2 86.6h0.6M172.1 107.2h0.6M193.5 98.6h0.6M170.3 97.2h0.6M183.4 89.4h0.6M173.3 90.2h0.6M192.4 75.5h0.6M176.8 79.6h0.6M182.5 95.4h0.6M185.7 104.8h0.6M184.0 90.2h0.6M169.6 83.1h0.6M178.2 75.2h0.6M181.3 71.8h0.6M194.6 97.3h0.6M190.3 99.7h0.6M177.9 98.5h0.6M175.1 91.8h0.6M186.4 100.3h0.6M174.0 83.7h0.6M193.0 101.5h0.6M175.2 74.5h0.6M190.1 99.2h0.6M187.9 100.5h0.6M184.1 92.1h0.6M188.2 93.1h0.6M183.5 99.6h0.6M185.7 75.4h0.6M181.5 86.7h0.6M181.7 92.1h0.6M179.6 85.5h0.6M181.5 84.7h0.6M169.6 98.3h0.6M180.6 87.7h0.6M186.3 84.6h0.6M177.4 88.4h0.6M178.5 72.7h0.6M195.0 102.7h0.6M176.1 80.3h0.6M189.4 101.2h0.6M182.7 85.4h0.6M175.9 101.2h0.6M172.4 93.3h0.6M182.4 76.0h0.6M170.9 98.7h0.6M171.1 101.6h0.6M188.4 88.7h0.6M187.0 74.3h0.6M186.2 86.7h0.6M176.4 106.2h0.6M190.3 75.1h0.6M175.8 83.6h0.6M185.7 82.9h0.6M181.9 101.8h0.6M174.4 98.2h0.6M178.7 106.9h0.6M186.7 74.7h0.6M181.0 94.5h0.6M187.6 83.6h0.6M170.1 75.2h0.6M185.4 77.0h0.6M178.0 94.3h0.6M176.5 93.0h0.6M177.1 100.6h0.6M173.6 80.5h0.6M181.8 105.5h0.6M173.9 77.8h0.6M172.9 78.7h0.6M178.8 85.7h0.6M191.2 86.0h0.6M182.9 85.7h0.6M181.5 106.0h0.6M184.4 96.7h0.6M180.2 80.9h0.6M173.0 104.6h0.6M179.6 97.4h0.6M182.5 90.7h0.6M175.1 77.3h0.6M178.9 96.7h0.6M189.8 87.1h0.6M171.1 80.4h0.6M175.3 102.2h0.6M185.1 83.0h0.6M176.3 81.7h0.6M177.2 83.8h0.6M192.1 100.8h0.6M188.1 74.8h0.6M170.4 76.8h0.6M176.6 90.8h0.6M193.0 93.0h0.6M181.6 79.8h0.6M179.0 72.2h0.6M193.7 74.9h0.6M188.1 84.2h0.6M172.0 78.1h0.6M187.8 96.7h0.6M177.3 80.9h0.6M171.6 108.4h0.6M170.4 94.0h0.6M179.3 77.6h0.6M176.3 76.8h0.6M187.4 95.8h0.6M183.9 77.4h0.6M194.5 74.7h0.6M174.2 79.7h0.6M184.0 88.8h0.6M185.2 98.5h0.6M170.3 102.5h0.6M169.6 82.7h0.6M173.3 93.7h0.6M191.8 75.4h0.6M177.7 103.3h0.6M189.1 74.6h0.6M189.0 101.1h0.6M181.0 76.4h0.6M188.2 82.7h0.6M173.0 76.8h0.6M180.8 75.3h0.6M180.3 91.7h0.6M185.1 86.0h0.6M192.3 73.8h0.6M178.7 106.4h0.6M191.3 91.1h0.6M192.0 92.5h0.6M172.5 80.3h0.6M171.9 104.2h0.6M178.5 86.1h0.6M184.7 74.3h0.6M189.6 101.1h0.6M178.3 76.0h0.6M191.2 97.2h0.6M179.9 83.7h0.6M173.6 102.5h0.6M182.5 101.7h0.6M179.0 82.8h0.6M184.0 99.2h0.6M189.2 86.0h0.6M194.1 99.7h0.6M185.2 84.4h0.6M177.1 104.6h0.6M192.4 82.2h0.6M171.6 77.9h0.6M197.1 71.9h0.6M192.6 90.8h0.6M185.2 91.2h0.6M181.0 91.9h0.6M171.7 105.9h0.6M172.1 75.8h0.6M188.6 95.1h0.6M192.5 97.1h0.6M196.1 72.4h0.6M169.4 79.6h0.6M191.7 76.3h0.6M184.5 100.1h0.6M173.6 90.8h0.6M195.3 99.3h0.6M180.7 88.9h0.6M191.8 96.7h0.6M177.9 98.7h0.6M183.2 101.2h0.6M179.7 104.4h0.6M189.0 87.8h0.6M185.5 101.5h0.6M169.3 105.0h0.6M189.8 89.3h0.6M193.8 76.2h0.6M178.9 98.0h0.6M193.0 84.8h0.6M170.4 75.2h0.6M171.3 92.4h0.6M178.5 80.5h0.6M182.1 73.4h0.6M195.5 102.8h0.6M185.3 87.6h0.6M178.1 93.7h0.6M193.1 73.3h0.6M172.7 83.8h0.6M172.8 86.7h0.6M197.7 102.6h0.6M175.6 71.3h0.6M177.1 72.6h0.6M184.4 82.0h0.6M188.7 92.1h0.6M186.5 82.0h0.6M190.4 97.0h0.6M189.9 88.6h0.6M182.6 81.5h0.6M170.3 88.4h0.6M187.0 77.6h0.6M193.9 101.9h0.6M183.3 77.2h0.6M177.0 98.9h0.6M169.3 84.0h0.6M179.3 93.5h0.6M172.4 103.0h0.6M178.9 105.5h0.6M178.7 82.2h0.6M174.2 107.7h0.6M186.2 102.3h0.6M170.9 91.4h0.6M176.5 71.4h0.6M185.4 84.3h0.6M176.6 102.1h0.6M169.6 86.5h0.6M179.8 92.9h0.6M176.0 97.7h0.6M188.1 74.1h0.6M195.8 73.2h0.6M189.3 83.9h0.6M173.3 73.4h0.6M182.4 101.1h0.6M184.6 81.0h0.6M190.3 96.3h0.6M193.6 86.2h0.6M185.3 103.2h0.6M174.9 103.6h0.6M169.8 91.1h0.6M185.8 76.1h0.6M174.5 86.3h0.6M186.3 87.0h0.6M169.2 74.0h0.6M189.8 75.5h0.6M176.5 101.6h0.6M191.0 93.5h0.6M179.7 71.1h0.6M181.6 79.6h0.6M175.2 73.3h0.6M189.3 74.6h0.6M175.6 87.4h0.6M178.3 88.8h0.6M173.8 85.9h0.6M189.4 82.9h0.6M192.2 77.5h0.6M172.1 94.6h0.6M182.3 105.8h0.6M172.2 99.2h0.6M188.6 84.7h0.6M172.8 94.0h0.6M191.1 88.7h0.6M182.8 96.9h0.6M186.8 86.8h0.6M174.5 88.3h0.6M185.1 105.0h0.6M178.6 79.0h0.6M187.4 98.9h0.6M176.3 97.1h0.6M188.0 103.9h0.6M175.0 83.8h0.6M178.0 88.8h0.6M190.7 94.7h0.6M169.2 73.2h0.6M170.2 87.1h0.6M169.9 90.7h0.6M187.5 78.2h0.6M187.1 91.3h0.6M176.7 100.5h0.6M169.2 80.0h0.6M178.4 104.5h0.6M183.6 71.8h0.6M177.8 93.9h0.6M192.6 74.6h0.6M191.7 85.5h0.6M184.3 86.7h0.6M190.5 97.4h0.6M173.2 71.8h0.6M193.2 96.4h0.6M187.4 82.5h0.6M176.9 105.9h0.6M184.6 71.2h0.6M179.0 83.9h0.6M171.1 108.2h0.6M195.3 101.9h0.6M169.2 86.5h0.6M172.3 98.4h0.6M192.6 100.9h0.6M192.1 75.1h0.6" stroke="#808080" stroke-width="0.6" fill="none"/>
<path d="M169.6 62.2h0.5M189.7 63.6h0.5M203.3 62.5h0.5M182.1 61.3h0.5M207.6 62.1h0.5M199.1 63.5h0.5M182.1 64.7h0.5M186.5 62.5h0.5M197.1 66.5h0.5M199.7 64.6h0.5M185.6 68.8h0.5M181.5 69.8h0.5M198.5 67.0h0.5M185.4 67.0h0.5M172.2 62.2h0.5M181.5 62.5h0.5M171.1 68.5h0.5M198.3 67.5h0.5M177.3 68.5h0.5M202.1 67.5h0.5M178.2 66.9h0.5M184.9 64.0h0.5M175.0 70.0h0.5M176.0 63.9h0.5M189.4 61.8h0.5M181.2 66.7h0.5M192.2 67.7h0.5M192.5 69.2h0.5M183.7 61.2h0.5M174.2 62.4h0.5M178.0 67.9h0.5M174.3 61.4h0.5M188.8 61.3h0.5M179.4 65.1h0.5M177.3 61.3h0.5M179.5 63.7h0.5M182.1 65.4h0.5M183.5 64.5h0.5M169.9 69.7h0.5M198.6 66.2h0.5" stroke="#aaa" stroke-width="0.5" fill="none"/>
<path d="M206.9 118.6h0.65M191.7 129.1h0.65M198.2 121.6h0.65M189.8 114.6h0.65M200.7 124.9h0.65M200.9 123.3h0.65M206.1 131.6h0.65M188.9 127.7h0.65M191.0 115.4h0.65M191.6 130.3h0.65M205.1 129.5h0.65M195.6 132.5h0.65M192.9 122.0h0.65M201.9 112.1h0.65M195.6 108.2h0.65M204.6 110.7h0.65M190.2 113.4h0.65M201.2 123.8h0.65M198.7 130.1h0.65M203.6 111.4h0.65M198.9 110.2h0.65M188.9 115.5h0.65M206.6 124.4h0.65M200.1 120.7h0.65M199.6 122.8h0.65M189.0 127.8h0.65M192.5 122.4h0.65M198.8 115.2h0.65M196.5 121.0h0.65M205.5 134.0h0.65M204.0 121.0h0.65M202.9 123.8h0.65M208.2 133.5h0.65M203.8 111.6h0.65M199.6 118.1h0.65M192.3 128.0h0.65M192.1 125.9h0.65M197.9 117.7h0.65M202.7 126.4h0.65M204.7 113.0h0.65M201.8 119.7h0.65M197.5 120.8h0.65M197.8 107.4h0.65M191.0 118.2h0.65M194.8 119.8h0.65M198.8 116.6h0.65M199.4 133.5h0.65M193.4 115.5h0.65M194.2 126.9h0.65M198.0 128.4h0.65M191.7 116.0h0.65M196.0 116.5h0.65M199.8 133.3h0.65M201.2 122.6h0.65M205.3 115.0h0.65M198.9 122.2h0.65M188.7 126.9h0.65M195.4 124.0h0.65M193.4 132.0h0.65M195.3 113.3h0.65M193.2 119.5h0.65M191.8 128.4h0.65M188.9 117.3h0.65M204.3 126.0h0.65M206.6 115.7h0.65M205.0 119.0h0.65M206.7 119.2h0.65M190.8 130.7h0.65M199.8 130.4h0.65M190.5 119.3h0.65M197.5 108.5h0.65M193.0 132.1h0.65M203.0 120.1h0.65M200.5 130.3h0.65M208.0 122.6h0.65M188.4 130.6h0.65M190.2 120.2h0.65M199.9 118.7h0.65M197.5 109.4h0.65M202.9 120.9h0.65M194.0 129.5h0.65M207.7 132.1h0.65M195.7 118.4h0.65M192.8 126.9h0.65M198.3 133.4h0.65M206.6 118.4h0.65M189.5 118.6h0.65M198.5 128.1h0.65M191.3 113.4h0.65M200.6 108.1h0.65M203.6 117.6h0.65M188.9 116.6h0.65M198.5 121.0h0.65M189.4 122.2h0.65M197.0 114.8h0.65M205.3 125.4h0.65M201.1 133.4h0.65M208.4 130.4h0.65M190.0 128.3h0.65M203.9 119.0h0.65M190.1 123.0h0.65M200.9 130.2h0.65M193.0 130.5h0.65M189.7 128.3h0.65M206.8 121.6h0.65M200.5 123.1h0.65M204.1 120.3h0.65M201.5 107.6h0.65M204.6 121.2h0.65M195.0 133.3h0.65M199.9 112.2h0.65M199.6 130.2h0.65M195.3 117.9h0.65M199.8 134.0h0.65M201.2 110.6h0.65M199.9 114.6h0.65M197.6 126.0h0.65M194.1 122.7h0.65M205.1 118.9h0.65M201.0 113.7h0.65M192.8 120.1h0.65M198.9 111.8h0.65M203.9 119.8h0.65M195.0 112.7h0.65M205.5 131.5h0.65M188.8 123.7h0.65M202.1 115.1h0.65M196.9 125.1h0.65M190.7 115.9h0.65M204.4 125.1h0.65M200.0 108.3h0.65M192.0 112.8h0.65M187.9 123.9h0.65M199.7 132.1h0.65M199.3 132.0h0.65M197.5 120.3h0.65M193.4 118.8h0.65M207.7 119.5h0.65M191.6 123.4h0.65M198.4 119.1h0.65M207.5 127.5h0.65M202.5 122.6h0.65M201.5 119.8h0.65M205.5 122.8h0.65M207.0 121.1h0.65M190.8 125.8h0.65M207.4 130.4h0.65M201.3 128.8h0.65M189.2 118.8h0.65M204.9 115.2h0.65M190.4 130.4h0.65M188.6 121.5h0.65M208.0 123.3h0.65M199.8 110.6h0.65M194.5 109.7h0.65M201.6 124.1h0.65M207.0 127.6h0.65M188.9 130.5h0.65M199.1 132.5h0.65M198.0 107.7h0.65M202.6 110.4h0.65M206.9 119.6h0.65M194.4 124.5h0.65M202.7 118.7h0.65M193.3 117.5h0.65M202.8 112.0h0.65M190.7 119.4h0.65M201.6 107.3h0.65M193.2 133.5h0.65M193.1 127.7h0.65M197.9 130.6h0.65M202.6 123.3h0.65M197.8 124.6h0.65M198.6 110.6h0.65M202.4 109.1h0.65M194.0 130.0h0.65M199.6 120.2h0.65M202.7 119.6h0.65M195.6 121.4h0.65M207.0 124.3h0.65M190.7 130.1h0.65M193.4 128.7h0.65M201.4 122.9h0.65M203.4 113.1h0.65M205.4 121.1h0.65M203.7 129.7h0.65M192.8 117.2h0.65M206.3 125.2h0.65M197.9 121.1h0.65M195.1 125.2h0.65M198.9 119.8h0.65M192.9 111.8h0.65M201.9 115.2h0.65M207.7 131.5h0.65M198.5 108.4h0.65M198.2 133.1h0.65M203.9 115.9h0.65M193.3 132.4h0.65M188.4 129.8h0.65M208.0 124.1h0.65M195.7 117.7h0.65M200.5 120.6h0.65M206.2 131.3h0.65M204.2 124.1h0.65M201.5 107.5h0.65M188.9 131.4h0.65M195.2 119.0h0.65M201.1 107.1h0.65M199.5 126.8h0.65M190.7 127.4h0.65M208.4 129.3h0.65M204.5 132.8h0.65M202.9 121.2h0.65M205.2 128.7h0.65M201.0 124.7h0.65M191.1 115.1h0.65M194.3 130.2h0.65M204.3 113.8h0.65M188.9 132.9h0.65M195.1 116.6h0.65M205.9 120.8h0.65M201.0 118.1h0.65M197.3 133.1h0.65M193.3 120.6h0.65M197.7 109.4h0.65M190.4 120.0h0.65M204.7 117.9h0.65M190.3 131.0h0.65M188.2 124.2h0.65M190.4 112.9h0.65M196.4 127.2h0.65M196.7 117.5h0.65M196.0 120.4h0.65M193.4 133.0h0.65M199.2 115.5h0.65M202.0 115.9h0.65M196.7 114.5h0.65M198.9 113.5h0.65M201.8 117.3h0.65M202.7 113.8h0.65M197.2 121.5h0.65M202.9 124.3h0.65M196.6 107.8h0.65M201.7 115.2h0.65M192.6 110.6h0.65M190.4 125.1h0.65M199.9 112.6h0.65M204.9 124.9h0.65M196.6 123.0h0.65M201.6 118.1h0.65M189.3 115.9h0.65M201.2 107.9h0.65M204.1 130.4h0.65M195.4 116.1h0.65M198.4 112.6h0.65M202.2 120.1h0.65M208.1 133.3h0.65M206.3 132.7h0.65M190.1 133.6h0.65M206.3 123.2h0.65M200.8 118.0h0.65M196.5 109.6h0.65M199.2 113.3h0.65M189.9 130.6h0.65M199.8 130.8h0.65M193.7 122.1h0.65M193.3 129.4h0.65M191.8 124.1h0.65M199.3 114.8h0.65M189.0 119.4h0.65M198.7 129.1h0.65M193.9 128.6h0.65M192.3 123.7h0.65M202.7 119.7h0.65M189.7 119.1h0.65M199.4 117.5h0.65M206.5 122.1h0.65M194.8 113.6h0.65M191.3 132.4h0.65M205.6 116.3h0.65M200.4 121.4h0.65M203.3 110.0h0.65M201.5 123.1h0.65M205.4 119.1h0.65M192.0 117.1h0.65M188.9 122.2h0.65M192.0 125.7h0.65M191.0 125.3h0.65M200.7 126.0h0.65M202.1 116.9h0.65M206.7 129.3h0.65M203.9 122.7h0.65M193.0 131.7h0.65M194.6 129.2h0.65M202.0 129.7h0.65M204.7 118.5h0.65M195.9 128.4h0.65M201.5 121.0h0.65M189.4 129.8h0.65M189.2 130.9h0.65M203.7 125.0h0.65M196.2 122.6h0.65M199.3 132.9h0.65M198.3 121.0h0.65M197.3 117.3h0.65M202.3 108.6h0.65M202.3 132.3h0.65M203.8 121.1h0.65M189.3 121.0h0.65M206.4 130.5h0.65M191.3 127.1h0.65M204.8 119.3h0.65M194.6 120.2h0.65M203.1 118.3h0.65M193.8 130.5h0.65M195.8 117.5h0.65M192.1 119.3h0.65M202.6 115.8h0.65M201.7 119.6h0.65M193.5 121.2h0.65M190.6 130.0h0.65M193.2 120.2h0.65M191.1 114.2h0.65M207.0 118.2h0.65M192.3 122.7h0.65M189.7 120.4h0.65M201.4 107.9h0.65M199.2 114.3h0.65M203.5 123.2h0.65M207.1 122.9h0.65M202.6 128.8h0.65M188.6 117.4h0.65M193.4 118.9h0.65M206.3 121.6h0.65M203.5 127.5h0.65M193.3 123.3h0.65M195.4 119.1h0.65M198.8 124.7h0.65M190.9 129.7h0.65M190.8 114.4h0.65M205.8 133.9h0.65M195.2 133.0h0.65M203.9 110.0h0.65M190.0 115.7h0.65M189.1 119.0h0.65M194.8 126.8h0.65M198.0 133.3h0.65M207.2 131.3h0.65M199.6 120.6h0.65M191.0 114.6h0.65M192.1 111.0h0.65M200.6 114.7h0.65M204.0 122.0h0.65M205.7 120.1h0.65M201.0 112.2h0.65M202.4 117.1h0.65M203.0 122.3h0.65M190.3 114.1h0.65M201.0 121.2h0.65M202.8 114.9h0.65M197.6 119.2h0.65M198.4 112.9h0.65M200.1 112.9h0.65M191.8 112.0h0.65M206.8 115.9h0.65M206.4 126.7h0.65M193.1 121.4h0.65M201.0 108.6h0.65M198.6 119.7h0.65M201.9 113.7h0.65M207.1 123.4h0.65M188.8 129.1h0.65M202.8 130.3h0.65M205.5 112.5h0.65M204.7 125.3h0.65M197.4 131.5h0.65M204.8 134.2h0.65M208.1 122.0h0.65M203.3 124.8h0.65M196.0 119.8h0.65M198.3 111.6h0.65M192.9 129.8h0.65M205.7 125.6h0.65M202.3 120.1h0.65M199.7 124.7h0.65M197.4 107.6h0.65M192.8 129.2h0.65M188.0 128.5h0.65M204.6 130.5h0.65M192.9 132.4h0.65M195.4 118.4h0.65M208.0 121.1h0.65M202.1 108.5h0.65M189.6 129.2h0.65M192.7 133.1h0.65M202.0 110.9h0.65M202.7 114.6h0.65M198.7 107.5h0.65M205.4 128.2h0.65M199.9 125.4h0.65M194.7 109.0h0.65M194.3 126.8h0.65M199.5 109.2h0.65M192.5 119.1h0.65M197.1 109.2h0.65M203.6 128.4h0.65M194.1 121.1h0.65M195.7 133.6h0.65M192.9 133.1h0.65M194.0 117.6h0.65M194.1 124.2h0.65M206.5 125.3h0.65M191.2 134.1h0.65M203.0 120.0h0.65M200.3 128.1h0.65M204.2 124.9h0.65M188.6 119.2h0.65M193.1 123.0h0.65M195.9 118.6h0.65M199.0 122.4h0.65M193.2 110.7h0.65M189.7 130.0h0.65M195.1 131.6h0.65M206.1 133.7h0.65M192.8 119.0h0.65M202.1 109.8h0.65M189.9 114.9h0.65M189.5 128.5h0.65M204.8 129.8h0.65M201.4 114.0h0.65M192.1 131.9h0.65M189.3 124.1h0.65M190.4 124.7h0.65M201.9 112.0h0.65M197.6 111.5h0.65M206.2 123.6h0.65M202.3 123.4h0.65M188.6 131.0h0.65M204.2 120.3h0.65M200.1 119.6h0.65M203.7 120.8h0.65M193.3 120.3h0.65M198.6 130.6h0.65M202.9 111.4h0.65M198.3 122.3h0.65M199.9 118.7h0.65M198.4 125.3h0.65M206.5 120.3h0.65M204.3 125.1h0.65M194.1 115.6h0.65M198.0 113.9h0.65M195.3 125.6h0.65M201.0 133.2h0.65M195.4 130.8h0.65M204.8 114.6h0.65M190.4 128.7h0.65M196.3 115.5h0.65M197.4 126.5h0.65M206.7 131.9h0.65M204.0 110.4h0.65M191.6 115.2h0.65M191.1 119.1h0.65M190.1 124.3h0.65M196.2 112.5h0.65M202.2 114.8h0.65M203.7 130.8h0.65M193.7 113.0h0.65M202.4 109.6h0.65M208.3 124.3h0.65M199.2 106.8h0.65M193.4 117.6h0.65M200.1 107.6h0.65M208.4 127.0h0.65M205.0 127.1h0.65M191.2 112.3h0.65M188.1 121.3h0.65M191.1 132.0h0.65M204.5 113.6h0.65M190.3 116.4h0.65M204.4 121.1h0.65M204.7 115.1h0.65M203.0 120.0h0.65M203.9 111.1h0.65M193.3 111.5h0.65M205.8 125.7h0.65M190.6 126.4h0.65M192.9 127.5h0.65M202.9 125.2h0.65M201.2 125.5h0.65M206.8 115.8h0.65M198.6 124.2h0.65M207.4 124.2h0.65M198.5 127.6h0.65M199.2 117.3h0.65M194.6 116.8h0.65M192.1 114.4h0.65M203.5 131.0h0.65M197.2 129.9h0.65M190.0 120.3h0.65M203.5 128.0h0.65M195.7 110.2h0.65M208.2 123.0h0.65M201.5 115.4h0.65M189.7 121.9h0.65M196.1 131.2h0.65M201.7 127.3h0.65M199.7 127.2h0.65M190.2 134.2h0.65M199.9 122.7h0.65M202.6 126.4h0.65M201.8 112.7h0.65M197.9 127.6h0.65M201.2 131.7h0.65M189.2 127.8h0.65M198.9 107.5h0.65M196.4 124.7h0.65M198.4 128.4h0.65M189.8 131.2h0.65M192.0 117.5h0.65M202.7 132.5h0.65M199.4 133.0h0.65M196.6 124.4h0.65M193.8 120.6h0.65M189.7 125.0h0.65M196.1 108.0h0.65M197.7 116.1h0.65M199.3 133.2h0.65M199.0 115.7h0.65M208.5 125.8h0.65M200.4 112.8h0.65M196.8 120.6h0.65M195.5 121.7h0.65M189.2 117.5h0.65M198.3 127.2h0.65M205.0 126.7h0.65M195.6 126.0h0.65M191.6 123.2h0.65M191.1 115.5h0.65M208.0 132.9h0.65M200.6 129.7h0.65M204.3 124.1h0.65M204.2 109.7h0.65M189.1 120.5h0.65M200.5 125.3h0.65M191.2 121.8h0.65M205.1 133.2h0.65M201.9 118.1h0.65M196.4 118.9h0.65M193.4 110.4h0.65M206.9 115.8h0.65M206.3 121.7h0.65M206.8 131.3h0.65M202.8 118.3h0.65M192.6 121.7h0.65M194.0 129.4h0.65M188.2 123.8h0.65M194.6 117.5h0.65M199.1 133.8h0.65M208.1 133.1h0.65M198.7 121.7h0.65M191.6 128.2h0.65M197.8 127.4h0.65M207.3 123.4h0.65M202.4 121.3h0.65M190.1 118.6h0.65M190.2 118.0h0.65M188.6 122.9h0.65M192.2 111.6h0.65M201.1 132.2h0.65M187.6 126.1h0.65M199.9 119.5h0.65M194.9 120.5h0.65M194.6 134.2h0.65M194.7 129.9h0.65M204.9 128.4h0.65M198.0 119.8h0.65M198.0 118.5h0.65M208.1 132.3h0.65M196.1 119.7h0.65M189.5 127.2h0.65M198.6 110.2h0.65M191.5 119.2h0.65M193.1 128.3h0.65M194.6 132.3h0.65M194.0 129.9h0.65M189.5 124.9h0.65M206.6 133.6h0.65M197.8 111.7h0.65M203.3 122.0h0.65M190.1 113.6h0.65M188.7 132.2h0.65M203.7 119.0h0.65M208.2 133.7h0.65M191.8 112.7h0.65M191.4 123.6h0.65M200.2 120.4h0.65M204.1 120.7h0.65M194.1 124.7h0.65M197.8 109.4h0.65M203.5 117.8h0.65M205.5 124.8h0.65M208.2 122.1h0.65M200.2 133.6h0.65M204.8 115.1h0.65M189.5 132.1h0.65M188.6 132.1h0.65M207.6 124.5h0.65M207.9 122.9h0.65M203.5 122.6h0.65M203.4 118.4h0.65M190.0 121.5h0.65M193.0 112.9h0.65M206.3 123.3h0.65M203.6 129.0h0.65M196.8 118.4h0.65M196.7 115.7h0.65M204.2 131.0h0.65M193.8 126.0h0.65M202.2 127.9h0.65M194.4 134.2h0.65M202.9 114.6h0.65M203.8 129.8h0.65M190.3 131.8h0.65M196.7 113.3h0.65M195.5 120.7h0.65M198.7 113.9h0.65M188.6 123.6h0.65M202.9 125.5h0.65M195.9 130.2h0.65M198.7 111.9h0.65M201.5 120.1h0.65M199.0 129.7h0.65M201.2 132.6h0.65M202.1 131.9h0.65M189.8 129.2h0.65M194.2 132.0h0.65M204.5 133.4h0.65M203.7 116.7h0.65M198.7 128.0h0.65M188.5 121.0h0.65M199.6 126.2h0.65M194.7 122.9h0.65M203.3 116.4h0.65M202.1 131.5h0.65M195.3 120.6h0.65M197.8 129.7h0.65M193.1 113.6h0.65M195.8 124.3h0.65M190.6 133.7h0.65M198.2 126.5h0.65" stroke="#4a4a4a" stroke-width="0.65" fill="none"/>
<path d="M231.8 107.2h0.5M226.2 133.4h0.5M235.7 99.9h0.5M230.9 112.2h0.5M237.6 103.7h0.5M238.8 110.5h0.5M233.7 119.2h0.5M242.3 93.0h0.5M240.7 85.2h0.5M236.9 70.8h0.5M240.2 99.1h0.5M233.1 102.4h0.5M237.7 110.7h0.5M242.2 88.6h0.5M231.6 131.3h0.5M243.2 78.7h0.5M237.3 127.4h0.5M231.4 117.2h0.5M242.9 133.3h0.5M232.5 111.8h0.5M241.3 127.3h0.5M241.7 115.3h0.5M239.0 74.7h0.5M236.3 71.9h0.5M238.5 121.5h0.5M238.4 134.6h0.5M236.3 94.0h0.5M230.7 122.6h0.5M242.9 93.9h0.5M228.7 134.5h0.5M230.4 117.0h0.5M243.2 100.6h0.5M240.8 96.2h0.5M232.5 122.0h0.5M243.0 119.0h0.5M237.9 123.6h0.5M242.0 131.7h0.5M234.6 95.4h0.5M243.4 90.2h0.5M242.2 71.4h0.5M231.3 120.8h0.5M237.3 113.7h0.5M240.3 119.4h0.5M233.6 106.6h0.5M239.8 102.2h0.5M233.5 101.6h0.5M238.5 117.7h0.5M230.9 120.3h0.5M231.6 113.7h0.5M231.7 128.2h0.5M242.4 120.4h0.5M232.7 109.3h0.5M242.2 74.5h0.5M241.5 107.2h0.5M243.5 116.9h0.5M238.2 118.8h0.5M240.8 126.8h0.5M238.2 84.4h0.5M234.0 103.5h0.5M233.2 133.5h0.5" stroke="#999" stroke-width="0.5" fill="none"/>
<path d="M209.0 69.5C211.9 69.0 215.9 68.0 219.9 68.2C223.9 68.4 230.7 67.7 233.0 70.8C235.3 73.9 234.1 82.0 233.7 87.0C233.4 91.9 233.7 98.6 230.8 100.7C227.9 102.9 220.5 100.0 216.3 99.8C212.1 99.7 208.4 100.7 205.4 99.8C202.4 99.0 199.8 97.3 198.2 94.7C196.5 92.1 195.7 87.4 195.6 84.2C195.5 81.0 196.6 77.7 197.8 75.6C199.0 73.4 201.0 72.2 202.9 71.2C204.7 70.1 206.2 70.0 209.0 69.5Z" stroke="#999" stroke-width="0.1" fill="#8a8a8a" opacity="0.4"/>
<path d="M228.1 82.9C228.1 85.4 227.4 88.1 226.2 90.3C224.9 92.4 222.9 94.4 220.8 95.6C218.7 96.9 216.0 97.6 213.6 97.6C211.2 97.6 208.4 96.9 206.3 95.6C204.2 94.4 202.2 92.4 201.0 90.3C199.8 88.1 199.1 85.4 199.1 82.9C199.1 80.5 199.8 77.7 201.0 75.6C202.2 73.4 204.2 71.4 206.3 70.2C208.4 69.0 211.2 68.2 213.6 68.2C216.0 68.2 218.7 69.0 220.8 70.2C222.9 71.4 224.9 73.4 226.2 75.6C227.4 77.7 228.1 80.5 228.1 82.9Z" stroke="#888" stroke-width="0.1" fill="#777" opacity="0.3"/>
<path d="M233.0 90.6C233.9 92.5 232.5 97.4 231.7 101.6C231.0 105.9 229.7 111.8 228.6 116.3C227.6 120.9 226.3 126.3 225.4 129.2C224.5 132.1 223.9 133.2 223.2 134.0C222.5 134.8 221.2 135.1 221.0 134.0C220.8 132.9 221.6 130.3 222.1 127.4C222.7 124.4 223.7 120.6 224.3 116.3C224.9 112.1 225.4 105.9 225.7 101.6C226.1 97.4 225.1 92.5 226.3 90.6C227.5 88.8 232.1 88.8 233.0 90.6Z" stroke="#888" stroke-width="0.1" fill="#8a8a8a" opacity="0.45"/>
<path d="M167.3 109.0C168.5 108.8 172.1 107.8 174.6 107.5C177.0 107.2 179.5 106.9 181.8 107.2C184.1 107.4 186.7 108.1 188.2 109.0C189.7 109.9 191.0 111.2 190.9 112.3C190.7 113.4 188.3 114.4 187.3 115.4C186.2 116.4 184.8 116.5 184.5 118.2C184.2 119.9 185.1 122.5 185.4 125.5C185.8 128.6 186.7 134.7 186.9 136.6" stroke="#444" stroke-width="0.78" fill="none" />
<path d="M167.3 110.7C168.5 110.4 172.1 109.5 174.6 109.2C177.0 108.9 179.5 108.6 181.8 108.8C184.1 109.1 186.7 109.8 188.2 110.7C189.7 111.5 191.0 113.0 190.9 114.0C190.7 114.9 188.3 115.6 187.3 116.4C186.2 117.3 184.8 117.5 184.5 119.0C184.2 120.5 185.1 122.6 185.4 125.5C185.8 128.5 186.7 134.7 186.9 136.6" stroke="#555" stroke-width="0.78" fill="none" />
<path d="M167.3 112.3C168.5 112.1 172.1 111.1 174.6 110.8C177.0 110.5 179.5 110.2 181.8 110.5C184.1 110.7 186.7 111.4 188.2 112.3C189.7 113.2 191.0 114.8 190.9 115.6C190.7 116.5 188.3 116.7 187.3 117.4C186.2 118.1 184.8 118.5 184.5 119.8C184.2 121.2 185.1 122.7 185.4 125.5C185.8 128.3 186.7 134.7 186.9 136.6" stroke="#555" stroke-width="0.72" fill="none" />
<path d="M167.3 114.0C168.5 113.7 172.1 112.8 174.6 112.5C177.0 112.2 179.5 111.9 181.8 112.1C184.1 112.4 186.7 113.1 188.2 114.0C189.7 114.8 191.0 116.5 190.9 117.3C190.7 118.0 188.3 117.8 187.3 118.4C186.2 119.0 184.8 119.5 184.5 120.7C184.2 121.8 185.1 122.9 185.4 125.5C185.8 128.2 186.7 134.7 186.9 136.6" stroke="#666" stroke-width="0.65" fill="none" />
<path d="M167.3 117.3C168.2 117.0 171.1 116.0 172.7 116.0C174.4 116.0 176.2 116.3 177.3 117.3C178.3 118.2 179.1 120.3 179.1 121.9C179.1 123.4 177.3 124.0 177.3 126.4C177.3 128.9 178.8 134.9 179.1 136.6" stroke="#555" stroke-width="0.72" fill="none" />
<path d="M167.3 120.4C168.1 120.2 171.1 119.1 172.4 119.3C173.6 119.5 174.6 120.3 174.9 121.5C175.3 122.7 174.4 123.9 174.6 126.4C174.7 129.0 175.8 134.9 176.0 136.6" stroke="#555" stroke-width="0.72" fill="none" />
<path d="M167.3 124.6C168.0 124.5 170.4 123.2 171.3 123.7C172.1 124.2 172.1 125.2 172.4 127.4C172.6 129.5 172.7 135.0 172.7 136.6" stroke="#666" stroke-width="0.65" fill="none" />
<path d="M181.8 106.2C182.1 105.3 186.2 102.8 188.2 102.0C190.1 101.2 192.1 102.0 193.6 101.3C195.1 100.6 196.8 97.6 197.2 98.0C197.6 98.3 196.9 102.2 196.0 103.5C195.1 104.8 193.4 105.0 191.8 105.7C190.2 106.4 188.0 107.4 186.4 107.5C184.7 107.6 181.5 107.2 181.8 106.2Z" stroke="#666" stroke-width="0.65" fill="none" />
<path d="M200.0 105.3C200.8 105.4 202.3 106.3 203.2 107.5C204.1 108.8 204.5 110.6 205.4 112.7C206.3 114.8 207.9 117.3 208.7 120.0C209.4 122.8 209.9 126.4 209.9 129.2C209.9 132.0 212.2 135.3 208.7 136.6C205.2 137.8 192.6 138.1 189.1 136.6C185.5 135.0 187.3 130.4 187.3 127.4C187.2 124.3 188.0 120.8 188.7 118.2C189.5 115.6 190.5 113.1 191.8 111.8C193.1 110.4 195.6 110.7 196.7 109.9C197.8 109.1 198.0 107.6 198.5 106.8C199.1 106.0 199.2 105.2 200.0 105.3Z" stroke="#555" stroke-width="0.78" fill="none" />
<path d="M200.3 107.2C201.0 107.0 202.0 108.1 202.1 109.0C202.3 109.9 201.9 111.6 201.4 112.3C200.9 113.0 199.6 113.4 199.1 113.0C198.5 112.6 197.9 110.9 198.2 109.9C198.4 108.9 199.7 107.3 200.3 107.2Z" stroke="#555" stroke-width="0.65" fill="none" />
<path d="M209.0 67.1C212.1 66.6 215.7 65.8 219.9 66.0C224.2 66.3 231.9 65.1 234.5 68.6C237.0 72.1 235.7 81.4 235.4 87.0C235.1 92.5 233.7 96.8 232.6 101.6C231.6 106.5 230.2 111.8 229.0 116.3C227.9 120.9 226.7 126.2 225.7 129.2C224.8 132.2 224.0 133.5 223.2 134.3C222.4 135.2 221.5 135.5 220.8 134.3C220.1 133.2 219.8 129.1 219.0 127.4C218.3 125.6 217.2 123.7 216.3 123.7C215.4 123.7 214.5 126.1 213.6 127.4C212.7 128.6 211.6 131.3 210.9 131.0C210.1 130.7 209.8 128.3 209.0 125.5C208.3 122.8 207.2 118.2 206.3 114.5C205.4 110.8 204.8 106.1 203.6 103.5C202.4 100.9 200.5 100.7 199.1 98.9C197.6 97.1 195.9 95.1 194.9 92.5C193.8 89.9 192.6 86.3 192.7 83.3C192.8 80.2 193.9 76.5 195.4 74.1C196.9 71.7 199.5 70.1 201.8 69.0C204.0 67.8 206.0 67.6 209.0 67.1Z" stroke="#555" stroke-width="0.72" fill="none" />
<path d="M209.4 68.2C212.2 67.8 215.6 67.0 219.6 67.2C223.5 67.4 230.7 66.4 233.1 69.6C235.4 72.9 234.2 81.6 233.9 86.7C233.6 91.8 232.4 95.8 231.4 100.4C230.4 104.9 229.1 109.8 228.0 114.0C226.9 118.3 225.4 123.8 225.0 126.0C224.5 128.2 225.3 126.2 225.0 127.4C224.7 128.5 223.8 133.3 223.2 132.9C222.6 132.5 222.4 127.7 221.4 125.1C220.4 122.4 218.7 117.8 217.2 116.9C215.8 116.1 214.0 120.2 212.7 119.8C211.3 119.4 210.1 117.2 209.0 114.5C208.0 111.8 207.1 105.6 206.3 103.5C205.5 101.4 205.4 103.0 204.4 102.1C203.3 101.1 201.5 99.5 200.1 97.8C198.8 96.1 197.2 94.2 196.3 91.8C195.3 89.4 194.1 86.1 194.2 83.3C194.3 80.4 195.4 77.0 196.8 74.7C198.2 72.5 200.6 71.0 202.7 70.0C204.8 68.9 206.6 68.7 209.4 68.2Z" stroke="#555" stroke-width="0.72" fill="none" />
<path d="M209.8 69.4C212.4 69.0 215.5 68.2 219.2 68.4C222.8 68.6 229.4 67.6 231.7 70.6C233.9 73.6 232.7 81.7 232.4 86.4C232.2 91.2 231.0 94.9 230.1 99.1C229.2 103.3 228.0 107.8 227.0 111.7C226.0 115.7 224.7 120.2 224.2 122.8C223.6 125.4 223.9 125.7 223.7 127.4C223.6 129.1 223.6 133.6 223.2 132.9C222.8 132.1 222.4 125.9 221.4 122.7C220.4 119.6 218.7 115.0 217.2 113.8C215.8 112.7 214.0 115.9 212.7 116.0C211.3 116.1 210.1 116.6 209.0 114.5C208.0 112.4 207.0 105.8 206.3 103.5C205.7 101.2 206.0 101.8 205.1 100.7C204.3 99.5 202.5 98.3 201.2 96.7C200.0 95.1 198.5 93.4 197.6 91.2C196.7 88.9 195.7 85.9 195.8 83.3C195.8 80.6 196.8 77.4 198.1 75.4C199.4 73.3 201.6 72.0 203.6 71.0C205.5 70.0 207.2 69.8 209.8 69.4Z" stroke="#555" stroke-width="0.72" fill="none" />
<path d="M210.2 70.5C212.6 70.1 215.4 69.4 218.8 69.6C222.1 69.8 228.2 68.9 230.3 71.7C232.3 74.4 231.2 81.8 231.0 86.2C230.7 90.5 229.7 93.9 228.8 97.8C228.0 101.7 226.9 105.8 226.0 109.4C225.1 113.0 224.0 116.6 223.4 119.6C222.8 122.6 222.5 125.1 222.5 127.4C222.4 129.6 223.4 134.0 223.2 132.9C223.0 131.7 222.4 124.1 221.4 120.4C220.4 116.7 218.7 112.1 217.2 110.8C215.8 109.4 214.0 111.5 212.7 112.1C211.3 112.7 210.1 115.9 209.0 114.5C208.0 113.1 206.8 106.0 206.3 103.5C205.8 100.9 206.6 100.6 205.9 99.2C205.2 97.9 203.4 97.1 202.3 95.6C201.2 94.2 199.8 92.6 199.0 90.5C198.2 88.5 197.2 85.7 197.3 83.3C197.4 80.9 198.2 77.9 199.4 76.0C200.6 74.1 202.7 72.9 204.4 72.0C206.2 71.0 207.8 70.9 210.2 70.5Z" stroke="#555" stroke-width="0.72" fill="none" />
<path d="M208.1 97.1C208.2 98.4 208.4 102.4 208.7 105.3C209.0 108.2 209.3 111.4 209.8 114.5C210.3 117.6 211.1 120.8 211.7 123.7C212.2 126.6 212.7 130.6 213.0 132.0" stroke="#555" stroke-width="0.65" fill="none" />
<path d="M210.3 97.1C210.4 98.4 210.6 102.4 210.9 105.3C211.1 108.2 211.5 111.4 211.9 114.5C212.4 117.6 213.1 120.8 213.6 123.7C214.1 126.6 214.6 130.6 214.8 132.0" stroke="#555" stroke-width="0.65" fill="none" />
<path d="M212.9 97.1C212.9 98.4 213.1 102.4 213.4 105.3C213.7 108.2 214.1 111.4 214.5 114.5C214.9 117.6 215.5 120.8 215.9 123.7C216.3 126.6 216.8 130.6 217.0 132.0" stroke="#555" stroke-width="0.65" fill="none" />
<path d="M215.4 97.1C215.5 98.4 215.7 102.4 215.9 105.3C216.2 108.2 216.7 111.4 217.0 114.5C217.4 117.6 217.8 120.8 218.2 123.7C218.5 126.6 219.0 130.6 219.1 132.0" stroke="#555" stroke-width="0.72" fill="none" />
<path d="M217.6 97.1C217.7 98.4 217.8 102.4 218.1 105.3C218.4 108.2 218.9 111.4 219.2 114.5C219.5 117.6 219.9 120.8 220.2 123.7C220.4 126.6 220.8 130.6 221.0 132.0" stroke="#555" stroke-width="0.72" fill="none" />
<path d="M219.8 97.1C219.8 98.4 220.0 102.4 220.3 105.3C220.6 108.2 221.1 111.4 221.4 114.5C221.7 117.6 221.9 120.8 222.1 123.7C222.4 126.6 222.7 130.6 222.8 132.0" stroke="#555" stroke-width="0.78" fill="none" />
<path d="M227.9 73.2C228.7 72.9 230.9 73.5 231.5 75.9C232.2 78.4 232.3 83.6 232.1 87.9C231.9 92.2 231.0 97.1 230.3 101.6C229.5 106.2 228.4 110.8 227.6 115.4C226.7 120.0 225.7 126.1 225.0 129.2C224.3 132.3 223.7 133.5 223.2 134.0C222.7 134.4 221.9 134.9 222.1 132.0C222.3 129.0 223.6 121.3 224.3 116.3C225.0 111.4 225.9 106.8 226.5 102.0C227.0 97.3 227.5 91.9 227.6 87.9C227.6 83.8 226.8 80.2 226.8 77.8C226.9 75.3 227.1 73.5 227.9 73.2Z" stroke="#555" stroke-width="0.3" fill="#555" />
<path d="M221.5 84.9C221.5 87.4 222.4 90.4 221.5 92.4C220.7 94.5 218.4 96.4 216.4 97.3C214.5 98.1 211.8 97.8 209.6 97.4C207.4 97.1 204.9 96.6 203.2 95.1C201.5 93.6 200.3 91.0 199.6 88.6C198.8 86.2 198.4 83.4 198.7 80.9C199.1 78.4 200.2 75.7 201.6 73.7C203.0 71.7 205.1 69.7 207.1 68.8C209.2 67.9 211.8 67.9 214.0 68.3C216.1 68.6 219.0 69.3 220.3 70.8C221.5 72.3 221.3 74.9 221.5 77.2C221.8 79.6 221.5 82.4 221.5 84.9Z" stroke="#666" stroke-width="0.65" fill="none" />
<path d="M221.0 84.7C221.0 87.0 221.6 89.5 220.7 91.3C219.9 93.2 217.7 94.9 215.8 95.9C214.0 96.9 211.6 97.6 209.7 97.3C207.8 96.9 205.8 95.3 204.4 93.8C203.0 92.3 202.0 90.2 201.3 88.1C200.6 86.0 199.7 83.4 200.0 81.1C200.3 78.8 201.6 76.3 202.9 74.5C204.2 72.6 206.0 70.9 207.8 69.9C209.7 69.0 212.0 68.5 214.0 68.7C215.9 69.0 218.4 70.0 219.6 71.5C220.8 73.0 220.8 75.4 221.0 77.6C221.3 79.8 221.1 82.4 221.0 84.7Z" stroke="#5a5a5a" stroke-width="0.72" fill="none" />
<path d="M220.5 84.5C220.4 86.7 220.5 88.8 219.6 90.5C218.7 92.3 217.0 94.0 215.4 94.9C213.7 95.8 211.6 96.3 210.0 96.0C208.3 95.7 206.6 94.4 205.3 93.0C204.0 91.7 202.9 89.8 202.3 87.9C201.8 86.0 201.6 83.5 202.0 81.4C202.3 79.3 203.2 77.0 204.3 75.3C205.4 73.6 207.0 72.1 208.6 71.2C210.2 70.3 212.2 69.5 213.9 69.8C215.5 70.1 217.2 71.7 218.3 73.0C219.5 74.3 220.2 75.8 220.5 77.7C220.9 79.6 220.7 82.4 220.5 84.5Z" stroke="#555" stroke-width="0.78" fill="none" />
<path d="M220.0 84.2C219.7 86.2 219.3 88.3 218.5 89.9C217.6 91.5 216.1 93.0 214.7 93.7C213.4 94.5 211.7 94.6 210.3 94.4C208.9 94.1 207.3 93.6 206.1 92.5C205.0 91.4 204.0 89.6 203.6 87.7C203.2 85.9 203.3 83.6 203.6 81.6C204.0 79.7 204.6 77.5 205.6 76.0C206.5 74.5 208.0 73.2 209.3 72.4C210.7 71.7 212.3 71.4 213.7 71.5C215.1 71.7 216.8 72.1 217.9 73.2C218.9 74.3 219.6 76.3 220.0 78.2C220.3 80.0 220.2 82.3 220.0 84.2Z" stroke="#4a4a4a" stroke-width="1.04" fill="none" />
<path d="M218.7 83.9C218.5 85.7 217.9 87.7 217.1 89.0C216.3 90.4 215.1 91.5 214.0 92.1C212.9 92.8 211.7 93.0 210.6 92.9C209.5 92.7 208.3 92.2 207.5 91.3C206.6 90.3 205.8 88.8 205.5 87.2C205.2 85.7 205.3 83.7 205.6 81.9C205.9 80.2 206.3 78.2 207.1 76.8C207.8 75.4 209.0 74.3 210.1 73.6C211.2 72.9 212.5 72.6 213.6 72.8C214.7 72.9 216.0 73.3 216.8 74.3C217.7 75.3 218.2 77.1 218.5 78.7C218.8 80.3 218.9 82.2 218.7 83.9Z" stroke="#2a2a2a" stroke-width="1.8" fill="none" />
<path d="M217.1 84.8C216.9 86.1 216.4 87.6 215.9 88.7C215.3 89.7 214.4 90.6 213.6 91.1C212.8 91.6 211.9 91.6 211.0 91.5C210.2 91.4 209.3 91.3 208.6 90.6C208.0 89.9 207.6 88.5 207.4 87.3C207.1 86.1 207.1 84.6 207.3 83.3C207.5 82.0 207.9 80.5 208.5 79.4C209.1 78.3 209.9 77.4 210.8 76.9C211.6 76.3 212.6 75.8 213.4 76.0C214.2 76.1 214.8 77.1 215.5 77.9C216.1 78.7 216.9 79.5 217.1 80.6C217.4 81.8 217.3 83.4 217.1 84.8Z" stroke="#505050" stroke-width="1.04" fill="none" />
<path d="M215.3 84.5C215.2 85.4 214.8 86.4 214.5 87.2C214.1 88.0 213.6 88.9 213.1 89.3C212.6 89.7 211.9 89.9 211.4 89.8C210.9 89.7 210.3 89.3 210.0 88.7C209.6 88.1 209.5 87.2 209.3 86.3C209.2 85.5 209.1 84.5 209.2 83.5C209.3 82.6 209.7 81.6 210.1 80.8C210.4 80.0 210.9 79.3 211.5 78.9C212.0 78.4 212.6 78.1 213.1 78.2C213.6 78.3 214.1 79.0 214.5 79.5C214.8 80.1 215.3 80.7 215.4 81.5C215.6 82.4 215.5 83.5 215.3 84.5Z" stroke="#666" stroke-width="0.91" fill="none" />
<path d="M213.8 84.2C213.7 84.8 213.5 85.4 213.3 85.9C213.1 86.4 212.9 86.8 212.6 87.0C212.4 87.2 212.1 87.4 211.8 87.4C211.6 87.3 211.4 87.1 211.2 86.8C211.0 86.5 210.9 86.1 210.8 85.6C210.8 85.0 210.8 84.4 210.9 83.8C210.9 83.2 211.2 82.6 211.4 82.1C211.6 81.7 211.8 81.2 212.1 81.0C212.3 80.7 212.6 80.6 212.9 80.6C213.1 80.6 213.4 80.8 213.5 81.1C213.7 81.4 213.8 82.0 213.8 82.5C213.9 83.0 213.8 83.7 213.8 84.2Z" stroke="#888" stroke-width="0.65" fill="none" />
<rect x="219.9" y="71.9" width="7.3" height="21.5" fill="#9a9a9a" opacity="0.5"/>
<path d="M224.8 75.1h0.6M220.3 84.4h0.6M225.2 74.8h0.6M220.3 86.3h0.6M220.4 91.8h0.6M224.9 75.3h0.6M222.9 73.1h0.6M220.6 79.5h0.6M226.3 91.4h0.6M225.4 85.6h0.6M224.2 82.9h0.6M224.7 82.6h0.6M222.8 89.9h0.6M222.1 80.6h0.6M224.9 92.6h0.6M222.4 81.2h0.6M222.9 76.4h0.6M222.5 88.9h0.6M221.3 82.2h0.6M222.0 84.3h0.6M225.5 74.4h0.6M223.5 75.9h0.6M224.6 86.5h0.6M221.5 76.8h0.6M222.1 78.9h0.6M226.4 90.7h0.6M225.7 80.4h0.6M223.3 76.2h0.6M223.3 92.3h0.6M220.6 80.4h0.6M221.4 90.1h0.6M222.1 82.4h0.6M220.3 86.7h0.6M223.7 89.1h0.6M225.2 87.9h0.6M221.8 77.3h0.6M224.3 72.9h0.6M226.7 87.4h0.6M223.5 79.7h0.6M220.5 83.8h0.6M225.5 74.4h0.6M220.7 86.6h0.6M223.3 88.9h0.6M222.9 93.0h0.6M226.3 78.8h0.6M223.8 84.5h0.6M223.2 89.5h0.6M225.1 89.5h0.6M221.8 82.7h0.6M223.9 84.4h0.6M220.0 89.3h0.6M223.2 75.3h0.6M226.1 83.9h0.6M225.3 87.8h0.6M224.5 91.5h0.6M220.3 79.1h0.6M221.1 85.6h0.6M221.5 72.5h0.6M220.9 75.6h0.6M223.9 81.7h0.6M223.3 72.2h0.6M223.8 77.3h0.6M220.6 73.1h0.6M221.0 80.5h0.6M221.1 81.9h0.6M221.1 87.7h0.6M226.3 78.8h0.6M220.5 92.6h0.6M220.5 85.9h0.6M225.4 82.3h0.6M226.4 75.1h0.6M225.2 91.4h0.6M226.4 90.1h0.6M223.1 82.9h0.6M226.1 80.1h0.6M221.8 72.6h0.6M221.4 74.9h0.6M226.7 78.5h0.6M222.5 92.8h0.6M224.9 81.2h0.6" stroke="#fff" stroke-width="0.6" fill="none"/>
<rect x="221.4" y="67.7" width="12.2" height="24.8" fill="none" stroke="#5a5a5a" stroke-width="1.3"/>
<rect x="168.2" y="134.0" width="22.7" height="2.2" fill="#111"/>
<rect x="190.9" y="134.9" width="21.8" height="1.3" fill="#666"/>
<rect x="212.7" y="134.0" width="8.2" height="2.2" fill="#333"/>
<rect x="168.2" y="109.0" width="1.3" height="27.0" fill="#555"/>
</g></g>
<path d="M168.5 64.9L168.5 136.0" stroke="#555" stroke-width="1.1" stroke-dasharray="1.3 0.8" fill="none"/>
<path d="M168.2 135.8L238.8 135.8" stroke="#555" stroke-width="1.1" stroke-dasharray="1.1 0.9" fill="none"/>
<path d="M166.9 66.4L168.2 66.4M166.9 82.9L168.2 82.9M166.9 101.6L168.2 101.6M166.9 119.7L168.2 119.7M166.9 128.3L168.2 128.3M176.7 136.0L176.7 137.3M183.6 136.0L183.6 137.3M204.0 136.0L204.0 137.3M220.8 136.0L220.8 137.3M238.1 136.0L238.1 137.3" stroke="#333" stroke-width="0.6" fill="none"/>
<text x="159.7" y="67.7" font-size="3.2" fill="#333">10<tspan dy="-1.2" font-size="2.5">5</tspan></text>
<text x="159.7" y="84.2" font-size="3.2" fill="#333">10<tspan dy="-1.2" font-size="2.5">4</tspan></text>
<text x="159.7" y="102.9" font-size="3.2" fill="#333">10<tspan dy="-1.2" font-size="2.5">3</tspan></text>
<text x="159.7" y="120.9" font-size="3.2" fill="#333">10<tspan dy="-1.2" font-size="2.5">2</tspan></text>
<text x="163.3" y="129.6" font-size="3.2" fill="#333">0</text>
<text x="181.1" y="143.2" font-size="3.2" fill="#333">10<tspan dy="-1.2" font-size="2.5">2</tspan></text>
<text x="201.4" y="143.2" font-size="3.2" fill="#333">10<tspan dy="-1.2" font-size="2.5">3</tspan></text>
<text x="218.3" y="143.2" font-size="3.2" fill="#333">10<tspan dy="-1.2" font-size="2.5">4</tspan></text>
<text x="235.5" y="143.2" font-size="3.2" fill="#333">10<tspan dy="-1.2" font-size="2.5">5</tspan></text>
<text x="175.6" y="143.2" font-size="3.2" fill="#333">0</text>
<text x="172.7" y="70.1" font-size="9.3" textLength="26" lengthAdjust="spacingAndGlyphs">7.35%</text>
<rect x="268.4" y="59.4" width="76.6" height="76.6" fill="#fff" stroke="#8a8a8a" stroke-width="0.8"/>
<clipPath id="cp3"><rect x="268.4" y="59.4" width="76.6" height="76.6"/></clipPath><g clip-path="url(#cp3)"><g filter="url(#soft)">
<path d="M273.7 68.6h0.8M280.6 65.7h0.8M306.9 65.9h0.8M302.2 70.7h0.8M308.2 68.7h0.8M298.2 71.9h0.8M296.7 65.5h0.8M277.4 66.1h0.8M272.1 70.2h0.8M300.0 69.2h0.8M276.9 69.1h0.8M306.5 68.2h0.8M270.3 71.3h0.8M298.0 71.2h0.8M302.8 72.7h0.8M297.1 66.1h0.8M276.3 71.1h0.8M281.0 69.7h0.8M299.5 70.5h0.8M308.8 73.3h0.8M300.6 70.2h0.8M271.1 67.3h0.8M296.5 66.3h0.8M296.2 68.4h0.8M304.4 72.1h0.8" stroke="#333" stroke-width="0.8" fill="none"/>
<path d="M279.0 90.2h0.8M282.5 75.2h0.8M288.9 74.1h0.8M271.9 94.2h0.8M273.6 97.4h0.8M284.3 78.0h0.8M284.5 75.3h0.8M277.3 78.0h0.8M279.2 77.2h0.8M279.6 75.8h0.8M285.1 79.6h0.8M273.6 93.2h0.8M273.3 88.3h0.8M274.6 83.6h0.8M288.5 74.3h0.8M279.7 89.5h0.8M278.7 72.6h0.8M271.6 100.3h0.8M279.2 82.2h0.8M279.1 74.3h0.8M271.1 99.8h0.8M285.9 79.0h0.8M276.2 75.1h0.8M276.2 89.7h0.8M281.7 74.0h0.8M272.2 94.7h0.8M272.1 102.2h0.8M270.5 74.4h0.8M271.9 83.6h0.8M273.2 87.7h0.8M276.9 92.8h0.8M271.4 92.2h0.8M272.6 97.7h0.8M274.6 95.3h0.8M280.7 77.3h0.8M273.0 82.1h0.8M270.3 91.3h0.8M282.8 85.6h0.8M284.2 75.4h0.8M276.5 73.3h0.8M272.8 100.5h0.8M272.3 92.2h0.8M276.5 89.8h0.8M287.7 75.8h0.8M282.2 86.0h0.8M277.6 85.9h0.8M271.2 73.2h0.8M274.2 73.0h0.8M278.6 92.3h0.8M270.5 72.9h0.8M285.6 81.0h0.8M278.1 86.3h0.8M284.7 81.9h0.8M277.0 89.1h0.8M274.5 86.7h0.8M270.5 84.0h0.8M281.7 80.2h0.8M277.8 91.0h0.8M277.2 78.6h0.8M288.4 74.7h0.8M289.0 75.7h0.8M278.2 93.2h0.8M270.6 79.1h0.8M276.4 95.3h0.8M272.8 83.9h0.8M271.7 93.6h0.8M276.5 95.4h0.8M275.8 78.7h0.8M275.2 96.4h0.8M278.3 74.7h0.8M279.0 73.6h0.8M274.2 97.2h0.8M290.7 72.6h0.8M278.0 90.1h0.8M270.5 101.2h0.8M272.6 91.7h0.8M275.2 85.1h0.8M279.4 82.1h0.8M273.0 94.5h0.8M282.9 75.2h0.8M274.2 81.8h0.8M277.2 88.7h0.8M289.0 75.9h0.8M274.9 84.3h0.8M270.8 84.3h0.8" stroke="#222" stroke-width="0.8" fill="none"/>
<path d="M334.9 75.2h0.75M323.6 79.8h0.75M314.3 80.1h0.75M331.4 67.8h0.75M324.3 84.8h0.75M320.2 77.4h0.75M322.4 77.9h0.75M323.6 73.1h0.75M337.7 81.1h0.75M339.7 72.9h0.75M325.6 73.6h0.75M336.2 73.6h0.75M331.3 69.3h0.75M327.6 71.4h0.75M337.4 73.6h0.75M338.5 78.2h0.75M322.3 77.8h0.75M337.9 81.1h0.75M335.1 78.2h0.75M329.6 68.4h0.75M335.3 79.9h0.75M330.4 72.2h0.75M333.5 77.3h0.75M321.7 87.9h0.75M333.7 80.8h0.75M335.5 81.2h0.75M323.4 87.1h0.75M337.2 80.6h0.75M324.8 76.7h0.75M314.4 85.6h0.75M335.3 78.8h0.75M325.6 83.6h0.75M313.8 74.4h0.75M319.9 79.1h0.75M322.6 79.1h0.75M337.0 74.6h0.75M316.3 65.5h0.75M335.4 76.0h0.75M324.9 65.9h0.75M316.0 65.3h0.75M337.0 66.3h0.75M321.8 76.1h0.75M328.4 70.3h0.75M330.3 79.9h0.75M339.3 67.4h0.75M321.1 67.6h0.75M320.9 70.1h0.75M314.0 83.7h0.75M320.5 82.3h0.75M334.8 83.4h0.75M313.9 78.7h0.75M335.8 79.7h0.75M329.2 75.0h0.75M335.0 77.4h0.75M322.6 76.6h0.75" stroke="#333" stroke-width="0.75" fill="none"/>
<path d="M324.6 92.1h0.8M330.6 89.2h0.8M331.6 97.8h0.8M320.0 89.3h0.8M332.2 91.8h0.8M332.9 90.9h0.8M341.1 101.3h0.8M337.8 92.1h0.8M332.8 95.2h0.8M332.6 91.5h0.8M338.5 94.5h0.8M338.2 91.4h0.8M313.6 89.8h0.8M328.3 90.4h0.8M332.6 98.0h0.8M339.7 102.5h0.8M325.8 93.8h0.8M339.3 95.2h0.8M325.3 95.4h0.8M334.9 93.1h0.8M324.6 93.1h0.8M339.5 91.6h0.8M333.4 98.0h0.8M331.5 93.3h0.8" stroke="#333" stroke-width="0.8" fill="none"/>
<path d="M267.5 104.6C268.4 103.5 271.1 100.3 272.9 98.2C274.8 96.0 276.4 94.0 278.4 91.8C280.3 89.5 282.6 86.8 284.7 84.4C286.9 82.1 288.9 79.3 291.1 77.7C293.3 76.1 295.9 74.8 298.0 74.8C300.1 74.8 302.2 76.1 303.8 77.7C305.4 79.3 306.3 82.1 307.4 84.4C308.6 86.8 309.2 90.0 310.7 91.8C312.2 93.5 314.0 94.0 316.5 94.9C319.0 95.7 322.7 95.9 325.6 96.7C328.5 97.5 331.4 98.1 333.7 99.6C336.0 101.1 338.3 103.3 339.4 105.8C340.5 108.3 340.5 111.3 340.5 114.6C340.5 117.9 340.0 121.9 339.4 125.6C338.8 129.2 337.3 134.7 336.8 136.5" stroke="#505050" stroke-width="0.72" fill="none" />
<path d="M268.9 105.7C269.8 104.7 272.5 101.5 274.3 99.3C276.1 97.2 277.8 95.2 279.8 93.0C281.7 90.7 284.0 88.0 286.1 85.7C288.1 83.4 290.2 80.7 292.2 79.2C294.1 77.6 296.3 76.6 298.0 76.6C299.7 76.6 301.2 77.5 302.5 79.0C303.8 80.4 304.7 82.9 305.8 85.3C306.9 87.6 307.6 91.1 309.3 93.0C311.0 94.9 313.3 95.7 315.9 96.6C318.6 97.5 322.3 97.7 325.1 98.5C327.9 99.2 330.6 99.8 332.7 101.1C334.9 102.5 336.7 104.3 337.7 106.6C338.7 108.8 338.7 111.5 338.6 114.6C338.6 117.7 338.2 121.7 337.6 125.3C337.0 128.9 335.5 134.3 335.1 136.1" stroke="#505050" stroke-width="0.72" fill="none" />
<path d="M270.2 106.9C271.2 105.9 273.9 102.7 275.7 100.5C277.5 98.4 279.2 96.4 281.1 94.2C283.1 91.9 285.4 89.2 287.4 86.9C289.4 84.7 291.5 82.1 293.2 80.6C295.0 79.2 296.7 78.5 298.0 78.4C299.3 78.3 300.2 79.0 301.2 80.2C302.2 81.5 303.0 83.7 304.2 86.1C305.3 88.4 306.1 92.1 308.0 94.2C309.8 96.2 312.6 97.3 315.4 98.3C318.1 99.3 321.9 99.5 324.6 100.2C327.4 100.9 329.8 101.5 331.8 102.7C333.7 103.9 335.2 105.3 336.1 107.3C336.9 109.3 336.9 111.7 336.8 114.6C336.8 117.6 336.4 121.5 335.8 125.0C335.2 128.5 333.7 133.9 333.3 135.7" stroke="#505050" stroke-width="0.72" fill="none" />
<path d="M268.4 110.5C269.1 110.0 271.4 108.4 272.8 107.7C274.2 106.9 274.7 106.4 276.9 106.0C279.1 105.5 283.0 105.2 285.8 104.9C288.6 104.7 291.2 104.4 293.5 104.6C295.9 104.7 298.0 105.1 299.8 105.6C301.5 106.1 302.3 106.5 304.0 107.3C305.7 108.1 307.8 110.2 310.0 110.4C312.2 110.6 315.0 109.2 317.1 108.5C319.2 107.7 320.8 106.6 322.5 105.9C324.3 105.2 326.3 104.4 327.8 104.2C329.3 103.9 330.7 104.0 331.8 104.4C332.9 104.8 333.7 105.1 334.2 106.7C334.7 108.4 335.0 112.0 334.8 114.5C334.7 116.9 333.7 119.4 333.1 121.4C332.4 123.5 331.7 124.5 330.9 126.9C330.2 129.4 328.9 134.6 328.5 136.1" stroke="#444" stroke-width="0.72" fill="none" />
<path d="M267.7 109.5C268.5 109.0 270.8 107.4 272.2 106.6C273.7 105.8 274.4 105.3 276.7 104.8C278.9 104.3 282.9 104.0 285.7 103.7C288.5 103.5 291.2 103.2 293.6 103.4C296.0 103.5 298.2 104.0 300.1 104.4C301.9 104.9 302.8 105.5 304.5 106.2C306.2 107.0 308.1 109.0 310.1 109.2C312.1 109.4 314.7 108.1 316.7 107.4C318.7 106.6 320.3 105.5 322.1 104.8C323.9 104.1 325.9 103.2 327.6 103.0C329.3 102.8 331.0 102.8 332.3 103.3C333.6 103.9 334.7 104.5 335.3 106.3C335.9 108.2 336.2 112.0 336.0 114.6C335.8 117.2 334.9 119.7 334.2 121.8C333.6 123.9 332.8 124.8 332.0 127.3C331.3 129.7 330.1 134.9 329.7 136.4" stroke="#444" stroke-width="0.72" fill="none" />
<path d="M267.1 108.5C267.9 108.0 270.1 106.4 271.7 105.6C273.2 104.7 274.1 104.2 276.4 103.7C278.7 103.2 282.7 102.8 285.6 102.5C288.5 102.3 291.2 102.1 293.7 102.2C296.1 102.3 298.5 102.8 300.3 103.3C302.2 103.8 303.4 104.4 305.0 105.2C306.7 106.0 308.3 107.9 310.2 108.0C312.1 108.2 314.3 107.0 316.3 106.2C318.2 105.5 319.8 104.4 321.7 103.7C323.6 103.0 325.6 102.1 327.5 101.8C329.3 101.6 331.3 101.6 332.8 102.2C334.3 102.9 335.7 103.9 336.4 106.0C337.2 108.0 337.4 112.0 337.2 114.7C337.0 117.4 336.0 120.0 335.3 122.1C334.7 124.3 333.9 125.2 333.2 127.6C332.4 130.1 331.2 135.2 330.8 136.7" stroke="#444" stroke-width="0.72" fill="none" />
<path d="M300.9 85.7C300.9 86.7 300.6 87.9 300.1 88.6C299.7 89.2 298.9 89.7 298.4 89.7C297.8 89.7 297.0 89.2 296.6 88.6C296.1 87.9 295.8 86.7 295.8 85.7C295.8 84.8 296.1 83.6 296.6 82.9C297.0 82.2 297.8 81.7 298.4 81.7C298.9 81.7 299.7 82.2 300.1 82.9C300.6 83.6 300.9 84.8 300.9 85.7Z" stroke="#555" stroke-width="0.72" fill="none" />
<path d="M296.4 93.4C296.4 93.8 296.0 94.3 295.6 94.6C295.1 94.8 294.3 95.0 293.6 95.0C293.0 95.0 292.2 94.8 291.7 94.6C291.3 94.3 290.9 93.8 290.9 93.4C290.9 93.0 291.3 92.5 291.7 92.2C292.2 92.0 293.0 91.8 293.6 91.8C294.3 91.8 295.1 92.0 295.6 92.2C296.0 92.5 296.4 93.0 296.4 93.4Z" stroke="#555" stroke-width="0.72" fill="none" />
<path d="M287.1 91.8C287.5 89.6 290.3 86.4 292.0 84.4C293.7 82.5 295.7 80.5 297.4 80.2C299.2 79.9 301.3 81.0 302.3 82.6C303.4 84.2 304.0 87.7 303.8 89.9C303.6 92.2 302.4 94.6 301.1 96.0C299.7 97.3 297.6 97.9 295.6 98.2C293.7 98.4 290.7 98.5 289.3 97.4C287.9 96.4 286.6 93.9 287.1 91.8Z" stroke="#555" stroke-width="0.65" fill="none" />
<path d="M280.2 102.2C280.2 100.8 283.8 95.2 285.6 94.9C287.5 94.5 288.7 99.0 291.1 100.0C293.5 101.0 297.1 101.0 300.2 100.9C303.2 100.8 306.4 99.3 309.2 99.3C312.1 99.2 316.4 99.8 317.4 100.4C318.5 100.9 317.6 102.0 315.6 102.5C313.6 103.1 309.1 103.5 305.6 103.6C302.1 103.8 298.0 103.7 294.7 103.6C291.4 103.6 288.1 103.5 285.6 103.3C283.2 103.0 280.2 103.6 280.2 102.2Z" stroke="#555" stroke-width="0.65" fill="none" />
<path d="M315.6 97.8C315.6 98.1 315.2 98.6 314.7 98.8C314.2 99.1 313.2 99.3 312.5 99.3C311.8 99.3 310.8 99.1 310.3 98.8C309.8 98.6 309.4 98.1 309.4 97.8C309.4 97.4 309.8 97.0 310.3 96.8C310.8 96.5 311.8 96.3 312.5 96.3C313.2 96.3 314.2 96.5 314.7 96.8C315.2 97.0 315.6 97.4 315.6 97.8Z" stroke="#555" stroke-width="0.65" fill="none" />
<path d="M268.9 111.7C269.5 111.2 270.8 109.6 272.0 108.8C273.3 108.0 274.3 107.4 276.6 106.9C278.8 106.4 282.8 106.1 285.6 105.8C288.5 105.6 291.2 105.3 293.6 105.5C296.1 105.6 298.3 106.1 300.2 106.6C302.0 107.1 303.0 107.6 304.7 108.4C306.4 109.2 308.2 111.1 310.1 111.3C312.1 111.5 314.5 110.2 316.5 109.5C318.5 108.8 320.1 107.7 321.9 106.9C323.8 106.2 325.9 105.3 327.6 105.1C329.2 104.9 330.8 105.3 331.9 105.8C333.1 106.3 334.0 106.6 334.3 108.0C334.6 109.5 334.3 112.6 333.9 114.6C333.6 116.6 332.9 118.1 332.3 120.1C331.7 122.1 330.9 124.1 330.1 126.5C329.3 128.9 327.8 133.3 327.4 134.7L268.9 134.7Z" stroke="#111" stroke-width="0.5" fill="#262626" />
<path d="M286.7 122.9C286.5 123.6 286.3 124.1 285.9 124.7C285.6 125.3 284.8 126.8 284.5 126.6C284.2 126.4 284.2 124.6 284.2 123.7C284.3 122.9 284.4 122.2 284.7 121.3C285.0 120.3 285.5 118.5 285.9 118.3C286.3 118.2 286.8 119.5 287.0 120.2C287.1 121.0 286.9 122.2 286.7 122.9Z" stroke="#999" stroke-width="0.78" fill="none" />
<path d="M296.3 130.2C295.9 130.6 295.6 130.6 295.1 130.7C294.7 130.9 293.9 131.4 293.8 131.2C293.6 131.0 294.0 130.1 294.1 129.6C294.3 129.0 294.4 128.0 294.7 127.8C294.9 127.6 295.5 128.1 295.9 128.3C296.3 128.4 297.0 128.3 297.0 128.6C297.1 128.9 296.6 129.8 296.3 130.2Z" stroke="#999" stroke-width="0.65" fill="none" />
<path d="M296.7 128.2C296.6 129.1 295.7 129.9 295.2 130.4C294.8 130.9 294.3 131.6 294.0 131.4C293.7 131.1 293.6 129.9 293.5 129.0C293.4 128.2 293.2 126.9 293.4 126.1C293.6 125.4 294.3 125.0 294.7 124.7C295.2 124.5 295.8 124.2 296.1 124.8C296.5 125.3 296.9 127.2 296.7 128.2Z" stroke="#ccc" stroke-width="0.78" fill="none" />
<path d="M298.3 128.7C298.3 129.6 298.3 130.4 298.1 131.1C297.8 131.7 297.1 133.1 296.7 132.9C296.3 132.7 295.9 130.9 295.7 130.1C295.4 129.3 295.1 128.7 295.1 127.9C295.2 127.2 295.5 126.0 295.9 125.7C296.3 125.4 297.2 125.5 297.6 126.0C298.0 126.5 298.2 127.9 298.3 128.7Z" stroke="#ccc" stroke-width="0.78" fill="none" />
<path d="M331.8 129.6C332.2 130.4 332.3 132.2 332.1 132.9C331.9 133.5 331.2 133.7 330.7 133.6C330.2 133.5 329.7 132.8 329.1 132.1C328.5 131.4 327.4 130.4 327.2 129.4C326.9 128.5 327.0 126.5 327.4 126.3C327.8 126.0 329.0 127.5 329.7 128.1C330.4 128.6 331.4 128.8 331.8 129.6Z" stroke="#999" stroke-width="0.52" fill="none" />
<path d="M327.1 110.5C327.6 111.1 328.0 112.5 328.0 113.0C327.9 113.5 327.2 113.7 326.7 113.8C326.2 113.8 325.5 113.7 325.0 113.3C324.5 112.8 324.0 111.8 323.8 111.1C323.5 110.3 323.3 108.9 323.5 108.6C323.8 108.3 324.9 109.0 325.5 109.3C326.1 109.6 326.7 109.9 327.1 110.5Z" stroke="#aaa" stroke-width="0.52" fill="none" />
<path d="M291.6 111.9C291.7 112.3 291.9 113.0 291.6 113.3C291.4 113.6 290.6 113.8 290.1 113.9C289.7 113.9 289.4 113.8 289.0 113.6C288.6 113.4 287.7 113.1 287.7 112.7C287.7 112.4 288.6 111.9 289.1 111.5C289.6 111.2 290.3 110.5 290.7 110.6C291.1 110.6 291.4 111.4 291.6 111.9Z" stroke="#999" stroke-width="0.65" fill="none" />
<path d="M301.2 122.3C301.2 123.3 300.8 125.2 300.4 125.7C299.9 126.2 298.9 125.8 298.4 125.5C297.9 125.1 297.5 124.3 297.3 123.5C297.1 122.6 297.0 121.0 297.3 120.3C297.5 119.6 298.5 119.4 299.0 119.3C299.5 119.3 300.0 119.4 300.4 119.9C300.8 120.4 301.2 121.4 301.2 122.3Z" stroke="#777" stroke-width="0.65" fill="none" />
<path d="M291.5 117.7C291.8 119.1 292.2 121.0 291.9 121.6C291.7 122.3 290.7 121.9 290.1 121.8C289.4 121.7 288.5 121.8 288.0 121.0C287.6 120.1 287.4 118.1 287.4 116.9C287.4 115.8 287.6 114.9 288.1 114.3C288.5 113.7 289.5 112.8 290.0 113.4C290.6 113.9 291.2 116.4 291.5 117.7Z" stroke="#bbb" stroke-width="0.78" fill="none" />
<path d="M289.4 120.4C290.2 121.5 291.3 123.0 291.5 123.8C291.6 124.5 290.8 124.7 290.2 124.8C289.7 124.9 288.7 124.9 288.0 124.3C287.3 123.7 286.4 122.0 286.0 121.1C285.6 120.2 285.5 119.5 285.6 118.9C285.7 118.3 285.9 117.2 286.6 117.4C287.2 117.7 288.6 119.4 289.4 120.4Z" stroke="#ccc" stroke-width="0.78" fill="none" />
<path d="M291.9 119.3C291.8 119.7 291.0 120.1 290.5 120.3C290.0 120.4 289.4 120.4 288.9 120.3C288.3 120.2 287.2 120.0 287.0 119.7C286.8 119.3 287.5 118.7 287.8 118.4C288.2 118.1 288.6 117.9 289.1 117.8C289.6 117.8 290.3 117.8 290.8 118.1C291.3 118.3 291.9 119.0 291.9 119.3Z" stroke="#aaa" stroke-width="0.78" fill="none" />
<path d="M279.1 117.7C279.1 118.6 278.6 119.8 278.3 120.5C278.0 121.1 277.7 121.7 277.3 121.6C277.0 121.5 276.4 121.0 276.1 120.0C275.8 119.0 275.4 116.8 275.5 115.8C275.6 114.8 276.3 114.1 276.7 114.0C277.0 113.8 277.4 114.5 277.8 115.1C278.2 115.7 279.0 116.9 279.1 117.7Z" stroke="#aaa" stroke-width="0.52" fill="none" />
<path d="M305.1 114.2C305.6 115.2 306.5 117.0 306.5 117.9C306.4 118.7 305.5 119.3 304.7 119.3C304.0 119.4 302.7 118.9 302.1 118.1C301.5 117.2 301.1 115.3 301.0 114.4C300.9 113.4 301.2 112.7 301.6 112.3C302.0 111.9 302.6 111.6 303.2 111.9C303.8 112.3 304.5 113.2 305.1 114.2Z" stroke="#999" stroke-width="0.65" fill="none" />
<path d="M293.2 120.7C292.8 121.2 292.5 121.3 291.9 121.6C291.4 121.9 290.2 122.8 289.9 122.6C289.6 122.3 289.6 121.0 289.9 120.2C290.2 119.4 290.9 118.0 291.5 117.6C292.1 117.2 292.8 117.4 293.4 117.6C293.9 117.7 294.8 117.8 294.8 118.3C294.8 118.8 293.7 120.1 293.2 120.7Z" stroke="#888" stroke-width="0.78" fill="none" />
<path d="M274.8 122.1C274.3 123.0 273.0 124.5 272.1 124.8C271.3 125.2 270.2 124.8 269.8 124.2C269.5 123.5 269.5 122.1 270.0 121.0C270.4 119.9 271.7 118.0 272.4 117.6C273.2 117.1 274.0 117.9 274.6 118.2C275.1 118.5 275.5 118.8 275.5 119.4C275.6 120.1 275.4 121.2 274.8 122.1Z" stroke="#bbb" stroke-width="0.52" fill="none" />
<path d="M304.2 113.9C304.5 114.3 304.3 115.3 304.2 116.0C304.1 116.6 304.0 117.6 303.5 117.8C303.0 118.0 301.9 117.5 301.4 117.1C301.0 116.7 300.8 116.1 300.5 115.4C300.3 114.8 299.9 113.6 300.2 113.2C300.4 112.9 301.5 113.2 302.2 113.3C302.8 113.4 303.8 113.4 304.2 113.9Z" stroke="#aaa" stroke-width="0.78" fill="none" />
<path d="M293.8 117.2C293.4 117.9 292.8 118.4 292.2 118.6C291.6 118.9 290.8 119.3 290.2 119.0C289.7 118.7 288.9 117.6 289.0 116.9C289.1 116.2 290.1 115.4 290.7 114.8C291.3 114.1 292.0 113.0 292.6 113.0C293.3 112.9 294.5 113.7 294.7 114.4C294.9 115.1 294.2 116.5 293.8 117.2Z" stroke="#aaa" stroke-width="0.52" fill="none" />
<path d="M302.3 122.7C302.7 123.7 302.9 125.3 302.8 125.9C302.6 126.4 301.9 126.1 301.5 126.0C301.1 125.9 300.6 125.8 300.1 125.1C299.6 124.5 298.7 123.0 298.5 121.9C298.3 120.9 298.4 119.4 298.8 119.0C299.1 118.6 300.0 118.9 300.6 119.5C301.2 120.1 302.0 121.6 302.3 122.7Z" stroke="#aaa" stroke-width="0.52" fill="none" />
<path d="M275.1 121.4C275.1 122.2 274.8 123.3 274.6 123.7C274.4 124.2 274.1 124.3 273.9 124.1C273.7 124.0 273.4 123.6 273.3 122.9C273.2 122.2 273.3 120.6 273.4 119.8C273.5 119.0 273.8 118.3 274.0 118.1C274.3 117.9 274.5 118.3 274.7 118.8C274.9 119.4 275.1 120.6 275.1 121.4Z" stroke="#999" stroke-width="0.65" fill="none" />
<path d="M280.0 122.0C280.4 122.6 280.8 123.3 280.7 123.9C280.7 124.5 280.3 125.3 279.8 125.6C279.3 125.8 278.1 125.7 277.6 125.3C277.1 124.9 276.8 123.8 276.6 123.0C276.4 122.2 276.1 121.1 276.5 120.6C276.8 120.2 278.0 120.0 278.6 120.3C279.1 120.5 279.7 121.4 280.0 122.0Z" stroke="#aaa" stroke-width="0.65" fill="none" />
<path d="M295.7 122.2C295.5 122.8 294.8 123.4 294.3 123.8C293.8 124.1 293.0 124.5 292.6 124.3C292.1 124.0 291.4 123.1 291.4 122.4C291.4 121.8 292.2 121.0 292.7 120.4C293.1 119.8 293.6 119.1 294.1 119.0C294.5 118.9 295.2 119.4 295.5 119.9C295.8 120.5 295.9 121.6 295.7 122.2Z" stroke="#ccc" stroke-width="0.52" fill="none" />
<path d="M295.6 130.2C295.6 130.9 296.0 132.0 295.6 132.4C295.3 132.8 294.2 133.0 293.5 132.8C292.8 132.7 291.8 132.3 291.5 131.7C291.2 131.1 291.2 129.9 291.5 129.3C291.8 128.6 292.6 128.0 293.2 127.9C293.9 127.7 294.9 127.8 295.3 128.2C295.7 128.6 295.5 129.5 295.6 130.2Z" stroke="#777" stroke-width="0.78" fill="none" />
<path d="M278.0 123.9C277.8 124.3 277.6 124.7 277.4 124.9C277.2 125.0 276.9 125.0 276.7 124.9C276.5 124.8 276.0 124.6 276.1 124.2C276.1 123.8 276.7 123.1 277.0 122.8C277.3 122.4 277.5 122.4 277.8 122.3C278.0 122.2 278.7 121.9 278.7 122.2C278.8 122.5 278.2 123.4 278.0 123.9Z" stroke="#aaa" stroke-width="0.52" fill="none" />
<path d="M325.1 125.8C324.9 126.9 323.8 127.4 323.2 128.2C322.5 129.0 321.8 130.7 321.3 130.6C320.8 130.4 320.3 128.5 320.2 127.3C320.0 126.0 320.0 123.9 320.4 123.0C320.8 122.1 321.7 122.3 322.4 122.0C323.1 121.8 324.1 120.9 324.5 121.6C325.0 122.2 325.3 124.7 325.1 125.8Z" stroke="#aaa" stroke-width="0.78" fill="none" />
<path d="M305.6 130.6C305.2 130.9 304.7 131.1 304.3 131.2C303.9 131.2 303.4 131.2 303.1 131.0C302.9 130.7 302.7 129.9 302.9 129.5C303.1 129.2 303.8 128.9 304.3 128.6C304.7 128.4 305.1 128.1 305.5 128.2C305.8 128.2 306.4 128.6 306.4 129.0C306.4 129.4 305.9 130.2 305.6 130.6Z" stroke="#999" stroke-width="0.78" fill="none" />
<path d="M331.3 119.8C330.9 120.7 329.7 121.9 329.0 122.4C328.4 122.9 327.7 123.3 327.5 123.0C327.3 122.6 327.5 121.4 327.9 120.3C328.2 119.2 329.1 117.1 329.7 116.2C330.4 115.2 331.5 114.4 331.8 114.6C332.2 114.7 331.8 116.0 331.7 116.9C331.7 117.7 331.8 118.9 331.3 119.8Z" stroke="#888" stroke-width="0.65" fill="none" />
<path d="M282.5 122.8C281.7 123.7 280.5 125.2 280.0 125.3C279.4 125.5 279.3 124.4 279.1 123.8C278.8 123.3 278.2 122.8 278.5 122.2C278.8 121.5 280.1 120.6 280.8 119.9C281.5 119.3 282.3 118.6 282.9 118.5C283.4 118.4 284.3 118.8 284.3 119.5C284.2 120.2 283.2 121.8 282.5 122.8Z" stroke="#777" stroke-width="0.78" fill="none" />
<path d="M331.0 118.4C330.7 118.9 329.7 119.4 329.2 119.5C328.6 119.7 328.0 119.5 327.7 119.2C327.4 118.8 327.5 118.1 327.5 117.5C327.6 116.8 327.7 115.8 328.1 115.4C328.5 115.0 329.5 114.7 329.9 114.9C330.4 115.0 330.7 115.7 330.8 116.3C331.0 116.9 331.3 117.8 331.0 118.4Z" stroke="#888" stroke-width="0.65" fill="none" />
<path d="M291.9 127.6C291.9 128.9 291.7 130.3 291.5 131.3C291.3 132.2 290.9 133.4 290.6 133.2C290.2 133.0 289.7 131.4 289.5 130.1C289.4 128.9 289.5 126.7 289.6 125.6C289.7 124.4 290.0 123.5 290.3 123.1C290.6 122.8 291.1 122.7 291.4 123.5C291.7 124.2 291.9 126.3 291.9 127.6Z" stroke="#bbb" stroke-width="0.65" fill="none" />
<path d="M327.5 112.5C327.3 113.4 326.0 114.2 325.3 114.7C324.7 115.1 324.0 115.6 323.6 115.3C323.1 115.1 322.8 114.2 322.6 113.2C322.5 112.1 322.2 110.1 322.6 109.1C323.0 108.1 324.5 106.9 325.2 106.9C325.8 107.0 326.1 108.6 326.4 109.6C326.8 110.5 327.7 111.7 327.5 112.5Z" stroke="#bbb" stroke-width="0.78" fill="none" />
<path d="M328.9 114.0C329.1 114.4 329.0 115.0 329.0 115.4C328.9 115.8 328.9 116.0 328.7 116.2C328.4 116.3 327.9 116.4 327.6 116.2C327.3 115.9 327.2 114.9 327.0 114.4C326.9 113.9 326.6 113.4 326.7 113.1C326.8 112.8 327.1 112.5 327.5 112.7C327.9 112.8 328.6 113.5 328.9 114.0Z" stroke="#aaa" stroke-width="0.65" fill="none" />
<path d="M274.6 118.5C274.5 118.9 273.9 119.5 273.6 119.6C273.2 119.7 272.7 119.5 272.4 119.3C272.1 119.1 271.7 118.9 271.6 118.5C271.4 118.1 271.2 117.1 271.4 116.9C271.7 116.6 272.5 116.8 272.9 116.8C273.3 116.9 273.8 116.8 274.1 117.0C274.3 117.3 274.7 118.0 274.6 118.5Z" stroke="#777" stroke-width="0.65" fill="none" />
<path d="M329.0 114.1C328.7 114.7 327.6 115.0 326.9 115.3C326.2 115.5 325.3 115.8 324.8 115.5C324.2 115.2 323.7 114.1 323.7 113.3C323.6 112.5 324.0 111.2 324.5 110.8C325.0 110.4 326.0 110.7 326.8 110.8C327.5 110.9 328.5 110.9 328.9 111.5C329.3 112.0 329.3 113.5 329.0 114.1Z" stroke="#bbb" stroke-width="0.65" fill="none" />
<path d="M307.0 121.3C307.5 121.9 308.3 123.0 308.3 123.7C308.3 124.4 307.7 125.3 307.1 125.4C306.6 125.6 305.5 125.2 304.8 124.6C304.1 124.1 303.1 122.9 303.0 122.2C302.8 121.5 303.5 120.9 303.9 120.5C304.2 120.1 304.7 119.7 305.2 119.8C305.7 119.9 306.5 120.6 307.0 121.3Z" stroke="#999" stroke-width="0.78" fill="none" />
<path d="M279.8 131.4C279.6 132.0 279.1 132.9 278.7 133.2C278.3 133.6 277.8 133.8 277.5 133.6C277.3 133.3 277.2 132.4 277.3 131.8C277.4 131.2 277.8 130.3 278.0 129.8C278.3 129.4 278.8 129.1 279.0 129.1C279.3 129.1 279.4 129.4 279.6 129.8C279.7 130.2 279.9 130.9 279.8 131.4Z" stroke="#888" stroke-width="0.78" fill="none" />
<path d="M318.9 122.0C319.2 122.7 319.6 124.1 319.3 124.5C319.1 125.0 317.9 124.6 317.3 124.6C316.6 124.5 315.9 124.8 315.6 124.4C315.2 124.0 315.2 123.0 315.2 122.3C315.2 121.5 315.1 120.3 315.5 120.0C315.9 119.7 317.0 120.2 317.5 120.5C318.1 120.8 318.6 121.4 318.9 122.0Z" stroke="#999" stroke-width="0.65" fill="none" />
<path d="M299.0 128.9C298.4 129.6 297.8 130.5 297.3 130.8C296.8 131.1 296.1 131.1 296.1 130.8C296.0 130.5 296.3 129.6 296.8 128.9C297.2 128.1 298.1 126.8 298.6 126.4C299.1 126.0 299.4 126.4 299.7 126.5C300.1 126.6 300.8 126.4 300.6 126.8C300.5 127.2 299.6 128.3 299.0 128.9Z" stroke="#999" stroke-width="0.78" fill="none" />
<path d="M332.7 114.5C332.2 115.5 331.3 116.2 330.7 116.6C330.1 116.9 329.7 116.9 329.3 116.7C328.8 116.4 327.9 115.8 328.1 115.0C328.2 114.1 329.5 112.3 330.2 111.5C330.8 110.7 331.4 110.4 332.1 110.2C332.7 110.1 333.7 109.9 333.9 110.6C334.0 111.3 333.2 113.5 332.7 114.5Z" stroke="#999" stroke-width="0.65" fill="none" />
<path d="M331.1 119.7C330.9 120.6 330.1 122.0 329.5 122.3C329.0 122.7 328.5 122.3 328.0 122.0C327.5 121.7 326.6 121.4 326.6 120.6C326.5 119.8 327.1 118.3 327.5 117.5C327.9 116.7 328.6 115.9 329.1 115.7C329.6 115.5 330.3 115.9 330.7 116.5C331.0 117.2 331.3 118.7 331.1 119.7Z" stroke="#aaa" stroke-width="0.52" fill="none" />
<path d="M319.4 125.2C319.4 126.0 319.5 127.3 319.2 127.7C318.9 128.1 318.3 127.7 317.8 127.5C317.4 127.3 316.8 127.3 316.5 126.7C316.2 126.1 316.1 124.6 316.2 123.8C316.4 123.1 317.0 122.5 317.4 122.3C317.9 122.1 318.6 122.1 318.9 122.6C319.3 123.1 319.3 124.3 319.4 125.2Z" stroke="#888" stroke-width="0.78" fill="none" />
<path d="M281.0 127.7C281.0 128.1 280.7 128.5 280.4 128.8C280.1 129.1 279.8 129.6 279.3 129.7C278.7 129.8 277.7 129.7 277.4 129.3C277.1 129.0 277.5 128.2 277.7 127.7C277.9 127.2 278.0 126.5 278.5 126.2C278.9 126.0 280.0 126.1 280.4 126.4C280.8 126.6 281.0 127.3 281.0 127.7Z" stroke="#aaa" stroke-width="0.52" fill="none" />
<path d="M325.4 124.6C325.1 125.7 324.6 127.3 323.8 127.9C323.1 128.4 321.8 128.6 321.1 128.1C320.5 127.6 320.0 126.0 320.1 124.9C320.3 123.9 321.2 122.6 321.9 121.7C322.5 120.8 323.5 119.7 324.1 119.7C324.8 119.6 325.5 120.8 325.7 121.6C325.9 122.5 325.7 123.6 325.4 124.6Z" stroke="#aaa" stroke-width="0.52" fill="none" />
<path d="M297.5 129.1C297.5 130.0 297.9 131.4 297.6 131.7C297.3 132.1 296.2 131.6 295.7 131.4C295.1 131.2 294.3 130.9 294.2 130.4C294.0 129.9 294.4 129.0 294.6 128.4C294.8 127.7 295.0 126.9 295.4 126.6C295.9 126.3 297.0 126.3 297.3 126.7C297.6 127.2 297.4 128.3 297.5 129.1Z" stroke="#888" stroke-width="0.65" fill="none" />
<path d="M300.0 111.7C300.1 112.9 300.0 113.9 299.8 114.8C299.6 115.7 299.2 117.2 298.8 117.1C298.4 117.0 297.8 115.2 297.6 114.0C297.4 112.9 297.6 111.3 297.7 110.3C297.8 109.2 298.0 108.4 298.3 108.0C298.6 107.5 299.2 107.0 299.5 107.7C299.8 108.3 300.0 110.5 300.0 111.7Z" stroke="#888" stroke-width="0.78" fill="none" />
<path d="M282.2 111.7C282.1 112.5 281.9 113.8 281.5 114.2C281.1 114.6 280.2 114.6 279.8 114.2C279.5 113.9 279.4 113.0 279.3 112.3C279.1 111.5 278.8 110.1 279.1 109.4C279.4 108.8 280.4 108.5 281.0 108.5C281.5 108.6 282.0 109.0 282.2 109.5C282.4 110.0 282.3 110.9 282.2 111.7Z" stroke="#bbb" stroke-width="0.52" fill="none" />
<path d="M315.5 116.8C315.1 117.5 314.3 117.8 313.9 118.1C313.4 118.4 312.9 118.6 312.9 118.4C312.8 118.1 313.1 117.3 313.4 116.6C313.6 116.0 314.1 115.1 314.5 114.7C314.9 114.2 315.3 114.2 315.6 114.1C316.0 114.0 316.8 113.5 316.8 114.0C316.8 114.4 316.0 116.1 315.5 116.8Z" stroke="#aaa" stroke-width="0.78" fill="none" />
<path d="M323.2 118.5C322.8 119.5 321.1 120.6 320.3 121.1C319.4 121.6 318.2 121.8 317.9 121.2C317.5 120.7 318.0 119.0 318.2 117.9C318.4 116.8 318.4 115.8 319.0 114.8C319.7 113.7 321.2 111.6 321.8 111.6C322.4 111.7 322.5 113.7 322.7 114.9C323.0 116.0 323.6 117.5 323.2 118.5Z" stroke="#bbb" stroke-width="0.52" fill="none" />
<path d="M298.9 113.2C298.7 113.7 298.8 114.3 298.4 114.6C298.0 114.8 297.1 114.7 296.8 114.5C296.4 114.2 296.2 113.6 296.1 113.1C296.0 112.7 295.9 112.0 296.1 111.7C296.4 111.4 297.1 111.3 297.6 111.3C298.2 111.2 299.3 111.2 299.5 111.6C299.7 111.9 299.1 112.7 298.9 113.2Z" stroke="#ccc" stroke-width="0.65" fill="none" />
<path d="M322.5 130.0C322.7 130.4 322.7 131.4 322.3 131.7C321.8 132.0 320.6 131.9 319.9 132.0C319.2 132.0 318.7 132.1 318.3 131.8C317.8 131.6 317.0 131.0 317.2 130.7C317.4 130.3 318.6 130.0 319.3 129.7C319.9 129.5 320.5 129.2 321.0 129.2C321.6 129.3 322.3 129.6 322.5 130.0Z" stroke="#777" stroke-width="0.65" fill="none" />
<path d="M284.4 127.1C284.3 128.1 283.3 129.4 282.7 130.0C282.2 130.6 281.5 131.0 281.0 130.8C280.6 130.5 280.3 129.3 280.0 128.3C279.8 127.3 279.4 125.5 279.7 124.6C279.9 123.7 281.0 122.9 281.6 122.8C282.1 122.8 282.6 123.5 283.1 124.2C283.5 124.9 284.4 126.1 284.4 127.1Z" stroke="#777" stroke-width="0.52" fill="none" />
<path d="M316.6 124.0C316.7 124.7 316.8 126.1 316.4 126.4C316.1 126.7 315.2 126.1 314.6 125.9C314.1 125.7 313.5 125.8 313.1 125.2C312.8 124.7 312.6 123.4 312.8 122.7C313.0 122.0 313.9 121.1 314.4 121.1C314.9 121.0 315.5 121.9 315.9 122.4C316.3 122.9 316.5 123.3 316.6 124.0Z" stroke="#777" stroke-width="0.52" fill="none" />
<path d="M325.3 124.6C325.4 126.0 324.9 127.9 324.4 128.5C323.8 129.2 322.8 128.9 322.2 128.6C321.6 128.3 320.8 127.5 320.6 126.7C320.4 125.8 320.6 124.5 320.8 123.5C320.9 122.6 321.1 121.4 321.7 120.9C322.2 120.4 323.4 119.8 324.0 120.4C324.6 121.0 325.3 123.2 325.3 124.6Z" stroke="#ccc" stroke-width="0.52" fill="none" />
<path d="M277.3 124.3C277.5 124.7 277.6 125.4 277.4 125.7C277.3 126.0 276.7 126.0 276.4 126.0C276.1 126.1 275.8 126.1 275.4 125.9C275.1 125.7 274.3 125.2 274.3 124.9C274.3 124.5 274.9 124.2 275.2 123.9C275.5 123.7 275.8 123.3 276.2 123.4C276.5 123.5 277.1 123.9 277.3 124.3Z" stroke="#777" stroke-width="0.65" fill="none" />
<path d="M320.2 123.2C320.5 123.8 320.4 124.5 320.3 125.3C320.2 126.0 320.1 127.6 319.7 127.6C319.2 127.7 318.2 126.3 317.7 125.6C317.2 125.0 317.1 124.5 316.9 123.7C316.7 122.9 316.1 121.0 316.4 120.6C316.7 120.3 318.1 121.2 318.8 121.6C319.4 122.1 320.0 122.6 320.2 123.2Z" stroke="#aaa" stroke-width="0.65" fill="none" />
<path d="M279.7 118.4C280.2 119.2 280.8 120.7 280.7 121.5C280.7 122.3 280.0 123.2 279.4 123.3C278.7 123.4 277.6 122.5 276.9 121.9C276.2 121.2 275.2 120.2 274.9 119.2C274.6 118.3 274.7 116.7 275.1 116.3C275.5 115.9 276.7 116.4 277.5 116.8C278.3 117.1 279.1 117.6 279.7 118.4Z" stroke="#999" stroke-width="0.78" fill="none" />
<path d="M321.9 115.8C321.7 116.5 321.4 117.4 321.0 117.7C320.5 118.1 319.7 118.3 319.4 118.0C319.1 117.7 319.2 116.7 319.2 115.9C319.3 115.2 319.2 114.2 319.5 113.6C319.8 113.0 320.8 112.1 321.3 112.1C321.8 112.1 322.3 113.0 322.4 113.6C322.5 114.2 322.2 115.1 321.9 115.8Z" stroke="#aaa" stroke-width="0.78" fill="none" />
<path d="M293.4 131.8C293.8 132.4 293.9 132.9 294.0 133.5C294.1 134.2 294.4 135.5 294.0 135.6C293.7 135.8 292.6 135.0 292.0 134.4C291.3 133.9 290.6 132.8 290.3 132.0C290.0 131.2 289.8 130.0 290.1 129.6C290.4 129.3 291.4 129.5 291.9 129.9C292.5 130.2 293.1 131.2 293.4 131.8Z" stroke="#777" stroke-width="0.78" fill="none" />
<path d="M324.5 118.7C324.6 119.6 324.6 121.7 324.4 122.3C324.2 122.9 323.5 122.5 323.1 122.3C322.7 122.0 322.2 121.4 322.0 120.6C321.8 119.9 322.0 118.9 322.0 117.9C322.1 116.9 321.9 114.8 322.1 114.6C322.3 114.4 322.9 116.2 323.3 116.9C323.7 117.6 324.3 117.8 324.5 118.7Z" stroke="#aaa" stroke-width="0.52" fill="none" />
<path d="M287.2 121.9C287.0 122.9 286.3 123.8 285.9 124.5C285.4 125.3 285.0 126.2 284.6 126.2C284.3 126.3 283.9 125.7 284.0 124.9C284.0 124.1 284.7 122.6 285.0 121.3C285.3 120.1 285.5 118.1 285.8 117.5C286.1 116.9 286.5 117.5 286.8 117.7C287.1 117.9 287.4 118.0 287.4 118.7C287.5 119.4 287.5 120.9 287.2 121.9Z" stroke="#bbb" stroke-width="0.3" fill="#d8d8d8" opacity="0.7"/>
<path d="M286.2 122.7C286.0 123.2 285.5 123.7 285.3 123.9C285.0 124.0 284.7 123.8 284.7 123.6C284.7 123.3 284.9 122.6 285.1 122.1C285.3 121.7 285.8 121.2 286.1 121.0C286.3 120.9 286.6 121.0 286.6 121.3C286.6 121.6 286.4 122.3 286.2 122.7Z" stroke="#333" stroke-width="0.59" fill="none" />
<path d="M286.2 119.9C286.4 120.3 286.5 121.0 286.4 121.3C286.4 121.6 286.1 121.7 285.9 121.6C285.6 121.4 285.2 120.8 285.0 120.4C284.8 119.9 284.7 119.2 284.7 118.9C284.8 118.6 285.1 118.5 285.3 118.7C285.6 118.8 286.0 119.4 286.2 119.9Z" stroke="#333" stroke-width="0.59" fill="none" />
<path d="M286.2 119.6C286.5 120.0 286.9 120.6 286.9 120.9C286.9 121.2 286.7 121.4 286.4 121.3C286.1 121.2 285.5 120.8 285.2 120.4C284.9 120.1 284.6 119.4 284.6 119.1C284.5 118.8 284.8 118.6 285.1 118.7C285.3 118.8 285.9 119.2 286.2 119.6Z" stroke="#333" stroke-width="0.59" fill="none" />
<path d="M282.3 122.1C282.5 122.9 282.6 124.2 282.6 125.0C282.6 125.9 282.5 126.9 282.2 127.1C282.0 127.2 281.5 126.6 281.1 125.8C280.8 125.1 280.3 123.5 280.2 122.5C280.0 121.6 280.2 120.6 280.3 120.1C280.3 119.6 280.5 119.6 280.7 119.6C280.9 119.5 281.1 119.6 281.4 120.0C281.7 120.4 282.1 121.2 282.3 122.1Z" stroke="#bbb" stroke-width="0.3" fill="#d8d8d8" opacity="0.7"/>
<path d="M281.7 122.4C281.7 122.8 281.5 123.3 281.4 123.5C281.3 123.7 281.0 123.7 280.9 123.5C280.8 123.3 280.8 122.7 280.8 122.3C280.8 122.0 281.0 121.4 281.1 121.3C281.2 121.1 281.5 121.1 281.6 121.3C281.7 121.5 281.7 122.1 281.7 122.4Z" stroke="#333" stroke-width="0.59" fill="none" />
<path d="M281.5 123.4C281.7 123.7 281.8 124.3 281.8 124.5C281.8 124.7 281.6 124.8 281.4 124.7C281.2 124.6 280.9 124.1 280.7 123.8C280.6 123.4 280.4 122.9 280.5 122.7C280.5 122.5 280.7 122.4 280.9 122.5C281.1 122.6 281.4 123.1 281.5 123.4Z" stroke="#333" stroke-width="0.59" fill="none" />
<path d="M281.6 124.0C281.4 124.3 281.0 124.7 280.8 124.7C280.6 124.8 280.4 124.7 280.4 124.5C280.4 124.3 280.7 123.7 280.9 123.4C281.1 123.1 281.5 122.8 281.7 122.7C281.9 122.6 282.1 122.7 282.1 122.9C282.1 123.1 281.8 123.7 281.6 124.0Z" stroke="#333" stroke-width="0.59" fill="none" />
<path d="M299.4 118.4C299.3 119.2 299.0 120.0 298.7 120.9C298.4 121.7 297.8 123.7 297.6 123.5C297.4 123.4 297.5 121.1 297.5 120.2C297.4 119.3 297.3 119.0 297.4 118.1C297.5 117.3 297.6 115.7 297.9 115.0C298.2 114.3 298.8 113.6 299.0 113.8C299.3 114.0 299.3 115.3 299.4 116.0C299.5 116.8 299.5 117.6 299.4 118.4Z" stroke="#bbb" stroke-width="0.3" fill="#d8d8d8" opacity="0.7"/>
<path d="M298.4 117.5C298.2 117.9 297.7 118.4 297.5 118.5C297.2 118.6 296.9 118.4 296.9 118.2C296.9 117.9 297.1 117.2 297.3 116.9C297.5 116.5 298.0 116.0 298.3 115.9C298.5 115.8 298.8 115.9 298.8 116.2C298.8 116.5 298.6 117.1 298.4 117.5Z" stroke="#333" stroke-width="0.59" fill="none" />
<path d="M298.8 120.4C298.6 120.7 298.1 121.2 297.9 121.3C297.6 121.4 297.3 121.2 297.3 121.0C297.3 120.7 297.5 120.0 297.8 119.7C298.0 119.3 298.5 118.8 298.8 118.7C299.0 118.6 299.3 118.8 299.3 119.1C299.3 119.3 299.1 120.0 298.8 120.4Z" stroke="#333" stroke-width="0.59" fill="none" />
<path d="M299.4 116.2C299.6 116.5 299.9 117.2 299.9 117.5C299.9 117.7 299.7 117.9 299.4 117.8C299.1 117.7 298.6 117.3 298.4 116.9C298.1 116.6 297.8 116.0 297.8 115.7C297.8 115.4 298.1 115.2 298.4 115.3C298.6 115.4 299.1 115.8 299.4 116.2Z" stroke="#333" stroke-width="0.59" fill="none" />
<path d="M317.3 121.1C317.6 121.9 318.2 123.1 318.2 123.7C318.1 124.3 317.4 125.0 317.0 125.0C316.6 125.0 316.1 124.2 315.5 123.7C315.0 123.3 314.0 122.9 313.8 122.2C313.6 121.6 314.1 120.6 314.3 119.9C314.5 119.3 314.6 118.4 314.9 118.2C315.3 118.1 316.1 118.5 316.5 118.9C316.9 119.4 317.1 120.3 317.3 121.1Z" stroke="#bbb" stroke-width="0.3" fill="#d8d8d8" opacity="0.7"/>
<path d="M317.3 120.8C317.4 121.1 317.5 121.8 317.3 122.1C317.2 122.4 316.7 122.6 316.4 122.6C316.0 122.5 315.5 122.1 315.3 121.8C315.1 121.4 315.1 120.7 315.2 120.4C315.4 120.1 315.9 119.9 316.2 119.9C316.5 120.0 317.1 120.4 317.3 120.8Z" stroke="#333" stroke-width="0.59" fill="none" />
<path d="M316.5 121.6C316.4 122.0 316.0 122.5 315.7 122.6C315.4 122.7 314.8 122.6 314.6 122.3C314.4 122.1 314.3 121.4 314.4 121.0C314.5 120.6 314.9 120.1 315.2 120.0C315.6 119.9 316.1 120.0 316.3 120.3C316.5 120.5 316.6 121.2 316.5 121.6Z" stroke="#333" stroke-width="0.59" fill="none" />
<path d="M317.0 123.7C316.8 124.0 316.2 124.4 315.9 124.4C315.6 124.4 315.1 124.1 315.0 123.7C314.9 123.4 315.0 122.8 315.3 122.4C315.5 122.1 316.1 121.8 316.4 121.8C316.7 121.7 317.2 122.1 317.3 122.4C317.4 122.7 317.3 123.4 317.0 123.7Z" stroke="#333" stroke-width="0.59" fill="none" />
<path d="M322.1 117.0C321.8 117.5 321.4 117.8 321.0 118.2C320.5 118.6 319.8 119.5 319.4 119.5C319.0 119.4 318.7 118.6 318.8 118.0C318.8 117.4 319.4 116.5 319.8 115.7C320.2 115.0 320.7 113.9 321.1 113.6C321.6 113.3 322.2 113.5 322.5 113.8C322.7 114.1 322.7 114.8 322.6 115.3C322.6 115.9 322.4 116.5 322.1 117.0Z" stroke="#bbb" stroke-width="0.3" fill="#d8d8d8" opacity="0.7"/>
<path d="M321.4 114.9C321.3 115.2 321.0 115.5 320.8 115.6C320.6 115.7 320.2 115.6 320.1 115.4C319.9 115.2 319.9 114.7 320.0 114.5C320.1 114.2 320.4 113.8 320.6 113.7C320.8 113.6 321.1 113.7 321.3 113.9C321.4 114.1 321.5 114.6 321.4 114.9Z" stroke="#333" stroke-width="0.59" fill="none" />
<path d="M322.2 117.9C322.2 118.2 322.1 118.6 321.9 118.8C321.7 118.9 321.4 119.0 321.2 118.8C321.0 118.7 320.8 118.3 320.7 118.0C320.7 117.7 320.9 117.2 321.1 117.1C321.2 116.9 321.6 116.9 321.8 117.0C322.0 117.2 322.2 117.6 322.2 117.9Z" stroke="#333" stroke-width="0.59" fill="none" />
<path d="M321.8 118.4C321.6 118.7 321.2 118.9 321.0 118.9C320.8 119.0 320.5 118.7 320.4 118.5C320.3 118.3 320.5 117.8 320.6 117.6C320.8 117.3 321.2 117.1 321.4 117.1C321.7 117.1 322.0 117.3 322.0 117.5C322.1 117.7 322.0 118.2 321.8 118.4Z" stroke="#333" stroke-width="0.59" fill="none" />
<path d="M327.8 124.9C327.7 125.5 327.3 126.1 327.0 126.5C326.7 126.9 326.2 127.3 326.0 127.2C325.7 127.1 325.6 126.3 325.5 125.9C325.5 125.4 325.5 125.0 325.5 124.5C325.6 123.9 325.6 123.0 325.9 122.5C326.2 121.9 326.9 121.2 327.2 121.3C327.5 121.4 327.7 122.4 327.8 123.0C327.9 123.6 328.0 124.4 327.8 124.9Z" stroke="#bbb" stroke-width="0.3" fill="#d8d8d8" opacity="0.7"/>
<path d="M327.0 124.1C327.0 124.3 326.9 124.7 326.8 124.9C326.6 125.0 326.3 125.0 326.1 124.9C326.0 124.8 325.8 124.4 325.8 124.2C325.7 123.9 325.9 123.5 326.0 123.4C326.1 123.2 326.5 123.2 326.6 123.3C326.8 123.4 327.0 123.8 327.0 124.1Z" stroke="#333" stroke-width="0.59" fill="none" />
<path d="M327.2 125.0C327.0 125.2 326.6 125.3 326.4 125.2C326.2 125.2 326.0 124.9 326.0 124.7C326.0 124.5 326.2 124.1 326.4 124.0C326.6 123.8 327.0 123.7 327.2 123.8C327.4 123.8 327.6 124.1 327.6 124.3C327.6 124.5 327.4 124.8 327.2 125.0Z" stroke="#333" stroke-width="0.59" fill="none" />
<path d="M326.7 124.0C326.7 124.3 326.6 124.7 326.4 124.8C326.2 124.9 325.9 124.9 325.8 124.7C325.6 124.6 325.5 124.2 325.5 124.0C325.5 123.7 325.7 123.3 325.8 123.2C326.0 123.1 326.3 123.1 326.5 123.2C326.6 123.4 326.8 123.8 326.7 124.0Z" stroke="#333" stroke-width="0.59" fill="none" />
<path d="M292.9 127.8C292.7 128.5 292.4 129.4 292.0 129.9C291.6 130.3 291.1 130.4 290.8 130.3C290.5 130.2 290.1 129.7 290.2 129.2C290.2 128.6 290.6 127.5 290.9 126.9C291.2 126.4 291.6 126.4 292.0 126.1C292.3 125.7 292.8 124.9 293.0 124.9C293.3 124.9 293.5 125.5 293.5 126.0C293.4 126.5 293.2 127.2 292.9 127.8Z" stroke="#bbb" stroke-width="0.3" fill="#d8d8d8" opacity="0.7"/>
<path d="M292.5 126.8C292.4 127.1 292.1 127.4 291.9 127.4C291.7 127.5 291.5 127.4 291.4 127.2C291.3 127.0 291.4 126.6 291.5 126.4C291.6 126.1 291.9 125.8 292.0 125.8C292.2 125.7 292.5 125.8 292.5 126.0C292.6 126.2 292.6 126.6 292.5 126.8Z" stroke="#333" stroke-width="0.59" fill="none" />
<path d="M293.0 126.1C292.9 126.4 292.6 126.7 292.4 126.8C292.3 126.9 292.0 126.8 291.9 126.6C291.8 126.4 291.8 126.0 291.9 125.8C292.0 125.5 292.3 125.2 292.4 125.1C292.6 125.1 292.9 125.1 293.0 125.3C293.0 125.5 293.0 125.9 293.0 126.1Z" stroke="#333" stroke-width="0.59" fill="none" />
<path d="M292.2 127.9C292.1 128.0 291.7 128.2 291.5 128.2C291.3 128.2 291.1 128.0 291.1 127.8C291.1 127.6 291.3 127.3 291.5 127.1C291.7 126.9 292.0 126.7 292.2 126.7C292.4 126.7 292.6 126.9 292.6 127.1C292.6 127.3 292.4 127.7 292.2 127.9Z" stroke="#333" stroke-width="0.59" fill="none" />
<path d="M305.2 109.1C306.0 108.3 308.9 111.3 310.1 111.7C311.4 112.1 311.9 110.4 312.5 111.3C313.1 112.3 313.8 114.7 313.6 117.4C313.4 120.0 311.5 124.5 311.4 127.4C311.3 130.3 313.8 133.5 312.9 134.7C312.0 135.9 306.8 136.5 306.0 134.7C305.1 132.9 307.8 126.8 307.8 123.8C307.7 120.7 306.0 118.9 305.6 116.4C305.2 114.0 304.5 109.9 305.2 109.1Z" stroke="#777" stroke-width="0.4" fill="#909090" />
<path d="M313.0 125.1C313.3 125.5 313.5 126.2 313.5 126.5C313.4 126.8 313.0 127.1 312.7 127.0C312.4 127.0 311.8 126.5 311.5 126.1C311.3 125.7 311.0 125.0 311.1 124.7C311.1 124.4 311.5 124.1 311.8 124.2C312.2 124.2 312.8 124.7 313.0 125.1Z" stroke="#2a2a2a" stroke-width="0.65" fill="none" />
<path d="M312.9 115.9C313.0 116.4 313.0 117.1 312.8 117.4C312.7 117.7 312.2 117.8 311.9 117.6C311.7 117.4 311.3 116.8 311.2 116.3C311.1 115.9 311.1 115.1 311.3 114.8C311.4 114.6 311.9 114.5 312.2 114.6C312.4 114.8 312.8 115.5 312.9 115.9Z" stroke="#2a2a2a" stroke-width="0.65" fill="none" />
<path d="M312.3 118.5C312.5 118.9 312.6 119.7 312.5 120.0C312.4 120.3 312.0 120.5 311.7 120.4C311.4 120.3 310.9 119.7 310.7 119.3C310.5 118.9 310.4 118.1 310.5 117.8C310.6 117.5 311.0 117.3 311.3 117.4C311.6 117.5 312.1 118.1 312.3 118.5Z" stroke="#2a2a2a" stroke-width="0.65" fill="none" />
<path d="M313.1 131.4C313.2 131.9 313.3 132.6 313.1 132.9C313.0 133.2 312.6 133.4 312.3 133.2C312.0 133.1 311.5 132.5 311.4 132.1C311.2 131.6 311.2 130.9 311.3 130.6C311.4 130.3 311.8 130.1 312.1 130.2C312.4 130.4 312.9 131.0 313.1 131.4Z" stroke="#2a2a2a" stroke-width="0.65" fill="none" />
<path d="M309.7 117.6C310.0 117.9 310.3 118.6 310.3 118.9C310.3 119.3 309.9 119.6 309.6 119.6C309.3 119.5 308.6 119.2 308.3 118.8C308.0 118.5 307.7 117.8 307.7 117.4C307.7 117.1 308.0 116.8 308.4 116.8C308.7 116.8 309.3 117.2 309.7 117.6Z" stroke="#2a2a2a" stroke-width="0.65" fill="none" />
<path d="M308.8 131.8C309.1 132.1 309.5 132.8 309.5 133.1C309.5 133.4 309.2 133.8 308.9 133.8C308.6 133.8 307.9 133.5 307.5 133.2C307.2 132.9 306.8 132.2 306.8 131.9C306.8 131.5 307.1 131.2 307.4 131.2C307.7 131.2 308.4 131.5 308.8 131.8Z" stroke="#2a2a2a" stroke-width="0.65" fill="none" />
<path d="M308.6 115.8C309.0 116.1 309.4 116.8 309.4 117.1C309.4 117.4 309.1 117.8 308.8 117.8C308.5 117.8 307.8 117.5 307.4 117.2C307.1 116.9 306.7 116.2 306.7 115.9C306.7 115.6 307.0 115.2 307.3 115.2C307.6 115.2 308.3 115.5 308.6 115.8Z" stroke="#2a2a2a" stroke-width="0.65" fill="none" />
<path d="M310.5 128.2C310.2 128.6 309.5 129.0 309.2 129.0C308.9 129.1 308.5 128.8 308.5 128.5C308.5 128.1 308.8 127.4 309.0 127.1C309.3 126.7 310.0 126.3 310.3 126.2C310.6 126.2 311.0 126.5 311.0 126.8C311.0 127.1 310.8 127.8 310.5 128.2Z" stroke="#2a2a2a" stroke-width="0.65" fill="none" />
<path d="M310.9 128.4C311.3 128.7 311.7 129.2 311.8 129.6C311.9 129.9 311.6 130.3 311.3 130.3C311.0 130.4 310.3 130.2 309.9 129.9C309.5 129.7 309.0 129.1 308.9 128.8C308.9 128.4 309.1 128.1 309.4 128.0C309.8 127.9 310.5 128.1 310.9 128.4Z" stroke="#2a2a2a" stroke-width="0.65" fill="none" />
<path d="M308.9 131.4C309.3 131.7 309.7 132.4 309.7 132.7C309.7 133.0 309.4 133.4 309.1 133.4C308.8 133.4 308.1 133.1 307.7 132.8C307.4 132.5 307.0 131.8 307.0 131.5C306.9 131.2 307.2 130.8 307.6 130.8C307.9 130.8 308.6 131.1 308.9 131.4Z" stroke="#2a2a2a" stroke-width="0.65" fill="none" />
<path d="M309.1 121.9C309.3 122.3 309.4 123.1 309.3 123.4C309.2 123.7 308.8 123.9 308.5 123.8C308.2 123.7 307.7 123.1 307.4 122.7C307.2 122.3 307.1 121.5 307.2 121.2C307.3 120.9 307.7 120.7 308.0 120.8C308.3 120.9 308.9 121.5 309.1 121.9Z" stroke="#2a2a2a" stroke-width="0.65" fill="none" />
<path d="M310.7 112.9C310.9 113.3 311.1 114.1 311.0 114.4C310.9 114.7 310.5 114.9 310.2 114.8C309.9 114.8 309.3 114.3 309.1 113.8C308.9 113.4 308.7 112.7 308.8 112.4C308.8 112.1 309.2 111.8 309.6 111.9C309.9 112.0 310.4 112.5 310.7 112.9Z" stroke="#2a2a2a" stroke-width="0.65" fill="none" />
<rect x="312.5" y="64.3" width="28.0" height="24.3" fill="none" stroke="#5a5a5a" stroke-width="1.4"/>
<rect x="268.6" y="133.6" width="63.3" height="2.6" fill="#0a0a0a"/>
</g></g>
<path d="M268.7 65.3L268.7 136.0" stroke="#1a1a1a" stroke-width="1.1" stroke-dasharray="1.3 0.8" fill="none"/>
<path d="M268.4 135.8L339.0 135.8" stroke="#1a1a1a" stroke-width="1.1" stroke-dasharray="1.1 0.9" fill="none"/>
<path d="M267.1 66.7L268.4 66.7M267.1 83.2L268.4 83.2M267.1 101.8L268.4 101.8M267.1 119.7L268.4 119.7M267.1 128.3L268.4 128.3M276.9 136.0L276.9 137.3M283.8 136.0L283.8 137.3M304.2 136.0L304.2 137.3M321.0 136.0L321.0 137.3M338.3 136.0L338.3 137.3" stroke="#333" stroke-width="0.6" fill="none"/>
<text x="259.9" y="68.0" font-size="3.2" fill="#333">10<tspan dy="-1.2" font-size="2.5">5</tspan></text>
<text x="259.9" y="84.4" font-size="3.2" fill="#333">10<tspan dy="-1.2" font-size="2.5">4</tspan></text>
<text x="259.9" y="103.1" font-size="3.2" fill="#333">10<tspan dy="-1.2" font-size="2.5">3</tspan></text>
<text x="259.9" y="121.0" font-size="3.2" fill="#333">10<tspan dy="-1.2" font-size="2.5">2</tspan></text>
<text x="263.5" y="129.6" font-size="3.2" fill="#333">0</text>
<text x="281.3" y="143.1" font-size="3.2" fill="#333">10<tspan dy="-1.2" font-size="2.5">2</tspan></text>
<text x="301.6" y="143.1" font-size="3.2" fill="#333">10<tspan dy="-1.2" font-size="2.5">3</tspan></text>
<text x="318.5" y="143.1" font-size="3.2" fill="#333">10<tspan dy="-1.2" font-size="2.5">4</tspan></text>
<text x="335.7" y="143.1" font-size="3.2" fill="#333">10<tspan dy="-1.2" font-size="2.5">5</tspan></text>
<text x="275.8" y="143.1" font-size="3.2" fill="#333">0</text>
<text x="273.5" y="70.2" font-size="9.3" textLength="25.7" lengthAdjust="spacingAndGlyphs">0.59%</text>
<rect x="369.6" y="59.4" width="77.4" height="76.6" fill="#fff" stroke="#8a8a8a" stroke-width="0.8"/>
<clipPath id="cp4"><rect x="369.6" y="59.4" width="77.4" height="76.6"/></clipPath><g clip-path="url(#cp4)"><g filter="url(#soft)">
<path d="M379.4 73.6h0.75M379.2 93.6h0.75M377.5 77.1h0.75M384.7 74.9h0.75M380.0 78.3h0.75M388.4 83.9h0.75M377.1 84.8h0.75M382.4 90.6h0.75M377.9 90.0h0.75M379.8 96.0h0.75M382.8 92.9h0.75M383.1 92.0h0.75M379.1 76.0h0.75M378.5 81.2h0.75M370.8 94.1h0.75M382.1 85.7h0.75M386.0 73.6h0.75M373.3 92.6h0.75M371.4 97.1h0.75M389.4 83.6h0.75M378.1 84.3h0.75M387.5 85.2h0.75M387.0 86.7h0.75M386.9 86.1h0.75M383.3 83.9h0.75M383.0 88.0h0.75M372.8 88.2h0.75M391.0 78.7h0.75M387.6 79.1h0.75M386.2 79.9h0.75M383.6 94.3h0.75M371.2 96.2h0.75M382.0 78.8h0.75M377.3 87.9h0.75M386.8 76.9h0.75M372.1 78.4h0.75M384.5 83.4h0.75M378.6 88.9h0.75M373.7 89.5h0.75M384.8 78.6h0.75M385.2 75.7h0.75M375.2 93.1h0.75M384.0 82.7h0.75M385.5 78.0h0.75M374.7 78.8h0.75M381.3 75.9h0.75M375.7 93.1h0.75M370.9 89.5h0.75M379.5 92.4h0.75M376.2 85.6h0.75M375.2 72.1h0.75M389.5 82.4h0.75M378.7 87.5h0.75M373.6 83.7h0.75M375.6 73.2h0.75M373.4 90.7h0.75M382.5 82.4h0.75M386.2 78.1h0.75M383.9 83.9h0.75M373.6 94.3h0.75M374.6 95.1h0.75M387.3 84.4h0.75M380.5 77.6h0.75M373.6 92.0h0.75M378.7 88.1h0.75M378.6 79.4h0.75M374.1 93.9h0.75M380.0 76.1h0.75M389.7 76.2h0.75M375.6 76.2h0.75M382.8 94.4h0.75M371.2 98.7h0.75M379.8 84.4h0.75M372.6 79.3h0.75M389.7 80.0h0.75M390.8 75.8h0.75M379.8 96.0h0.75M377.4 78.8h0.75M371.0 87.3h0.75M382.6 77.8h0.75M376.2 90.2h0.75M374.3 94.6h0.75M389.7 83.9h0.75M373.4 88.3h0.75M377.0 74.7h0.75M386.1 88.0h0.75M376.5 78.9h0.75M378.3 88.8h0.75M375.4 85.3h0.75M383.3 80.6h0.75M383.8 87.5h0.75M371.5 75.1h0.75M379.6 76.0h0.75M382.5 89.0h0.75M383.9 94.2h0.75M373.1 97.2h0.75M380.1 76.3h0.75M381.1 92.5h0.75M378.7 72.2h0.75M379.9 87.5h0.75M387.5 78.5h0.75M371.1 92.8h0.75M374.7 96.6h0.75M383.0 75.6h0.75M382.0 94.2h0.75M371.8 76.0h0.75M383.6 91.4h0.75M374.9 73.0h0.75M382.3 81.9h0.75M379.2 83.2h0.75M389.9 80.0h0.75M385.7 88.2h0.75M376.1 80.4h0.75M374.8 92.2h0.75M385.8 82.3h0.75M373.1 89.1h0.75M377.9 87.8h0.75M371.5 95.6h0.75M389.6 74.2h0.75M375.4 84.1h0.75M388.8 80.7h0.75M391.6 74.3h0.75M390.4 73.3h0.75M390.4 79.7h0.75M375.2 83.1h0.75M387.5 88.4h0.75M380.4 76.5h0.75M376.6 97.2h0.75M376.3 97.9h0.75M373.1 95.9h0.75M380.2 82.4h0.75M385.5 80.0h0.75M372.9 77.0h0.75M376.3 77.3h0.75M383.1 80.9h0.75M375.3 97.3h0.75M370.7 87.8h0.75M371.2 88.0h0.75M371.1 85.4h0.75M384.1 87.4h0.75M375.3 96.2h0.75M378.6 87.5h0.75M379.6 94.7h0.75M374.2 78.3h0.75M380.4 87.6h0.75M370.6 83.0h0.75M389.8 74.5h0.75M381.9 89.2h0.75M389.0 81.2h0.75M378.0 90.7h0.75M385.4 82.9h0.75M386.3 81.9h0.75M375.6 74.6h0.75M382.7 76.6h0.75M376.7 80.4h0.75M378.7 83.8h0.75M382.6 83.4h0.75M382.6 95.5h0.75M382.0 86.6h0.75M378.2 77.1h0.75M375.2 74.3h0.75M376.8 72.8h0.75M379.7 88.4h0.75M373.0 93.8h0.75M380.5 89.9h0.75M380.0 94.9h0.75M385.5 75.2h0.75M382.6 79.4h0.75M387.0 82.5h0.75M375.4 72.6h0.75M371.6 83.7h0.75M380.0 91.5h0.75M377.5 74.1h0.75M376.4 89.8h0.75M390.2 74.6h0.75M376.4 97.7h0.75M383.4 83.3h0.75M372.1 73.3h0.75M375.3 89.7h0.75M371.8 86.4h0.75M376.8 83.7h0.75M383.9 93.2h0.75M385.5 84.3h0.75M378.0 90.0h0.75M382.2 88.8h0.75M385.2 85.8h0.75M381.4 91.1h0.75M377.2 86.1h0.75M382.7 80.5h0.75M374.4 83.8h0.75M379.9 84.3h0.75M376.2 85.7h0.75M383.1 74.6h0.75M385.0 92.4h0.75M374.8 78.9h0.75M371.4 85.4h0.75M385.4 83.7h0.75M383.5 89.3h0.75M371.5 73.2h0.75M386.1 84.7h0.75M376.2 75.5h0.75M379.2 74.1h0.75M376.6 92.3h0.75M387.5 83.4h0.75M390.0 83.0h0.75M371.0 77.6h0.75M372.4 80.0h0.75M379.2 85.7h0.75M371.1 98.6h0.75M382.2 79.4h0.75M371.2 88.4h0.75M385.2 73.3h0.75M377.4 88.7h0.75M379.7 78.0h0.75M372.0 97.0h0.75M385.2 80.4h0.75M373.7 90.0h0.75M375.6 98.1h0.75M378.9 86.5h0.75M377.6 81.9h0.75M381.3 91.0h0.75M376.8 82.2h0.75M385.7 76.4h0.75M376.2 77.3h0.75M372.9 98.2h0.75M381.6 93.5h0.75M385.6 84.6h0.75M382.0 75.4h0.75M375.8 81.7h0.75M378.4 90.9h0.75M375.8 78.6h0.75M374.8 85.9h0.75M375.5 85.8h0.75M375.9 93.3h0.75M385.2 84.7h0.75M383.1 87.1h0.75M378.1 74.1h0.75M380.1 94.2h0.75M371.4 99.2h0.75M380.5 94.4h0.75M386.7 74.5h0.75M383.4 74.3h0.75M386.6 81.6h0.75M378.8 79.6h0.75M377.1 93.3h0.75M374.6 95.1h0.75M383.8 94.1h0.75M385.8 85.2h0.75M383.5 88.2h0.75M376.8 80.6h0.75M381.6 83.2h0.75M386.0 90.6h0.75M379.0 79.8h0.75M371.5 94.5h0.75M379.9 83.2h0.75M371.7 86.1h0.75M390.3 79.8h0.75M385.0 89.1h0.75M376.0 91.4h0.75M381.9 82.0h0.75M378.0 90.7h0.75M373.9 77.2h0.75M388.2 77.9h0.75M380.9 78.6h0.75M379.2 82.9h0.75M375.2 77.8h0.75M385.7 80.8h0.75M372.8 82.9h0.75M379.0 83.4h0.75M380.6 83.3h0.75M375.5 76.1h0.75M380.9 90.4h0.75M372.8 85.6h0.75M374.3 89.3h0.75M378.1 91.1h0.75M387.7 83.5h0.75M378.9 74.0h0.75M375.2 89.8h0.75M388.3 75.7h0.75M378.6 87.4h0.75M385.3 81.3h0.75M378.6 92.8h0.75M381.2 84.4h0.75M382.9 75.0h0.75M380.9 80.3h0.75M374.2 87.0h0.75M386.0 87.0h0.75M381.5 91.2h0.75M375.2 71.9h0.75M383.0 92.0h0.75M378.9 83.3h0.75M378.1 78.8h0.75M376.7 88.2h0.75M380.6 75.5h0.75M386.7 87.2h0.75M390.4 79.3h0.75M372.9 95.3h0.75M372.9 91.8h0.75M374.4 92.3h0.75M371.7 74.2h0.75M387.8 78.3h0.75M386.1 82.9h0.75M380.7 80.8h0.75M375.5 80.5h0.75M376.5 77.2h0.75M389.7 82.7h0.75M382.9 95.4h0.75M385.4 76.2h0.75M389.0 81.3h0.75M371.2 82.7h0.75M385.9 87.6h0.75M370.6 95.0h0.75M372.5 86.3h0.75M380.2 73.7h0.75M375.4 78.8h0.75M387.5 87.1h0.75M370.9 80.6h0.75M391.3 79.7h0.75M376.9 84.8h0.75M379.0 91.1h0.75M371.1 73.5h0.75M378.7 90.2h0.75M373.6 72.9h0.75M389.3 77.1h0.75M371.7 74.2h0.75M372.3 80.0h0.75M383.3 90.9h0.75M376.8 86.7h0.75M377.8 88.6h0.75M372.9 89.9h0.75M370.5 98.6h0.75M375.1 87.9h0.75M374.7 84.7h0.75M376.3 90.4h0.75M382.6 81.9h0.75M376.9 86.5h0.75M391.9 73.3h0.75M387.0 81.1h0.75M383.7 79.4h0.75M386.3 86.2h0.75M377.3 84.8h0.75M370.6 74.5h0.75M390.5 74.1h0.75M379.3 91.2h0.75M371.3 98.9h0.75M380.1 88.8h0.75M383.8 74.3h0.75M381.7 93.6h0.75M385.5 75.4h0.75M379.5 86.5h0.75M371.4 94.1h0.75M372.8 88.2h0.75M376.4 76.4h0.75M386.6 89.4h0.75M371.9 82.7h0.75M375.3 89.1h0.75M375.6 79.5h0.75M380.0 82.6h0.75M386.7 76.0h0.75M386.4 78.3h0.75M388.3 73.8h0.75M371.1 76.3h0.75M376.9 95.1h0.75M383.3 78.9h0.75M385.7 83.8h0.75M373.6 96.5h0.75M386.3 78.8h0.75M379.9 91.6h0.75M378.7 79.2h0.75M372.6 79.0h0.75M384.6 75.7h0.75M375.1 75.6h0.75M372.2 98.0h0.75M373.4 98.0h0.75M381.8 86.7h0.75M374.5 85.9h0.75M387.2 87.9h0.75M390.4 75.6h0.75M386.7 89.2h0.75M389.9 81.5h0.75M380.7 95.4h0.75M376.1 82.5h0.75M381.3 72.1h0.75M387.3 83.8h0.75M375.7 82.9h0.75M373.5 96.2h0.75M385.4 76.4h0.75M370.5 81.7h0.75M373.8 76.6h0.75M376.6 89.8h0.75M372.0 97.0h0.75M380.0 76.7h0.75M372.7 87.0h0.75M378.2 86.3h0.75M372.9 82.0h0.75M381.6 74.1h0.75M383.5 75.4h0.75M384.4 74.1h0.75M373.6 71.9h0.75M382.2 76.8h0.75M376.7 75.2h0.75M390.2 75.9h0.75M380.4 88.7h0.75M377.9 95.6h0.75M385.6 73.9h0.75M386.0 75.8h0.75M381.1 77.0h0.75M381.2 90.8h0.75M386.7 81.2h0.75M371.7 84.8h0.75M384.2 94.0h0.75M388.3 75.8h0.75M376.3 92.4h0.75M387.6 81.3h0.75M374.3 90.9h0.75M373.0 86.1h0.75M376.6 83.4h0.75M384.9 90.2h0.75M384.1 73.4h0.75M371.4 72.4h0.75" stroke="#1a1a1a" stroke-width="0.75" fill="none"/>
<path d="M401.0 71.4h0.65M402.2 76.0h0.65M409.2 70.8h0.65M397.0 71.3h0.65M408.9 71.7h0.65M412.1 72.8h0.65M396.8 72.9h0.65M395.6 76.3h0.65M393.0 72.9h0.65M400.9 70.1h0.65M411.4 72.9h0.65M405.0 73.6h0.65M408.3 74.2h0.65M413.9 71.1h0.65M402.3 76.0h0.65M398.8 72.7h0.65M397.9 76.0h0.65M399.1 74.7h0.65M406.5 73.9h0.65M396.8 73.6h0.65M393.5 72.0h0.65M397.8 76.0h0.65M396.5 75.4h0.65M396.8 72.3h0.65M413.9 70.7h0.65M405.3 71.8h0.65M409.2 70.3h0.65M407.4 71.7h0.65M413.6 72.2h0.65M407.3 70.0h0.65M413.2 74.5h0.65M393.9 75.3h0.65M400.9 71.3h0.65M412.1 74.7h0.65M400.2 70.3h0.65M406.8 70.3h0.65M397.8 70.2h0.65M396.3 75.3h0.65M398.7 75.7h0.65M408.7 74.5h0.65M405.8 70.8h0.65M404.2 71.2h0.65M394.4 71.7h0.65M413.9 72.1h0.65M398.7 73.7h0.65M393.3 75.6h0.65M409.7 72.1h0.65M393.2 76.4h0.65M406.6 70.1h0.65M396.6 76.3h0.65M405.7 74.5h0.65M393.1 71.4h0.65M410.0 69.9h0.65M396.8 70.3h0.65M405.4 70.8h0.65M409.8 73.1h0.65M413.9 71.2h0.65M400.5 75.6h0.65M399.9 74.4h0.65M398.2 75.1h0.65" stroke="#333" stroke-width="0.65" fill="none"/>
<path d="M382.5 68.0h0.6M401.0 70.5h0.6M376.4 66.4h0.6M379.5 70.2h0.6M398.9 69.8h0.6M404.6 66.7h0.6M391.5 65.3h0.6M385.4 69.1h0.6M381.5 70.3h0.6M379.5 68.1h0.6M399.4 66.7h0.6M398.5 67.8h0.6M372.6 65.9h0.6M398.0 70.5h0.6M399.2 70.8h0.6M398.6 70.2h0.6M405.9 69.1h0.6M392.9 66.3h0.6M380.5 65.8h0.6M375.2 67.8h0.6M382.8 68.9h0.6M405.5 67.0h0.6M408.2 70.6h0.6M378.6 69.0h0.6M378.8 65.7h0.6" stroke="#444" stroke-width="0.6" fill="none"/>
<path d="M437.4 98.7h0.65M442.3 127.1h0.65M442.8 93.1h0.65M435.8 126.8h0.65M438.7 104.8h0.65M441.4 112.7h0.65M438.3 96.4h0.65M436.6 120.5h0.65M443.1 91.6h0.65M437.5 112.5h0.65M437.8 110.9h0.65M439.8 101.3h0.65M436.6 107.9h0.65M442.3 95.9h0.65M440.1 124.8h0.65M440.3 104.8h0.65M443.3 123.5h0.65M443.9 102.8h0.65M439.6 109.3h0.65M442.6 116.6h0.65M440.2 112.0h0.65M443.0 105.1h0.65M436.7 97.5h0.65M437.6 94.0h0.65M443.7 113.8h0.65M442.2 109.4h0.65M439.9 99.6h0.65M443.0 108.0h0.65M439.0 121.8h0.65M442.8 132.8h0.65M439.6 108.1h0.65M442.4 108.2h0.65M437.3 110.5h0.65M438.2 101.0h0.65M442.0 104.9h0.65M440.8 102.9h0.65M436.6 123.5h0.65M442.0 120.2h0.65M440.7 97.4h0.65M439.8 125.7h0.65M442.1 115.3h0.65M440.8 97.3h0.65M436.1 126.3h0.65M438.9 120.0h0.65M441.4 127.2h0.65" stroke="#333" stroke-width="0.65" fill="none"/>
<path d="M440.1 66.3h0.7M421.4 65.7h0.7M423.6 65.7h0.7M441.0 67.6h0.7M428.0 65.5h0.7M439.6 66.2h0.7M435.7 66.1h0.7M422.0 65.8h0.7M429.3 66.4h0.7M430.3 68.1h0.7M420.8 65.8h0.7M428.7 66.9h0.7M426.8 66.7h0.7M419.1 65.7h0.7M434.5 67.8h0.7M433.5 67.8h0.7M428.7 66.0h0.7M439.7 67.4h0.7M427.1 66.3h0.7M424.9 69.2h0.7M425.7 68.5h0.7M418.0 67.7h0.7M422.0 66.2h0.7M422.9 66.8h0.7M432.2 66.9h0.7M438.2 65.9h0.7M438.1 67.0h0.7M436.3 66.8h0.7M421.6 68.8h0.7M432.1 68.2h0.7M428.9 68.1h0.7M440.9 68.2h0.7M441.2 66.7h0.7M422.7 68.8h0.7M437.5 68.8h0.7M426.5 66.9h0.7M440.6 66.1h0.7M419.1 65.9h0.7M422.9 66.9h0.7M425.1 67.1h0.7M415.5 66.6h0.7M428.5 65.5h0.7M427.8 68.9h0.7M432.5 69.1h0.7M438.2 67.2h0.7M415.1 65.5h0.7M430.4 68.6h0.7M423.7 65.8h0.7M435.4 67.4h0.7M427.4 65.8h0.7M429.8 67.6h0.7M434.1 68.9h0.7M416.6 68.6h0.7M423.4 66.9h0.7M424.0 68.5h0.7M426.7 65.5h0.7M427.6 65.8h0.7M415.0 65.5h0.7M425.0 67.1h0.7M414.6 65.8h0.7M439.3 67.4h0.7M441.5 67.4h0.7M440.8 68.0h0.7M425.2 65.5h0.7M418.6 68.4h0.7M432.8 66.4h0.7M419.0 67.8h0.7M440.1 66.2h0.7M442.0 67.4h0.7M420.3 66.0h0.7" stroke="#222" stroke-width="0.7" fill="none"/>
<path d="M434.6 87.9h0.7M421.6 84.7h0.7M420.0 84.5h0.7M422.2 85.5h0.7M422.5 86.7h0.7M422.5 84.8h0.7M427.1 84.3h0.7M417.7 84.0h0.7M416.5 86.7h0.7M417.6 85.8h0.7M439.2 86.5h0.7M424.2 85.4h0.7M427.3 85.1h0.7M417.7 84.3h0.7M420.0 84.5h0.7M424.9 84.0h0.7M432.2 84.5h0.7M429.5 86.8h0.7M429.1 87.1h0.7M436.4 85.7h0.7M421.8 83.7h0.7M434.2 85.3h0.7M423.8 83.9h0.7M421.0 87.8h0.7M428.5 87.6h0.7M438.1 84.7h0.7M422.2 87.7h0.7M422.4 86.4h0.7M440.4 85.7h0.7M427.3 88.1h0.7M438.5 87.9h0.7M434.5 84.6h0.7M417.6 83.6h0.7M440.1 86.1h0.7M439.0 88.1h0.7M422.5 88.1h0.7M423.4 84.4h0.7M423.4 88.3h0.7M440.5 85.2h0.7M428.7 87.4h0.7M437.0 87.8h0.7M425.7 84.6h0.7M429.5 88.0h0.7M432.1 87.7h0.7M421.4 85.9h0.7M439.9 86.2h0.7M436.8 87.4h0.7M427.7 86.8h0.7M434.1 85.6h0.7M429.7 87.4h0.7M439.0 88.2h0.7M425.8 86.7h0.7M430.5 87.6h0.7M422.5 85.8h0.7M422.9 87.3h0.7M434.6 83.6h0.7M419.2 84.2h0.7M431.6 87.2h0.7M425.2 83.9h0.7M431.4 86.5h0.7M427.4 84.8h0.7M425.3 84.6h0.7M437.2 85.3h0.7M434.7 86.1h0.7M422.3 84.9h0.7M433.6 87.6h0.7M439.9 84.3h0.7M423.0 84.0h0.7M421.2 85.4h0.7M434.8 87.9h0.7M431.5 84.2h0.7M426.0 84.2h0.7M423.5 86.3h0.7M429.3 84.3h0.7M423.5 87.8h0.7" stroke="#222" stroke-width="0.7" fill="none"/>
<path d="M440.0 78.3h0.6M438.3 73.6h0.6M440.7 69.1h0.6M440.1 83.8h0.6M440.0 69.7h0.6M437.6 75.5h0.6M440.1 79.4h0.6M438.1 79.5h0.6M441.6 76.2h0.6M438.7 79.6h0.6M441.4 79.6h0.6M441.6 81.1h0.6M441.8 72.8h0.6M440.2 72.2h0.6M437.2 74.2h0.6M441.7 73.5h0.6M438.2 83.3h0.6M441.9 80.7h0.6M438.5 81.7h0.6M436.9 69.1h0.6" stroke="#444" stroke-width="0.6" fill="none"/>
<path d="M435.9 72.5C436.2 73.8 435.8 75.6 434.8 76.9C433.8 78.2 431.9 79.6 430.1 80.3C428.3 81.0 425.7 81.3 423.9 81.1C422.1 80.9 420.1 80.0 419.2 78.9C418.2 77.9 417.8 76.2 418.1 74.8C418.5 73.4 419.7 71.7 421.2 70.7C422.7 69.6 425.1 68.7 427.0 68.4C429.0 68.2 431.3 68.5 432.8 69.2C434.3 69.8 435.6 71.2 435.9 72.5Z" stroke="#444" stroke-width="0.72" fill="none" />
<path d="M433.4 73.1C433.6 74.0 433.3 75.3 432.6 76.2C431.9 77.2 430.5 78.2 429.2 78.7C427.9 79.2 426.1 79.4 424.8 79.3C423.4 79.1 422.1 78.5 421.4 77.7C420.7 77.0 420.4 75.8 420.6 74.8C420.9 73.9 421.8 72.6 422.9 71.9C423.9 71.1 425.7 70.5 427.0 70.3C428.4 70.1 430.1 70.3 431.2 70.8C432.3 71.3 433.2 72.2 433.4 73.1Z" stroke="#444" stroke-width="0.72" fill="none" />
<path d="M430.6 73.9C430.7 74.3 430.5 75.0 430.1 75.4C429.7 75.9 428.9 76.4 428.2 76.7C427.4 77.0 426.4 77.1 425.7 77.0C425.0 77.0 424.2 76.7 423.9 76.3C423.5 76.0 423.3 75.4 423.5 74.9C423.6 74.4 424.2 73.8 424.8 73.4C425.4 73.0 426.3 72.6 427.1 72.5C427.9 72.4 428.8 72.5 429.4 72.7C430.0 72.9 430.4 73.4 430.6 73.9Z" stroke="#444" stroke-width="0.72" fill="none" />
<path d="M366.8 104.6C368.1 103.9 371.7 102.2 374.2 100.9C376.6 99.6 379.1 98.4 381.5 96.7C383.9 95.0 386.5 92.9 388.5 90.5C390.5 88.0 391.5 84.3 393.4 82.1C395.3 79.9 397.6 77.8 399.9 77.3C402.2 76.8 405.2 77.8 407.2 79.1C409.2 80.5 410.0 83.7 411.8 85.4C413.6 87.0 415.5 88.1 418.2 89.0C421.0 89.9 425.5 89.5 428.3 90.8C431.1 92.2 433.6 94.2 435.1 97.2C436.5 100.3 436.9 104.7 436.9 109.1C437.0 113.5 436.3 119.0 435.4 123.8C434.6 128.5 432.5 135.2 432.0 137.5" stroke="#4a4a4a" stroke-width="0.72" fill="none" />
<path d="M367.6 106.1C368.9 105.5 372.5 103.8 375.0 102.4C377.5 101.1 380.1 99.9 382.5 98.1C385.0 96.3 387.8 94.1 389.8 91.6C391.9 89.1 393.0 85.3 394.8 83.2C396.5 81.1 398.3 79.5 400.2 79.0C402.1 78.6 404.5 79.3 406.2 80.6C408.0 81.9 408.7 85.0 410.6 86.7C412.5 88.3 414.8 89.7 417.7 90.7C420.5 91.6 424.9 91.2 427.5 92.4C430.2 93.6 432.2 95.2 433.5 98.0C434.8 100.8 435.1 104.9 435.2 109.1C435.2 113.4 434.5 118.8 433.7 123.5C432.9 128.1 430.8 134.8 430.3 137.0" stroke="#4a4a4a" stroke-width="0.72" fill="none" />
<path d="M368.4 107.7C369.6 107.0 373.3 105.3 375.8 104.0C378.4 102.6 381.0 101.4 383.6 99.5C386.1 97.6 389.1 95.2 391.2 92.7C393.3 90.1 394.5 86.3 396.1 84.3C397.6 82.3 399.1 81.1 400.6 80.7C402.1 80.3 403.8 80.8 405.2 82.0C406.7 83.2 407.5 86.2 409.5 87.9C411.4 89.7 414.2 91.3 417.1 92.3C420.0 93.3 424.3 92.9 426.8 94.0C429.2 95.0 430.8 96.2 431.9 98.7C433.0 101.3 433.4 105.1 433.4 109.2C433.4 113.2 432.8 118.6 432.0 123.2C431.2 127.7 429.2 134.4 428.6 136.6" stroke="#4a4a4a" stroke-width="0.72" fill="none" />
<path d="M369.2 109.2C370.4 108.6 374.1 106.9 376.7 105.5C379.2 104.1 382.0 102.9 384.6 100.9C387.3 98.9 390.4 96.3 392.5 93.8C394.7 91.2 396.0 87.4 397.4 85.5C398.8 83.6 399.8 82.7 401.0 82.4C402.1 82.1 403.0 82.3 404.3 83.5C405.5 84.6 406.2 87.5 408.3 89.2C410.3 91.0 413.6 92.9 416.6 94.0C419.5 95.0 423.7 94.6 426.0 95.5C428.3 96.4 429.4 97.2 430.3 99.5C431.3 101.7 431.7 105.3 431.7 109.2C431.7 113.1 431.1 118.4 430.3 122.9C429.5 127.4 427.5 134.0 426.9 136.2" stroke="#4a4a4a" stroke-width="0.72" fill="none" />
<path d="M370.0 110.8C371.2 110.1 374.9 108.4 377.5 107.0C380.1 105.6 382.9 104.3 385.6 102.3C388.4 100.3 391.7 97.5 393.9 94.9C396.1 92.2 397.5 88.4 398.7 86.6C400.0 84.8 400.6 84.4 401.3 84.1C402.1 83.8 402.3 83.8 403.3 84.9C404.3 86.0 405.0 88.7 407.1 90.5C409.2 92.3 413.0 94.5 416.0 95.6C419.0 96.7 423.1 96.3 425.2 97.1C427.4 97.9 428.0 98.2 428.8 100.2C429.6 102.2 430.0 105.5 429.9 109.2C429.9 112.9 429.4 118.1 428.6 122.6C427.8 127.0 425.8 133.6 425.2 135.8" stroke="#4a4a4a" stroke-width="0.72" fill="none" />
<path d="M370.7 112.3C372.0 111.7 375.7 110.0 378.3 108.5C381.0 107.1 383.8 105.8 386.7 103.7C389.5 101.6 393.0 98.6 395.3 96.0C397.5 93.3 399.0 89.4 400.0 87.7C401.1 86.0 401.3 86.0 401.7 85.8C402.1 85.6 401.6 85.3 402.3 86.3C403.0 87.3 403.8 90.0 406.0 91.8C408.1 93.6 412.4 96.1 415.4 97.3C418.5 98.4 422.5 98.0 424.5 98.6C426.4 99.3 426.6 99.2 427.2 100.9C427.8 102.7 428.3 105.7 428.2 109.2C428.1 112.8 427.6 117.9 426.9 122.3C426.1 126.6 424.1 133.2 423.5 135.3" stroke="#4a4a4a" stroke-width="0.72" fill="none" />
<path d="M371.5 113.9C372.8 113.2 376.4 111.5 379.1 110.1C381.8 108.6 384.8 107.3 387.7 105.1C390.6 102.9 394.3 99.8 396.6 97.0C398.9 94.3 400.5 90.5 401.4 88.9C402.3 87.3 402.0 87.7 402.0 87.5C402.0 87.3 400.9 86.8 401.3 87.8C401.8 88.7 402.5 91.3 404.8 93.1C407.1 95.0 411.7 97.7 414.9 98.9C418.0 100.1 421.9 99.7 423.7 100.2C425.5 100.7 425.2 100.2 425.6 101.7C426.1 103.2 426.5 105.9 426.5 109.3C426.4 112.7 425.9 117.7 425.1 122.0C424.4 126.2 422.4 132.7 421.8 134.9" stroke="#4a4a4a" stroke-width="0.72" fill="none" />
<path d="M372.3 115.4C373.6 114.8 377.2 113.1 380.0 111.6C382.7 110.1 385.7 108.8 388.7 106.5C391.7 104.3 395.6 100.9 398.0 98.1C400.3 95.4 401.9 91.5 402.7 90.0C403.4 88.5 402.8 89.3 402.4 89.2C402.0 89.1 400.2 88.3 400.4 89.2C400.6 90.1 401.3 92.5 403.6 94.4C406.0 96.3 411.1 99.3 414.3 100.5C417.6 101.8 421.3 101.5 422.9 101.8C424.5 102.1 423.7 101.2 424.0 102.4C424.3 103.7 424.8 106.1 424.7 109.3C424.6 112.5 424.2 117.5 423.4 121.7C422.7 125.9 420.7 132.3 420.1 134.5" stroke="#4a4a4a" stroke-width="0.72" fill="none" />
<path d="M401.7 89.0C401.7 89.4 401.4 89.9 401.0 90.2C400.6 90.4 399.9 90.5 399.5 90.4C399.0 90.4 398.4 90.0 398.2 89.7C398.0 89.3 398.0 88.7 398.2 88.4C398.4 88.0 399.0 87.7 399.5 87.6C399.9 87.5 400.6 87.6 401.0 87.9C401.4 88.1 401.7 88.6 401.7 89.0Z" stroke="#555" stroke-width="0.65" fill="none" />
<path d="M395.3 85.4C395.3 83.6 397.5 81.9 398.9 81.3C400.4 80.8 402.4 81.2 403.9 82.1C405.4 83.0 407.9 85.3 408.1 86.8C408.4 88.3 406.9 90.4 405.4 91.2C403.8 92.1 400.6 92.9 398.9 91.9C397.3 91.0 395.3 87.1 395.3 85.4Z" stroke="#555" stroke-width="0.65" fill="none" />
<path d="M397.1 109.1C396.6 102.4 394.8 98.8 395.3 94.5C395.7 90.2 397.9 85.4 399.9 83.5C401.9 81.7 405.1 82.5 407.2 83.5C409.3 84.6 409.2 88.3 412.7 89.9C416.2 91.6 424.7 91.9 428.3 93.6C431.9 95.3 433.2 96.8 434.3 100.0C435.5 103.2 435.5 108.2 435.4 112.8C435.4 117.4 434.5 123.8 433.8 127.4C433.1 131.1 436.9 133.5 431.0 134.7C425.1 135.9 404.1 139.0 398.4 134.7C392.7 130.5 397.6 115.8 397.1 109.1Z" stroke="#aaa" stroke-width="0.1" fill="#b5b5b5" opacity="0.35"/>
<path d="M405.5 105.8C405.6 106.7 405.1 107.7 404.7 108.3C404.3 108.9 403.6 109.3 403.1 109.3C402.5 109.3 401.8 109.0 401.4 108.5C401.0 108.0 400.8 107.1 400.8 106.3C400.7 105.6 400.5 104.7 400.8 104.0C401.1 103.3 401.7 102.4 402.3 102.2C402.9 102.1 404.0 102.5 404.5 103.1C405.0 103.7 405.5 105.0 405.5 105.8Z" stroke="#505050" stroke-width="0.65" fill="none" />
<path d="M431.7 95.7C432.2 96.3 432.6 97.0 432.6 97.7C432.5 98.3 432.1 98.9 431.6 99.4C431.1 99.9 430.4 100.7 429.7 100.7C429.0 100.7 427.9 100.0 427.3 99.3C426.8 98.6 426.0 97.4 426.1 96.7C426.2 96.0 427.5 95.6 428.1 95.2C428.7 94.7 429.4 93.8 430.0 93.9C430.6 94.0 431.3 95.1 431.7 95.7Z" stroke="#505050" stroke-width="0.65" fill="none" />
<path d="M426.9 101.2C426.5 101.8 425.9 102.5 425.3 102.8C424.8 103.2 423.8 103.7 423.4 103.5C423.1 103.3 423.2 102.2 423.3 101.4C423.3 100.7 423.5 99.8 423.9 99.2C424.3 98.6 425.1 98.0 425.7 97.8C426.2 97.5 426.8 97.6 427.2 97.8C427.6 97.9 428.2 98.4 428.1 98.9C428.1 99.5 427.4 100.6 426.9 101.2Z" stroke="#505050" stroke-width="0.65" fill="none" />
<path d="M418.9 123.9C419.3 124.2 419.4 124.9 419.5 125.4C419.5 125.8 419.5 126.3 419.3 126.7C419.1 127.1 418.6 127.7 418.1 127.7C417.6 127.7 416.8 127.2 416.4 126.8C416.0 126.4 415.6 125.8 415.5 125.3C415.4 124.8 415.6 124.1 415.9 123.8C416.2 123.5 416.9 123.5 417.4 123.6C417.9 123.6 418.6 123.6 418.9 123.9Z" stroke="#505050" stroke-width="0.65" fill="none" />
<path d="M423.9 129.4C424.1 130.2 424.5 131.1 424.4 131.8C424.3 132.5 423.8 133.5 423.3 133.5C422.8 133.6 422.0 132.8 421.5 132.3C421.1 131.8 420.7 131.2 420.4 130.5C420.1 129.8 419.9 128.7 420.0 128.2C420.2 127.6 420.8 127.3 421.2 127.2C421.7 127.0 422.4 126.9 422.8 127.3C423.2 127.6 423.6 128.6 423.9 129.4Z" stroke="#505050" stroke-width="0.65" fill="none" />
<path d="M434.0 92.7C434.4 93.0 434.8 93.7 434.6 94.3C434.4 94.8 433.4 95.6 432.8 96.0C432.2 96.5 431.4 96.9 430.8 96.9C430.2 97.0 429.5 96.9 429.2 96.5C428.8 96.1 428.6 95.4 428.8 94.8C429.0 94.2 429.7 93.2 430.2 92.8C430.8 92.4 431.8 92.4 432.4 92.4C433.0 92.4 433.7 92.4 434.0 92.7Z" stroke="#505050" stroke-width="0.65" fill="none" />
<path d="M409.2 125.5C409.6 126.2 409.3 127.4 409.2 128.2C409.0 128.9 408.7 129.7 408.2 130.1C407.7 130.6 406.8 130.8 406.1 130.8C405.4 130.8 404.4 130.5 403.9 130.0C403.4 129.5 403.0 128.5 403.0 127.7C403.0 126.9 403.4 125.8 404.0 125.2C404.6 124.6 405.7 123.9 406.6 124.0C407.5 124.0 408.8 124.8 409.2 125.5Z" stroke="#505050" stroke-width="0.65" fill="none" />
<path d="M416.2 114.2C416.5 114.6 416.6 115.2 416.5 115.7C416.3 116.3 415.9 117.1 415.3 117.5C414.7 117.9 413.6 118.1 413.0 117.9C412.3 117.8 411.6 117.2 411.4 116.7C411.2 116.1 411.4 115.3 411.7 114.8C412.0 114.2 412.6 113.5 413.2 113.3C413.7 113.0 414.6 113.0 415.1 113.2C415.6 113.3 416.0 113.8 416.2 114.2Z" stroke="#505050" stroke-width="0.65" fill="none" />
<path d="M411.7 131.2C411.6 131.7 411.0 132.3 410.4 132.7C409.8 133.0 408.9 133.3 408.2 133.2C407.4 133.2 406.6 132.9 405.9 132.4C405.3 132.0 404.5 131.3 404.5 130.7C404.4 130.1 405.1 129.2 405.8 128.9C406.4 128.6 407.7 128.7 408.5 128.8C409.3 128.9 410.2 129.1 410.8 129.5C411.3 129.9 411.7 130.7 411.7 131.2Z" stroke="#505050" stroke-width="0.65" fill="none" />
<path d="M408.9 127.5C409.4 127.8 409.9 128.5 410.0 129.0C410.1 129.5 409.7 130.1 409.4 130.4C409.1 130.8 408.7 131.1 408.2 131.2C407.7 131.4 407.0 131.4 406.5 131.1C406.0 130.8 405.5 130.1 405.4 129.6C405.3 129.0 405.5 128.3 405.8 128.0C406.1 127.6 406.7 127.5 407.2 127.4C407.7 127.3 408.4 127.3 408.9 127.5Z" stroke="#505050" stroke-width="0.65" fill="none" />
<path d="M412.7 105.5C413.1 106.1 413.5 107.1 413.4 107.6C413.3 108.1 412.5 108.3 412.1 108.5C411.6 108.8 411.2 109.2 410.7 109.1C410.2 108.9 409.4 108.4 409.0 107.8C408.6 107.2 408.2 106.2 408.2 105.6C408.3 105.0 408.8 104.4 409.3 104.1C409.8 103.8 410.6 103.6 411.1 103.8C411.7 104.1 412.3 104.9 412.7 105.5Z" stroke="#505050" stroke-width="0.65" fill="none" />
<path d="M426.0 101.9C426.0 102.5 424.5 103.1 423.8 103.7C423.0 104.4 422.4 105.6 421.5 105.6C420.7 105.7 419.6 104.7 418.9 104.1C418.2 103.6 417.6 102.9 417.5 102.1C417.4 101.3 417.6 100.1 418.3 99.6C418.9 99.1 420.4 99.3 421.4 99.3C422.3 99.3 423.4 99.3 424.2 99.7C424.9 100.1 426.1 101.2 426.0 101.9Z" stroke="#505050" stroke-width="0.65" fill="none" />
<path d="M404.9 94.4C405.0 94.9 405.6 95.6 405.0 96.0C404.5 96.4 402.7 96.7 401.5 96.9C400.4 97.0 398.7 97.2 398.1 97.0C397.4 96.8 397.4 96.0 397.4 95.5C397.4 95.0 397.5 94.4 398.1 94.0C398.7 93.7 400.0 93.4 401.0 93.2C402.0 93.1 403.5 92.9 404.2 93.1C404.8 93.3 404.7 93.9 404.9 94.4Z" stroke="#505050" stroke-width="0.65" fill="none" />
<path d="M424.5 117.2C424.1 117.4 423.6 117.6 423.1 117.5C422.5 117.4 421.6 117.1 421.0 116.5C420.5 115.9 419.8 114.7 419.7 114.0C419.6 113.3 420.0 112.3 420.5 112.1C421.0 111.9 421.9 112.3 422.6 112.6C423.3 112.8 424.3 113.0 424.8 113.5C425.3 114.1 425.5 115.4 425.4 116.0C425.4 116.6 424.9 116.9 424.5 117.2Z" stroke="#505050" stroke-width="0.65" fill="none" />
<path d="M418.6 110.3C418.3 110.7 417.7 111.4 417.3 111.3C416.9 111.2 416.4 110.3 416.1 109.8C415.8 109.3 415.3 108.6 415.5 108.3C415.6 107.9 416.4 107.8 416.9 107.7C417.3 107.6 418.0 107.3 418.4 107.5C418.7 107.7 418.9 108.6 419.0 109.0C419.0 109.5 418.9 109.9 418.6 110.3Z" stroke="#333" stroke-width="0.78" fill="none" />
<path d="M430.3 108.2C430.7 108.4 431.0 109.4 430.9 109.8C430.8 110.1 430.1 110.3 429.7 110.5C429.4 110.6 428.9 111.0 428.6 110.9C428.3 110.8 428.1 110.2 427.9 109.7C427.6 109.3 427.0 108.4 427.2 108.1C427.3 107.8 428.3 108.1 428.8 108.1C429.4 108.1 430.0 107.9 430.3 108.2Z" stroke="#333" stroke-width="0.78" fill="none" />
<path d="M420.4 107.4C420.3 107.8 419.9 108.2 419.6 108.4C419.3 108.6 419.0 108.6 418.8 108.5C418.5 108.4 418.2 108.0 418.2 107.7C418.1 107.4 418.4 106.8 418.5 106.5C418.7 106.2 418.9 105.9 419.2 105.8C419.4 105.7 419.9 105.7 420.1 105.9C420.3 106.2 420.5 106.9 420.4 107.4Z" stroke="#333" stroke-width="0.78" fill="none" />
<path d="M413.7 111.2C413.7 111.5 413.3 111.7 413.0 111.8C412.8 112.0 412.4 112.0 412.2 111.9C412.0 111.8 411.7 111.6 411.6 111.4C411.5 111.2 411.4 110.9 411.5 110.7C411.6 110.5 411.9 110.3 412.2 110.3C412.5 110.2 413.1 110.1 413.3 110.3C413.6 110.5 413.8 110.9 413.7 111.2Z" stroke="#333" stroke-width="0.78" fill="none" />
<path d="M410.0 101.3C410.2 101.4 410.3 102.2 410.1 102.7C409.9 103.2 409.1 103.9 408.7 104.3C408.3 104.7 407.9 105.0 407.6 105.0C407.3 105.1 406.9 105.0 406.8 104.7C406.8 104.4 407.2 103.8 407.4 103.3C407.7 102.8 408.1 102.0 408.5 101.7C409.0 101.4 409.7 101.1 410.0 101.3Z" stroke="#333" stroke-width="0.78" fill="none" />
<path d="M426.9 111.2C426.5 111.5 426.0 112.1 425.7 112.0C425.3 111.9 425.1 111.3 424.9 110.9C424.6 110.5 424.0 109.9 424.2 109.5C424.3 109.1 425.1 108.5 425.6 108.4C426.1 108.4 426.6 108.7 427.0 109.0C427.4 109.3 427.9 109.8 427.9 110.2C427.9 110.5 427.2 110.9 426.9 111.2Z" stroke="#333" stroke-width="0.78" fill="none" />
<path d="M411.9 98.2C411.9 98.5 411.4 98.8 411.0 99.0C410.6 99.1 409.9 99.1 409.5 99.1C409.1 99.1 408.7 99.0 408.5 98.8C408.2 98.7 408.0 98.4 408.1 98.2C408.2 98.0 408.8 97.8 409.3 97.6C409.8 97.5 410.6 97.4 411.1 97.5C411.5 97.6 411.9 98.0 411.9 98.2Z" stroke="#333" stroke-width="0.78" fill="none" />
<path d="M407.7 104.9C407.8 105.1 408.0 105.6 407.8 105.9C407.7 106.2 407.1 106.5 406.7 106.7C406.3 106.8 405.9 107.0 405.6 106.9C405.3 106.8 405.0 106.6 404.9 106.2C404.8 105.9 404.9 105.2 405.2 104.9C405.5 104.6 406.3 104.5 406.7 104.4C407.1 104.4 407.5 104.6 407.7 104.9Z" stroke="#333" stroke-width="0.78" fill="none" />
<path d="M412.5 96.7C412.7 96.8 412.9 97.4 412.7 97.7C412.6 98.1 412.1 98.5 411.7 98.8C411.2 99.1 410.6 99.6 410.3 99.5C410.0 99.5 409.6 99.0 409.6 98.7C409.6 98.4 410.2 97.8 410.5 97.5C410.7 97.2 411.0 97.0 411.4 96.9C411.7 96.7 412.3 96.5 412.5 96.7Z" stroke="#333" stroke-width="0.78" fill="none" />
<path d="M418.1 107.7C418.2 107.9 417.7 108.4 417.4 108.7C417.1 108.9 416.5 109.3 416.1 109.4C415.7 109.4 415.2 109.2 414.9 109.1C414.7 108.9 414.2 108.7 414.3 108.4C414.4 108.2 415.1 107.7 415.5 107.5C415.9 107.4 416.3 107.5 416.8 107.5C417.2 107.6 418.0 107.5 418.1 107.7Z" stroke="#333" stroke-width="0.78" fill="none" />
<path d="M424.7 112.9C424.5 113.3 423.8 113.5 423.2 113.5C422.6 113.6 421.6 113.8 421.1 113.5C420.6 113.1 420.2 112.2 420.2 111.7C420.1 111.2 420.4 110.7 420.8 110.5C421.2 110.3 422.0 110.4 422.6 110.5C423.2 110.7 424.2 110.8 424.6 111.2C424.9 111.6 425.0 112.5 424.7 112.9Z" stroke="#333" stroke-width="0.78" fill="none" />
<path d="M422.1 111.6C422.0 111.8 422.1 112.3 421.9 112.4C421.6 112.6 420.9 112.5 420.6 112.3C420.3 112.2 420.1 111.7 420.0 111.4C420.0 111.2 420.3 110.9 420.5 110.7C420.7 110.5 420.9 110.3 421.2 110.3C421.6 110.3 422.1 110.5 422.3 110.7C422.4 110.9 422.2 111.3 422.1 111.6Z" stroke="#333" stroke-width="0.78" fill="none" />
<path d="M413.0 110.2C412.8 110.6 412.1 110.9 411.5 110.9C410.9 111.0 410.0 111.0 409.6 110.6C409.3 110.3 409.2 109.4 409.2 108.8C409.3 108.3 409.6 107.6 410.0 107.4C410.4 107.2 411.2 107.4 411.7 107.6C412.1 107.9 412.3 108.3 412.5 108.7C412.7 109.1 413.1 109.8 413.0 110.2Z" stroke="#333" stroke-width="0.78" fill="none" />
<path d="M418.6 102.9C418.5 103.1 418.0 102.9 417.5 102.7C417.0 102.4 416.3 102.0 415.9 101.6C415.6 101.2 415.4 100.6 415.3 100.1C415.3 99.7 415.0 98.8 415.4 98.8C415.7 98.8 416.9 99.7 417.3 100.2C417.8 100.7 418.1 101.3 418.3 101.7C418.5 102.2 418.8 102.8 418.6 102.9Z" stroke="#333" stroke-width="0.78" fill="none" />
<path d="M412.0 98.6C412.2 98.9 411.8 99.5 411.6 99.8C411.3 100.2 410.8 100.8 410.3 100.9C409.9 101.0 409.1 100.8 408.8 100.5C408.6 100.2 408.7 99.7 408.8 99.3C408.9 98.9 408.9 98.2 409.2 98.0C409.6 97.9 410.2 98.2 410.7 98.3C411.1 98.4 411.9 98.3 412.0 98.6Z" stroke="#333" stroke-width="0.78" fill="none" />
<path d="M410.7 99.8C410.4 100.0 409.3 99.3 408.6 99.1C407.9 98.9 406.9 98.9 406.6 98.6C406.3 98.2 406.7 97.6 406.7 97.1C406.7 96.6 406.3 95.8 406.6 95.7C407.0 95.5 408.1 95.8 408.6 96.2C409.2 96.6 409.6 97.3 409.9 97.9C410.2 98.5 410.9 99.6 410.7 99.8Z" stroke="#333" stroke-width="0.78" fill="none" />
<path d="M427.2 110.4C427.4 110.6 427.7 110.9 427.6 111.2C427.5 111.5 426.9 112.1 426.5 112.3C426.2 112.5 425.7 112.4 425.4 112.3C425.1 112.3 424.6 112.2 424.7 111.9C424.7 111.7 425.2 111.2 425.5 110.9C425.8 110.6 426.2 110.2 426.5 110.1C426.8 110.0 427.0 110.3 427.2 110.4Z" stroke="#333" stroke-width="0.78" fill="none" />
<path d="M421.2 101.0C421.1 101.3 420.9 101.7 420.5 101.6C420.2 101.5 419.4 100.9 419.0 100.4C418.6 100.0 418.2 99.2 418.3 98.9C418.3 98.7 419.0 98.8 419.3 98.8C419.7 98.8 420.2 98.8 420.4 99.0C420.7 99.3 420.9 99.9 421.1 100.2C421.2 100.5 421.3 100.8 421.2 101.0Z" stroke="#333" stroke-width="0.78" fill="none" />
<path d="M429.1 109.3C429.3 109.4 429.6 109.7 429.6 110.0C429.6 110.2 429.2 110.7 429.0 110.8C428.7 110.9 428.4 110.8 428.1 110.7C427.9 110.6 427.4 110.5 427.4 110.3C427.3 110.1 427.7 109.8 427.9 109.6C428.1 109.4 428.2 109.0 428.4 109.0C428.6 108.9 428.9 109.1 429.1 109.3Z" stroke="#333" stroke-width="0.78" fill="none" />
<path d="M413.9 100.8C413.5 101.0 412.7 101.0 412.3 100.6C411.8 100.3 411.5 99.5 411.3 98.9C411.0 98.3 410.6 97.7 410.7 97.2C410.8 96.7 411.1 95.9 411.6 95.9C412.0 96.0 412.9 96.8 413.3 97.4C413.8 97.9 414.3 98.7 414.3 99.3C414.4 99.9 414.2 100.6 413.9 100.8Z" stroke="#333" stroke-width="0.78" fill="none" />
<path d="M414.9 103.4C415.0 103.5 415.0 103.8 415.0 104.0C415.0 104.2 415.0 104.7 414.8 104.8C414.6 105.0 414.0 105.0 413.8 104.9C413.5 104.7 413.4 104.3 413.3 104.0C413.3 103.7 413.3 103.2 413.5 103.0C413.7 102.9 414.1 102.9 414.4 103.0C414.6 103.1 414.8 103.2 414.9 103.4Z" stroke="#333" stroke-width="0.78" fill="none" />
<path d="M427.2 103.3C427.3 103.5 426.8 104.0 426.4 104.3C426.1 104.6 425.5 104.9 425.0 105.1C424.4 105.3 423.5 105.7 423.1 105.6C422.7 105.5 422.5 105.1 422.6 104.7C422.8 104.3 423.4 103.6 424.0 103.3C424.6 103.0 425.7 102.8 426.2 102.8C426.7 102.8 427.2 103.0 427.2 103.3Z" stroke="#333" stroke-width="0.78" fill="none" />
<path d="M423.7 121.6C423.3 124.0 421.9 126.9 420.1 128.7C418.3 130.5 415.5 132.0 413.1 132.4C410.6 132.7 407.7 132.1 405.4 130.9C403.2 129.6 400.6 127.5 399.6 125.1C398.6 122.8 398.9 119.4 399.4 116.7C400.0 114.0 401.0 110.6 402.8 108.9C404.7 107.1 408.0 106.4 410.5 106.2C413.0 106.0 416.0 106.5 418.0 107.8C420.0 109.1 421.4 111.7 422.4 114.0C423.3 116.3 424.1 119.1 423.7 121.6Z" stroke="#3a3a3a" stroke-width="0.78" fill="none" />
<path d="M421.4 121.3C420.9 123.5 419.9 126.1 418.4 127.5C416.9 128.9 414.5 129.4 412.5 129.7C410.5 130.0 408.0 130.2 406.4 129.2C404.8 128.2 403.5 125.9 402.7 123.9C402.0 122.0 401.6 119.6 401.9 117.4C402.2 115.2 402.9 112.3 404.4 110.7C405.8 109.0 408.5 107.5 410.6 107.4C412.6 107.3 414.8 108.9 416.5 110.0C418.3 111.2 420.4 112.5 421.2 114.4C422.0 116.3 421.9 119.2 421.4 121.3Z" stroke="#3a3a3a" stroke-width="0.78" fill="none" />
<path d="M419.1 121.3C418.8 123.0 417.4 124.6 416.2 125.8C415.0 127.0 413.4 128.1 411.9 128.5C410.4 128.8 408.4 128.6 407.0 127.8C405.7 127.0 404.5 125.3 403.9 123.7C403.2 122.0 402.8 119.8 403.2 118.1C403.6 116.4 405.1 114.9 406.3 113.6C407.5 112.4 409.0 110.9 410.5 110.6C412.0 110.2 414.2 110.7 415.5 111.6C416.8 112.5 417.7 114.3 418.3 116.0C418.9 117.6 419.5 119.7 419.1 121.3Z" stroke="#3a3a3a" stroke-width="0.78" fill="none" />
<path d="M416.7 121.6C416.4 123.0 415.9 124.7 415.0 125.7C414.1 126.8 412.6 127.6 411.4 127.7C410.1 127.9 408.7 127.4 407.7 126.7C406.7 126.0 405.9 124.8 405.4 123.5C404.9 122.3 404.6 120.6 404.9 119.3C405.2 117.9 406.1 116.5 407.1 115.6C408.0 114.6 409.3 113.6 410.4 113.4C411.5 113.2 412.9 113.8 413.9 114.5C414.9 115.1 415.9 116.2 416.4 117.4C416.8 118.6 416.9 120.2 416.7 121.6Z" stroke="#3a3a3a" stroke-width="0.78" fill="none" />
<path d="M414.2 121.7C414.1 122.5 413.5 123.5 413.0 124.1C412.5 124.7 411.7 125.3 411.0 125.4C410.4 125.5 409.6 125.2 409.1 124.8C408.5 124.4 408.1 123.7 407.8 123.0C407.6 122.2 407.4 121.2 407.6 120.3C407.7 119.5 408.3 118.6 408.8 118.0C409.3 117.4 410.1 116.9 410.7 116.8C411.3 116.6 412.1 116.8 412.7 117.2C413.2 117.6 413.6 118.3 413.9 119.1C414.2 119.8 414.4 120.8 414.2 121.7Z" stroke="#3a3a3a" stroke-width="0.78" fill="none" />
<path d="M427.0 108.0C426.9 109.2 426.0 110.8 424.5 111.4C423.1 112.1 420.4 112.0 418.3 112.0C416.2 111.9 413.7 111.8 411.9 111.1C410.0 110.4 408.2 109.0 407.2 107.7C406.1 106.5 405.5 104.9 405.7 103.7C405.9 102.5 407.0 101.1 408.5 100.4C409.9 99.7 412.4 99.4 414.4 99.5C416.4 99.6 418.6 100.3 420.4 101.1C422.3 101.8 424.2 102.9 425.3 104.0C426.4 105.1 427.1 106.7 427.0 108.0Z" stroke="#3a3a3a" stroke-width="0.78" fill="none" />
<path d="M424.9 107.7C424.7 108.5 424.0 109.3 423.0 109.8C422.1 110.3 420.5 110.8 419.0 110.7C417.5 110.7 415.5 110.1 414.1 109.6C412.7 109.0 411.2 108.1 410.5 107.3C409.8 106.5 409.8 105.5 409.9 104.7C410.1 103.9 410.4 102.9 411.4 102.5C412.4 102.1 414.3 102.2 415.8 102.2C417.3 102.3 419.2 102.2 420.6 102.7C421.9 103.2 423.1 104.3 423.9 105.1C424.6 106.0 425.0 106.9 424.9 107.7Z" stroke="#3a3a3a" stroke-width="0.78" fill="none" />
<path d="M420.7 107.4C420.5 107.8 420.3 108.3 419.7 108.5C419.2 108.7 418.2 108.8 417.3 108.7C416.5 108.7 415.3 108.6 414.5 108.3C413.8 108.0 413.2 107.4 412.9 107.0C412.5 106.6 412.3 106.1 412.4 105.8C412.4 105.4 412.5 104.9 413.1 104.7C413.6 104.5 414.6 104.5 415.5 104.5C416.3 104.6 417.2 104.8 418.0 105.0C418.8 105.3 420.0 105.7 420.4 106.1C420.8 106.5 420.8 107.0 420.7 107.4Z" stroke="#3a3a3a" stroke-width="0.78" fill="none" />
<path d="M370.2 102.2C371.7 102.1 376.3 101.6 379.7 101.8C383.1 102.0 387.6 102.0 390.3 103.3C393.1 104.6 394.9 106.7 396.2 109.7C397.5 112.6 397.8 116.8 398.0 121.0C398.3 125.2 397.9 132.4 397.8 134.7L370.2 134.7Z" stroke="#444" stroke-width="0.4" fill="#5a5a5a" />
<path d="M368.7 104.0C370.5 103.9 376.3 103.2 379.7 103.5C383.1 103.7 387.0 104.0 389.2 105.3C391.5 106.6 392.4 108.5 393.3 111.3C394.1 114.1 394.2 117.7 394.4 121.9C394.5 126.1 394.2 134.1 394.2 136.5" stroke="#141414" stroke-width="2.6" fill="none" />
<path d="M368.8 106.3C370.6 106.2 376.3 105.6 379.5 105.7C382.8 105.9 386.2 106.2 388.1 107.3C390.0 108.3 390.4 109.5 391.1 112.0C391.7 114.4 391.9 117.9 392.1 122.0C392.2 126.1 391.9 134.1 391.9 136.5" stroke="#1c1c1c" stroke-width="1.8" fill="none" />
<path d="M368.9 108.6C370.7 108.5 376.4 107.9 379.4 108.0C382.4 108.1 385.3 108.5 386.9 109.2C388.5 110.0 388.4 110.5 388.9 112.7C389.4 114.8 389.7 118.1 389.8 122.1C389.9 126.1 389.6 134.1 389.6 136.5" stroke="#222" stroke-width="1.4" fill="none" />
<path d="M369.0 110.9C370.7 110.8 376.5 110.2 379.3 110.3C382.0 110.4 384.5 110.7 385.8 111.2C387.0 111.7 386.4 111.5 386.7 113.3C387.0 115.2 387.4 118.3 387.5 122.2C387.6 126.0 387.3 134.1 387.3 136.5" stroke="#222" stroke-width="1.1" fill="none" />
<path d="M381.3 123.7C381.3 124.2 380.8 124.7 380.4 125.1C380.1 125.4 379.6 125.9 379.3 125.8C378.9 125.8 378.3 125.2 378.1 124.7C377.9 124.1 377.7 123.0 378.0 122.5C378.2 122.1 379.0 122.1 379.4 122.0C379.8 122.0 380.2 121.9 380.5 122.2C380.8 122.4 381.3 123.2 381.3 123.7Z" stroke="#111" stroke-width="0.3" fill="#161616" />
<path d="M376.4 129.7C376.3 130.0 375.5 130.2 375.1 130.2C374.7 130.2 374.1 130.0 373.9 129.7C373.7 129.4 373.8 128.9 373.9 128.6C374.0 128.3 374.2 128.1 374.5 127.9C374.7 127.7 375.2 127.3 375.5 127.4C375.7 127.5 375.8 128.0 375.9 128.4C376.1 128.8 376.6 129.4 376.4 129.7Z" stroke="#111" stroke-width="0.3" fill="#161616" />
<path d="M377.2 117.2C377.2 117.8 377.0 118.6 376.9 119.0C376.7 119.4 376.4 119.7 376.2 119.6C376.0 119.5 375.8 118.8 375.6 118.3C375.5 117.7 375.4 116.8 375.4 116.3C375.5 115.8 375.8 115.3 375.9 115.2C376.1 115.1 376.4 115.4 376.6 115.8C376.8 116.1 377.1 116.7 377.2 117.2Z" stroke="#111" stroke-width="0.3" fill="#161616" />
<path d="M387.9 132.2C388.0 132.8 388.0 133.7 387.8 134.1C387.7 134.4 387.2 134.4 386.8 134.4C386.4 134.4 385.7 134.6 385.4 134.1C385.1 133.7 385.1 132.4 385.1 131.6C385.2 130.9 385.2 129.6 385.5 129.4C385.8 129.2 386.7 129.9 387.0 130.3C387.4 130.8 387.7 131.5 387.9 132.2Z" stroke="#111" stroke-width="0.3" fill="#161616" />
<path d="M386.8 129.8C386.6 130.2 386.1 131.1 385.8 131.2C385.6 131.4 385.3 131.0 385.2 130.8C385.2 130.5 385.3 130.1 385.4 129.7C385.5 129.3 385.6 128.8 385.9 128.4C386.1 128.1 386.7 127.6 386.9 127.7C387.1 127.7 387.0 128.3 387.0 128.6C387.0 129.0 387.0 129.4 386.8 129.8Z" stroke="#111" stroke-width="0.3" fill="#161616" />
<path d="M376.2 118.5C376.4 119.1 376.5 119.8 376.4 120.3C376.3 120.7 376.0 120.9 375.6 121.0C375.2 121.2 374.4 121.5 374.0 121.1C373.7 120.8 373.6 119.5 373.4 118.7C373.3 118.0 373.1 117.1 373.3 116.7C373.6 116.4 374.4 116.5 374.9 116.8C375.3 117.1 375.9 117.9 376.2 118.5Z" stroke="#111" stroke-width="0.3" fill="#161616" />
<path d="M377.0 126.8C377.3 127.4 377.4 128.0 377.4 128.4C377.4 128.8 377.3 129.1 377.1 129.1C376.9 129.2 376.4 129.3 376.0 128.9C375.7 128.4 375.0 127.0 374.9 126.4C374.7 125.7 375.0 125.5 375.1 125.2C375.3 124.9 375.4 124.4 375.7 124.6C376.1 124.9 376.7 126.1 377.0 126.8Z" stroke="#111" stroke-width="0.3" fill="#161616" />
<path d="M378.3 119.4C378.5 119.9 378.2 121.0 378.0 121.5C377.8 122.0 377.6 122.3 377.3 122.4C376.9 122.5 376.1 122.6 375.7 122.2C375.3 121.8 375.1 120.6 375.0 120.0C374.9 119.4 375.0 118.8 375.2 118.5C375.5 118.3 376.0 118.5 376.5 118.7C377.0 118.8 378.0 119.0 378.3 119.4Z" stroke="#111" stroke-width="0.3" fill="#161616" />
<path d="M375.9 124.0C376.0 124.6 376.2 126.0 376.1 126.5C376.0 126.9 375.4 126.7 375.1 126.5C374.8 126.4 374.5 126.0 374.3 125.4C374.0 124.8 373.7 123.5 373.7 123.0C373.8 122.5 374.3 122.3 374.5 122.2C374.7 122.1 375.0 122.2 375.2 122.5C375.4 122.8 375.7 123.3 375.9 124.0Z" stroke="#111" stroke-width="0.3" fill="#161616" />
<path d="M386.6 129.2C386.6 129.5 386.0 129.8 385.7 130.0C385.3 130.3 384.9 130.9 384.6 130.8C384.4 130.7 384.2 129.9 384.2 129.4C384.2 128.9 384.6 128.2 384.8 127.9C385.1 127.5 385.5 127.3 385.7 127.3C386.0 127.4 386.0 127.7 386.2 128.0C386.4 128.4 386.7 128.9 386.6 129.2Z" stroke="#111" stroke-width="0.3" fill="#161616" />
<path d="M375.4 131.5C375.6 132.1 375.7 133.3 375.6 133.7C375.5 134.2 375.1 134.2 374.8 134.0C374.5 133.9 374.2 133.4 373.9 132.9C373.6 132.3 373.1 131.3 373.0 130.8C372.9 130.3 373.4 130.1 373.6 130.0C373.8 129.8 374.0 129.7 374.3 129.9C374.6 130.2 375.2 130.8 375.4 131.5Z" stroke="#111" stroke-width="0.3" fill="#161616" />
<path d="M381.9 130.1C381.7 130.4 381.3 130.6 381.0 130.7C380.7 130.9 380.3 131.0 380.0 130.8C379.8 130.6 379.6 130.1 379.6 129.7C379.7 129.3 380.2 128.9 380.5 128.6C380.8 128.4 381.2 128.2 381.5 128.2C381.8 128.2 382.2 128.4 382.3 128.8C382.4 129.1 382.1 129.7 381.9 130.1Z" stroke="#111" stroke-width="0.3" fill="#161616" />
<path d="M382.1 115.7C381.6 116.5 380.8 117.4 380.3 117.7C379.8 118.0 379.3 117.9 379.2 117.6C379.2 117.2 379.6 116.1 380.0 115.5C380.3 114.9 380.7 114.3 381.1 113.9C381.5 113.5 381.8 113.3 382.2 113.2C382.6 113.0 383.5 112.6 383.5 113.0C383.5 113.4 382.7 114.9 382.1 115.7Z" stroke="#111" stroke-width="0.3" fill="#161616" />
<path d="M383.7 131.8C383.7 132.5 383.4 133.0 383.3 133.6C383.1 134.1 382.8 135.2 382.7 135.0C382.5 134.9 382.4 133.3 382.3 132.6C382.2 131.9 382.1 131.3 382.1 130.7C382.1 130.0 382.4 129.2 382.6 128.9C382.8 128.7 383.2 128.8 383.3 129.3C383.5 129.8 383.7 131.0 383.7 131.8Z" stroke="#111" stroke-width="0.3" fill="#161616" />
<path d="M384.9 126.3C385.1 127.2 385.2 128.7 384.9 129.3C384.7 130.0 384.0 130.5 383.6 130.3C383.1 130.1 382.6 128.9 382.3 128.1C381.9 127.2 381.5 126.1 381.5 125.3C381.5 124.4 381.9 123.2 382.2 123.0C382.6 122.8 383.3 123.3 383.8 123.9C384.2 124.4 384.7 125.4 384.9 126.3Z" stroke="#111" stroke-width="0.3" fill="#161616" />
<path d="M383.0 119.4C383.4 120.1 384.0 121.3 384.0 121.8C384.0 122.4 383.4 122.9 383.0 122.9C382.5 122.9 381.7 122.3 381.3 121.8C380.9 121.3 380.6 120.4 380.4 119.7C380.2 119.1 380.0 118.1 380.2 117.8C380.4 117.5 381.1 117.6 381.6 117.9C382.0 118.2 382.6 118.8 383.0 119.4Z" stroke="#111" stroke-width="0.3" fill="#161616" />
<path d="M380.2 128.8C380.6 129.5 381.0 130.4 381.1 130.8C381.1 131.2 380.8 131.3 380.6 131.3C380.3 131.3 379.9 131.3 379.5 130.9C379.1 130.4 378.5 129.3 378.2 128.6C377.9 128.0 377.7 127.3 377.8 126.9C377.8 126.6 378.1 126.3 378.5 126.6C379.0 126.9 379.8 128.1 380.2 128.8Z" stroke="#111" stroke-width="0.3" fill="#161616" />
<path d="M377.9 112.4C378.2 113.1 378.7 114.3 378.7 114.8C378.7 115.3 378.2 115.5 377.9 115.4C377.5 115.2 377.1 114.6 376.7 114.0C376.3 113.4 375.6 112.3 375.6 111.7C375.5 111.1 375.9 110.8 376.1 110.6C376.3 110.3 376.7 110.0 377.0 110.3C377.2 110.6 377.6 111.6 377.9 112.4Z" stroke="#111" stroke-width="0.3" fill="#161616" />
<path d="M377.6 121.7C377.2 122.5 376.5 123.5 376.1 123.8C375.7 124.1 375.1 123.8 374.9 123.4C374.7 123.0 374.8 122.3 375.0 121.6C375.1 120.9 375.3 119.9 375.8 119.3C376.2 118.6 377.1 117.7 377.6 117.6C378.1 117.6 378.7 118.2 378.7 118.9C378.7 119.6 378.0 120.9 377.6 121.7Z" stroke="#111" stroke-width="0.3" fill="#161616" />
<path d="M383.8 131.5C383.8 131.9 383.7 132.3 383.5 132.5C383.4 132.8 383.1 133.1 382.8 133.0C382.6 133.0 382.2 132.7 382.0 132.3C381.9 132.0 381.9 131.2 382.0 130.9C382.1 130.5 382.4 130.3 382.7 130.1C382.9 130.0 383.4 129.7 383.6 130.0C383.8 130.2 383.8 131.0 383.8 131.5Z" stroke="#111" stroke-width="0.3" fill="#161616" />
<path d="M387.0 121.8C386.8 122.1 386.6 122.7 386.4 122.8C386.2 123.0 385.8 122.9 385.7 122.7C385.5 122.5 385.6 122.1 385.6 121.7C385.7 121.3 385.8 120.7 386.0 120.5C386.1 120.4 386.5 120.6 386.7 120.6C386.9 120.7 387.1 120.8 387.1 120.9C387.2 121.1 387.1 121.5 387.0 121.8Z" stroke="#111" stroke-width="0.3" fill="#161616" />
<path d="M380.6 112.5C380.8 113.0 381.3 113.5 381.2 113.8C381.1 114.2 380.5 114.5 380.1 114.6C379.6 114.6 379.0 114.6 378.7 114.3C378.3 114.0 378.0 113.3 378.0 112.8C377.9 112.3 378.1 111.6 378.4 111.2C378.8 110.9 379.6 110.6 380.0 110.8C380.4 111.0 380.4 112.0 380.6 112.5Z" stroke="#111" stroke-width="0.3" fill="#161616" />
<path d="M382.4 115.0C382.7 115.6 382.7 116.2 382.7 116.6C382.7 117.1 382.7 117.6 382.4 117.6C382.2 117.6 381.6 117.0 381.3 116.6C381.0 116.2 380.8 115.7 380.7 115.2C380.5 114.7 380.2 113.9 380.2 113.6C380.3 113.3 380.7 113.1 381.1 113.4C381.4 113.6 382.2 114.5 382.4 115.0Z" stroke="#ddd" stroke-width="0.3" fill="#eee" opacity="0.9"/>
<path d="M378.8 124.8C378.6 125.3 378.4 125.7 378.2 126.0C378.0 126.2 377.8 126.3 377.6 126.2C377.4 126.1 377.2 125.7 377.3 125.3C377.3 124.9 377.6 124.1 377.8 123.7C378.0 123.3 378.4 122.9 378.6 122.8C378.9 122.7 379.2 122.9 379.2 123.2C379.2 123.6 378.9 124.4 378.8 124.8Z" stroke="#ddd" stroke-width="0.3" fill="#eee" opacity="0.9"/>
<path d="M384.0 126.6C384.0 127.0 383.8 127.8 383.6 128.1C383.4 128.4 382.9 128.6 382.8 128.4C382.6 128.2 382.8 127.4 382.8 126.9C382.8 126.4 382.6 125.8 382.7 125.4C382.8 125.1 383.3 124.7 383.5 124.7C383.7 124.7 383.8 125.3 383.9 125.6C384.0 125.9 384.1 126.2 384.0 126.6Z" stroke="#ddd" stroke-width="0.3" fill="#eee" opacity="0.9"/>
<path d="M376.9 117.4C376.9 117.8 376.9 118.3 376.8 118.6C376.6 118.9 376.4 119.2 376.2 119.1C376.1 119.0 376.0 118.3 375.9 117.9C375.9 117.5 375.8 117.1 375.9 116.7C375.9 116.3 376.1 115.7 376.2 115.6C376.4 115.5 376.7 115.7 376.8 116.0C376.9 116.3 376.9 116.9 376.9 117.4Z" stroke="#ddd" stroke-width="0.3" fill="#eee" opacity="0.9"/>
<path d="M368.7 100.7C370.5 100.7 376.0 100.2 379.7 100.4C383.4 100.5 388.1 100.4 391.1 101.8C394.1 103.2 396.2 105.6 397.7 108.8C399.1 112.0 399.4 116.4 399.7 121.0C400.0 125.6 399.5 134.0 399.5 136.5" stroke="#444" stroke-width="0.78" fill="none" />
<path d="M368.6 99.6C370.5 99.6 375.9 99.1 379.7 99.3C383.6 99.5 388.4 99.3 391.5 100.8C394.7 102.3 397.1 105.0 398.7 108.3C400.2 111.7 400.5 116.2 400.8 120.9C401.1 125.6 400.6 134.0 400.6 136.6" stroke="#444" stroke-width="0.78" fill="none" />
<path d="M368.6 98.5C370.5 98.5 375.9 97.9 379.8 98.2C383.7 98.4 388.7 98.2 392.0 99.8C395.3 101.4 398.0 104.4 399.7 107.9C401.3 111.4 401.5 116.1 401.9 120.9C402.2 125.7 401.7 134.0 401.7 136.6" stroke="#444" stroke-width="0.78" fill="none" />
<rect x="413.6" y="64.3" width="29.3" height="24.7" fill="none" stroke="#5a5a5a" stroke-width="1.4"/>
<rect x="369.8" y="133.3" width="41.1" height="2.9" fill="#0a0a0a"/>
<rect x="410.9" y="134.2" width="20.2" height="2.0" fill="#222"/>
</g></g>
<path d="M369.9 65.3L369.9 136.0" stroke="#1a1a1a" stroke-width="1.1" stroke-dasharray="1.3 0.8" fill="none"/>
<path d="M369.6 135.8L441.0 135.8" stroke="#1a1a1a" stroke-width="1.1" stroke-dasharray="1.1 0.9" fill="none"/>
<path d="M368.3 66.7L369.6 66.7M368.3 83.2L369.6 83.2M368.3 101.8L369.6 101.8M368.3 119.7L369.6 119.7M368.3 128.3L369.6 128.3M378.2 136.0L378.2 137.3M385.2 136.0L385.2 137.3M405.7 136.0L405.7 137.3M422.8 136.0L422.8 137.3M440.2 136.0L440.2 137.3" stroke="#333" stroke-width="0.6" fill="none"/>
<text x="361.0" y="68.0" font-size="3.2" fill="#333">10<tspan dy="-1.2" font-size="2.5">5</tspan></text>
<text x="361.0" y="84.4" font-size="3.2" fill="#333">10<tspan dy="-1.2" font-size="2.5">4</tspan></text>
<text x="361.0" y="103.1" font-size="3.2" fill="#333">10<tspan dy="-1.2" font-size="2.5">3</tspan></text>
<text x="361.0" y="121.0" font-size="3.2" fill="#333">10<tspan dy="-1.2" font-size="2.5">2</tspan></text>
<text x="364.6" y="129.6" font-size="3.2" fill="#333">0</text>
<text x="382.6" y="143.1" font-size="3.2" fill="#333">10<tspan dy="-1.2" font-size="2.5">2</tspan></text>
<text x="403.2" y="143.1" font-size="3.2" fill="#333">10<tspan dy="-1.2" font-size="2.5">3</tspan></text>
<text x="420.2" y="143.1" font-size="3.2" fill="#333">10<tspan dy="-1.2" font-size="2.5">4</tspan></text>
<text x="437.6" y="143.1" font-size="3.2" fill="#333">10<tspan dy="-1.2" font-size="2.5">5</tspan></text>
<text x="377.1" y="143.1" font-size="3.2" fill="#333">0</text>
<text x="375.1" y="69.8" font-size="9.3" textLength="25.5" lengthAdjust="spacingAndGlyphs">1.89%</text>
<text x="0" y="196" font-size="13.5" font-weight="bold" fill="#000">B</text>
<text x="44" y="194.6" font-size="11" textLength="78" lengthAdjust="spacingAndGlyphs">CELL NUMBER</text>
<text x="103" y="212" font-size="11" textLength="66" lengthAdjust="spacingAndGlyphs">Bone Marrow</text>
<text x="378.8" y="211.3" font-size="11" textLength="34.3" lengthAdjust="spacingAndGlyphs">Spleen</text>
<text x="63.5" y="234" font-size="7" textLength="21.5" lengthAdjust="spacingAndGlyphs">DAY  8</text>
<text x="195" y="232.5" font-size="7" textLength="26" lengthAdjust="spacingAndGlyphs">DAY  11</text>
<text x="343" y="233.8" font-size="7" textLength="21.5" lengthAdjust="spacingAndGlyphs">DAY  8</text>
<text x="448.5" y="232.2" font-size="7" textLength="25.8" lengthAdjust="spacingAndGlyphs">DAY  11</text>
<text x="64.5" y="251.5" font-size="7.5" textLength="36.3" lengthAdjust="spacingAndGlyphs"><tspan font-style="italic">P</tspan> = .0015</text>
<text x="183" y="250.8" font-size="7.5" textLength="35.8" lengthAdjust="spacingAndGlyphs"><tspan font-style="italic">P</tspan> = .0345</text>
<text x="339.5" y="248.8" font-size="7.5" textLength="35.2" lengthAdjust="spacingAndGlyphs"><tspan font-style="italic">P</tspan> = .0004</text>
<rect x="43.9" y="281.8" width="34.2" height="42" fill="#fff" stroke="#000" stroke-width="1.6"/>
<path d="M61 281L61 279" stroke="#000" stroke-width="1.2" fill="none"/>
<path d="M52.5 279L69.5 279" stroke="#000" stroke-width="1.3" fill="none"/>
<rect x="94.3" y="316" width="33.9" height="7.8" fill="#000" stroke="#000" stroke-width="1.6"/>
<path d="M111 316L111 314" stroke="#000" stroke-width="1.2" fill="none"/>
<path d="M102.5 314L119.5 314" stroke="#000" stroke-width="1.3" fill="none"/>
<path d="M36 256.5L36 323.7L130.5 323.7" stroke="#000" stroke-width="1.5" fill="none" />
<path d="M33.9 258.3L36 258.3" stroke="#000" stroke-width="1.2" fill="none"/>
<path d="M33.9 280.2L36 280.2" stroke="#000" stroke-width="1.2" fill="none"/>
<path d="M33.9 302.2L36 302.2" stroke="#000" stroke-width="1.2" fill="none"/>
<path d="M33.9 323.7L36 323.7" stroke="#000" stroke-width="1.2" fill="none"/>
<text x="12.0" y="263.7" font-size="10" textLength="19.5" lengthAdjust="spacingAndGlyphs">150</text>
<text x="12.0" y="285.7" font-size="10" textLength="19.5" lengthAdjust="spacingAndGlyphs">100</text>
<text x="17.2" y="307.2" font-size="10" textLength="14.3" lengthAdjust="spacingAndGlyphs">50</text>
<text x="24.3" y="328.5" font-size="10" textLength="7.2" lengthAdjust="spacingAndGlyphs">0</text>
<path d="M54.5 267.5L54.5 257L120.8 257L120.8 300" stroke="#111" stroke-width="1.2" fill="none" />
<text x="48.5" y="339" font-size="7.5" textLength="32" lengthAdjust="spacingAndGlyphs">CCR2-/-</text>
<text x="106.3" y="339" font-size="7.5" textLength="12.5" lengthAdjust="spacingAndGlyphs">WT</text>
<text x="10.3" y="324.3" font-size="7.5" transform="rotate(-90 10.3 324.3)" textLength="80" lengthAdjust="spacingAndGlyphs">cells per femur x 10<tspan dy="-3" font-size="6.5">-4</tspan></text>
<rect x="160.7" y="296.5" width="34" height="31" fill="#fff" stroke="#000" stroke-width="1.6"/>
<path d="M177.5 296L177.5 292.5" stroke="#000" stroke-width="1.2" fill="none"/>
<path d="M169 292.5L185.5 292.5" stroke="#000" stroke-width="1.3" fill="none"/>
<rect x="210.7" y="315.5" width="34" height="12" fill="#000" stroke="#000" stroke-width="1.6"/>
<path d="M227.5 315L227.5 310.8" stroke="#000" stroke-width="1.2" fill="none"/>
<path d="M219 310.8L236 310.8" stroke="#000" stroke-width="1.3" fill="none"/>
<path d="M153 260L153 327.7L252.5 327.7" stroke="#000" stroke-width="1.5" fill="none" />
<path d="M150 260.5L153 260.5" stroke="#000" stroke-width="1.2" fill="none"/>
<path d="M150 283L153 283" stroke="#000" stroke-width="1.2" fill="none"/>
<path d="M150 305.3L153 305.3" stroke="#000" stroke-width="1.2" fill="none"/>
<path d="M202.5 327.5L202.5 330.3" stroke="#000" stroke-width="1.2" fill="none"/>
<path d="M173 270L173 256L230.8 256L230.8 301" stroke="#111" stroke-width="1.2" fill="none" />
<text x="160" y="339" font-size="7.5" textLength="31.8" lengthAdjust="spacingAndGlyphs">CCR2-/-</text>
<text x="218.8" y="339" font-size="7.5" textLength="12" lengthAdjust="spacingAndGlyphs">WT</text>
<rect x="312.7" y="318.3" width="34.6" height="4.7" fill="#fff" stroke="#000" stroke-width="1.6"/>
<rect x="363.2" y="284.2" width="34.3" height="38.8" fill="#000" stroke="#000" stroke-width="1.6"/>
<path d="M380.5 284L380.5 281.2" stroke="#000" stroke-width="1.2" fill="none"/>
<path d="M371.8 281.2L389.2 281.2" stroke="#000" stroke-width="1.3" fill="none"/>
<path d="M304.3 254.8L304.3 323L405 323" stroke="#000" stroke-width="1.5" fill="none" />
<path d="M301.1 255.3L304.3 255.3" stroke="#000" stroke-width="1.2" fill="none"/>
<path d="M301.1 278L304.3 278" stroke="#000" stroke-width="1.2" fill="none"/>
<path d="M301.1 300.5L304.3 300.5" stroke="#000" stroke-width="1.2" fill="none"/>
<path d="M301.1 323L304.3 323" stroke="#000" stroke-width="1.2" fill="none"/>
<text x="281.1" y="259.8" font-size="10.5" textLength="18.5" lengthAdjust="spacingAndGlyphs">150</text>
<text x="281.1" y="283.4" font-size="10.5" textLength="18.5" lengthAdjust="spacingAndGlyphs">100</text>
<text x="287.0" y="305.5" font-size="10.5" textLength="12.6" lengthAdjust="spacingAndGlyphs">50</text>
<text x="293.20000000000005" y="327.5" font-size="10.5" textLength="6.4" lengthAdjust="spacingAndGlyphs">0</text>
<path d="M330.8 299.3L330.8 254.8L390 254.8L390 263.8" stroke="#111" stroke-width="1.2" fill="none" />
<text x="318.8" y="336" font-size="7.5" textLength="30.8" lengthAdjust="spacingAndGlyphs">CCR2-/-</text>
<text x="370" y="336" font-size="7.5" textLength="11.8" lengthAdjust="spacingAndGlyphs">WT</text>
<text x="277.3" y="328" font-size="7.5" transform="rotate(-90 277.3 328)" textLength="82.5" lengthAdjust="spacingAndGlyphs">cells per spleen x 10<tspan dy="-3" font-size="6.5">-4</tspan></text>
<rect x="428.2" y="288.8" width="33" height="34.4" fill="#fff" stroke="#000" stroke-width="1.6"/>
<path d="M444.5 288.5L444.5 272.5" stroke="#000" stroke-width="1.2" fill="none"/>
<path d="M435.5 272.5L453.3 272.5" stroke="#000" stroke-width="1.3" fill="none"/>
<rect x="478.2" y="286.2" width="33.8" height="37" fill="#000" stroke="#000" stroke-width="1.6"/>
<path d="M486 284.7L503.8 284.7" stroke="#000" stroke-width="1.2" fill="none"/>
<path d="M419.3 255.5L419.3 323.3L520 323.3" stroke="#000" stroke-width="1.5" fill="none" />
<path d="M416.3 256L419.3 256" stroke="#000" stroke-width="1.2" fill="none"/>
<path d="M416.3 278.5L419.3 278.5" stroke="#000" stroke-width="1.2" fill="none"/>
<path d="M416.3 301L419.3 301" stroke="#000" stroke-width="1.2" fill="none"/>
<text x="422" y="336.2" font-size="7.5" textLength="30" lengthAdjust="spacingAndGlyphs">CCR2-/-</text>
<text x="488" y="336.2" font-size="7.5" textLength="12" lengthAdjust="spacingAndGlyphs">WT</text>
<text x="0" y="365" font-size="13.5" font-weight="bold" fill="#000">C</text>
<text x="42.5" y="363" font-size="11" textLength="116.2" lengthAdjust="spacingAndGlyphs"><tspan font-style="italic">P.chabaudi</tspan> INFECTION</text>
<path d="M45.5 387L45.5 510.4L229 510.4" stroke="#000" stroke-width="1.4" fill="none" />
<path d="M41.9 388L45.5 388" stroke="#000" stroke-width="1.2" fill="none"/>
<path d="M41.9 418.6L45.5 418.6" stroke="#000" stroke-width="1.2" fill="none"/>
<path d="M41.9 449.2L45.5 449.2" stroke="#000" stroke-width="1.2" fill="none"/>
<path d="M41.9 479.8L45.5 479.8" stroke="#000" stroke-width="1.2" fill="none"/>
<path d="M41.9 510.4L45.5 510.4" stroke="#000" stroke-width="1.2" fill="none"/>
<text x="38.6" y="391" font-size="8.7" text-anchor="end">100</text>
<text x="38.6" y="421.6" font-size="8.7" text-anchor="end">10</text>
<text x="38.6" y="452.2" font-size="8.7" text-anchor="end">1</text>
<text x="38.6" y="482.8" font-size="8.7" text-anchor="end">0.1</text>
<text x="38.6" y="513.3" font-size="8.7" text-anchor="end">0.01</text>
<path d="M45.75 510L45.75 513.8" stroke="#000" stroke-width="1.2" fill="none"/>
<text x="45.75" y="523.8" font-size="8.6" text-anchor="middle">0</text>
<path d="M82.25 510L82.25 513.8" stroke="#000" stroke-width="1.2" fill="none"/>
<text x="82.25" y="523.8" font-size="8.6" text-anchor="middle">5</text>
<path d="M118.75 510L118.75 513.8" stroke="#000" stroke-width="1.2" fill="none"/>
<text x="118.75" y="523.8" font-size="8.6" text-anchor="middle">10</text>
<path d="M155.25 510L155.25 513.8" stroke="#000" stroke-width="1.2" fill="none"/>
<text x="155.25" y="523.8" font-size="8.6" text-anchor="middle">15</text>
<path d="M191.75 510L191.75 513.8" stroke="#000" stroke-width="1.2" fill="none"/>
<text x="191.75" y="523.8" font-size="8.6" text-anchor="middle">20</text>
<path d="M228.25 510L228.25 513.8" stroke="#000" stroke-width="1.2" fill="none"/>
<text x="228.25" y="523.8" font-size="8.6" text-anchor="middle">25</text>
<text x="102" y="534.3" font-size="10" textLength="21" lengthAdjust="spacingAndGlyphs">days</text>
<text x="13.2" y="500" font-size="10" transform="rotate(-90 13.2 500)" textLength="96" lengthAdjust="spacingAndGlyphs">% parasitemia (log<tspan dy="2" font-size="8">10</tspan><tspan dy="-2">)</tspan></text>
<path d="M133.35 417L133.35 408.3" stroke="#000" stroke-width="1.1" fill="none"/>
<path d="M129.85 408.3L136.85 408.3" stroke="#000" stroke-width="1.2" fill="none"/>
<path d="M147.95 428.7L147.95 420.8" stroke="#000" stroke-width="1.1" fill="none"/>
<path d="M144.45 420.8L151.45 420.8" stroke="#000" stroke-width="1.2" fill="none"/>
<path d="M155.25 444.5L155.25 451.2" stroke="#000" stroke-width="1.1" fill="none"/>
<path d="M151.75 451.2L158.75 451.2" stroke="#000" stroke-width="1.2" fill="none"/>
<path d="M162.55 438L162.55 430.8" stroke="#000" stroke-width="1.1" fill="none"/>
<path d="M159.05 430.8L166.05 430.8" stroke="#000" stroke-width="1.2" fill="none"/>
<path d="M169.85 440.7L169.85 433" stroke="#000" stroke-width="1.1" fill="none"/>
<path d="M166.35 433L173.35 433" stroke="#000" stroke-width="1.2" fill="none"/>
<path d="M82.25 438.5L82.25 432" stroke="#000" stroke-width="1.1" fill="none"/>
<path d="M78.75 432L85.75 432" stroke="#000" stroke-width="1.2" fill="none"/>
<path d="M89.55 425L89.55 423" stroke="#000" stroke-width="1.1" fill="none"/>
<path d="M86.05 423L93.05 423" stroke="#000" stroke-width="1.2" fill="none"/>
<path d="M104.15 412L104.15 409.6" stroke="#000" stroke-width="1.1" fill="none"/>
<path d="M100.65 409.6L107.65 409.6" stroke="#000" stroke-width="1.2" fill="none"/>
<path d="M74.95 468.5L74.95 465" stroke="#000" stroke-width="1.1" fill="none"/>
<path d="M71.45 465L78.45 465" stroke="#000" stroke-width="1.2" fill="none"/>
<path d="M169.85 472.5L169.85 470" stroke="#000" stroke-width="1.1" fill="none"/>
<path d="M166.35 470L173.35 470" stroke="#000" stroke-width="1.2" fill="none"/>
<path d="M206.35 480.8L206.35 478" stroke="#000" stroke-width="1.1" fill="none"/>
<path d="M202.85 478L209.85 478" stroke="#000" stroke-width="1.2" fill="none"/>
<path d="M75.0 468.5L82.2 438.5L89.5 425L104.2 412L118.8 426.5L126.0 451.3L133.3 448.3L147.9 451.3L155.2 456.8L162.6 471.3L169.8 472.5L206.3 480.8" stroke="#000" stroke-width="1.45" fill="none" />
<path d="M75.0 473.5L82.2 456L89.5 429L104.2 414.3L118.8 425.5L126.0 428.7L133.3 417L147.9 428.7L155.2 444.5L162.6 438L169.8 440.7L206.3 472" stroke="#000" stroke-width="1.45" fill="none" />
<circle cx="75.0" cy="468.5" r="2.8" fill="#000"/>
<circle cx="82.2" cy="438.5" r="2.8" fill="#000"/>
<circle cx="89.5" cy="425" r="2.8" fill="#000"/>
<circle cx="104.2" cy="412" r="2.8" fill="#000"/>
<circle cx="118.8" cy="426.5" r="2.8" fill="#000"/>
<circle cx="126.0" cy="451.3" r="2.8" fill="#000"/>
<circle cx="133.3" cy="448.3" r="2.8" fill="#000"/>
<circle cx="147.9" cy="451.3" r="2.8" fill="#000"/>
<circle cx="155.2" cy="456.8" r="2.8" fill="#000"/>
<circle cx="162.6" cy="471.3" r="2.8" fill="#000"/>
<circle cx="169.8" cy="472.5" r="2.8" fill="#000"/>
<circle cx="206.3" cy="480.8" r="2.8" fill="#000"/>
<rect x="72.4" y="470.95" width="5.1" height="5.1" fill="#fff" stroke="#000" stroke-width="1.3"/>
<rect x="79.7" y="453.45" width="5.1" height="5.1" fill="#fff" stroke="#000" stroke-width="1.3"/>
<rect x="87.0" y="426.45" width="5.1" height="5.1" fill="#fff" stroke="#000" stroke-width="1.3"/>
<rect x="101.6" y="411.75" width="5.1" height="5.1" fill="#fff" stroke="#000" stroke-width="1.3"/>
<rect x="116.2" y="422.95" width="5.1" height="5.1" fill="#fff" stroke="#000" stroke-width="1.3"/>
<rect x="123.5" y="426.15" width="5.1" height="5.1" fill="#fff" stroke="#000" stroke-width="1.3"/>
<rect x="130.8" y="414.45" width="5.1" height="5.1" fill="#fff" stroke="#000" stroke-width="1.3"/>
<rect x="145.4" y="426.15" width="5.1" height="5.1" fill="#fff" stroke="#000" stroke-width="1.3"/>
<rect x="152.7" y="441.95" width="5.1" height="5.1" fill="#fff" stroke="#000" stroke-width="1.3"/>
<rect x="160.0" y="435.45" width="5.1" height="5.1" fill="#fff" stroke="#000" stroke-width="1.3"/>
<rect x="167.3" y="438.15" width="5.1" height="5.1" fill="#fff" stroke="#000" stroke-width="1.3"/>
<rect x="203.8" y="469.45" width="5.1" height="5.1" fill="#fff" stroke="#000" stroke-width="1.3"/>
<text x="123.8" y="414.9" font-size="10" text-anchor="middle" font-weight="bold">**</text>
<text x="133.3" y="406.09999999999997" font-size="10" text-anchor="middle" font-weight="bold">*</text>
<text x="148.8" y="417.4" font-size="10" text-anchor="middle" font-weight="bold">*</text>
<text x="162.5" y="429.9" font-size="10" text-anchor="middle" font-weight="bold">**</text>
<text x="175.8" y="429.9" font-size="10" text-anchor="middle" font-weight="bold">**</text>
<rect x="180.3" y="390.8" width="6" height="6" fill="#fff" stroke="#000" stroke-width="1.1"/>
<circle cx="183.3" cy="405" r="2.9" fill="#000"/>
<text x="190.5" y="397" font-size="9.2" textLength="33.7" lengthAdjust="spacingAndGlyphs">CCR2-/-</text>
<text x="190.5" y="408" font-size="9.2" textLength="32.5" lengthAdjust="spacingAndGlyphs">C57Bl/6</text>
<path d="M302.5 388.3L302.5 510.7L486 510.7" stroke="#000" stroke-width="1.4" fill="none" />
<path d="M298.8 389L302.5 389" stroke="#000" stroke-width="1.2" fill="none"/>
<path d="M298.8 419.5L302.5 419.5" stroke="#000" stroke-width="1.2" fill="none"/>
<path d="M298.8 450L302.5 450" stroke="#000" stroke-width="1.2" fill="none"/>
<path d="M298.8 480.5L302.5 480.5" stroke="#000" stroke-width="1.2" fill="none"/>
<path d="M298.8 510.7L302.5 510.7" stroke="#000" stroke-width="1.2" fill="none"/>
<text x="297.3" y="392" font-size="8.6" text-anchor="end">10</text>
<text x="297.3" y="422.5" font-size="8.6" text-anchor="end">0</text>
<text x="297.3" y="453" font-size="8.6" text-anchor="end">-10</text>
<text x="297.3" y="483.5" font-size="8.6" text-anchor="end">-20</text>
<text x="297.3" y="513.7" font-size="8.6" text-anchor="end">-30</text>
<path d="M333 510.5L333 514.5" stroke="#000" stroke-width="1.2" fill="none"/>
<text x="333" y="525.5" font-size="8.6" text-anchor="middle">10</text>
<path d="M393.7 510.5L393.7 514.5" stroke="#000" stroke-width="1.2" fill="none"/>
<text x="393.7" y="525.5" font-size="8.6" text-anchor="middle">16</text>
<path d="M454.5 510.5L454.5 514.5" stroke="#000" stroke-width="1.2" fill="none"/>
<text x="454.5" y="525.5" font-size="8.6" text-anchor="middle">20</text>
<text x="370.5" y="535.5" font-size="10" textLength="21.3" lengthAdjust="spacingAndGlyphs">days</text>
<text x="276" y="487.5" font-size="10" transform="rotate(-90 276 487.5)" textLength="68.7" lengthAdjust="spacingAndGlyphs">weight loss (%)</text>
<rect x="314.55" y="420.25" width="14.199999999999989" height="22.5" fill="#fff" stroke="#000" stroke-width="1.5"/>
<rect x="337.05" y="420.25" width="14.699999999999989" height="29.0" fill="#000" stroke="#000" stroke-width="1.5"/>
<rect x="375.25" y="420.25" width="14.5" height="18.80000000000001" fill="#fff" stroke="#000" stroke-width="1.5"/>
<rect x="397.75" y="413.55" width="15.300000000000011" height="5.199999999999989" fill="#000" stroke="#000" stroke-width="1.5"/>
<rect x="435.75" y="420.25" width="14.800000000000011" height="0.8000000000000114" fill="#fff" stroke="#000" stroke-width="1.5"/>
<rect x="458.25" y="417.05" width="15.5" height="1.6999999999999886" fill="#000" stroke="#000" stroke-width="1.5"/>
<path d="M321.6 443.5L321.6 454.5" stroke="#000" stroke-width="1.4" fill="none"/>
<path d="M317.40000000000003 454.5L325.8 454.5" stroke="#000" stroke-width="1.5" fill="none"/>
<path d="M344.3 450L344.3 454.3" stroke="#000" stroke-width="1.4" fill="none"/>
<path d="M340.1 454.3L348.5 454.3" stroke="#000" stroke-width="1.5" fill="none"/>
<path d="M382.6 439.5L382.6 444.3" stroke="#000" stroke-width="1.4" fill="none"/>
<path d="M378.40000000000003 444.3L386.8 444.3" stroke="#000" stroke-width="1.5" fill="none"/>
<path d="M405.5 413L405.5 407.5" stroke="#000" stroke-width="1.4" fill="none"/>
<path d="M401.3 407.5L409.7 407.5" stroke="#000" stroke-width="1.5" fill="none"/>
<path d="M443.4 422L443.4 426.3" stroke="#000" stroke-width="1.4" fill="none"/>
<path d="M439.2 426.3L447.59999999999997 426.3" stroke="#000" stroke-width="1.5" fill="none"/>
<path d="M466.2 416.5L466.2 413" stroke="#000" stroke-width="1.4" fill="none"/>
<path d="M462.0 413L470.4 413" stroke="#000" stroke-width="1.5" fill="none"/>
<path d="M302.5 419.5L485.5 419.5" stroke="#000" stroke-width="1.5" fill="none"/>
<path d="M319.5 460L319.5 465L348.3 465L348.3 460" stroke="#111" stroke-width="1.2" fill="none" />
<text x="333.3" y="472.7" font-size="9" text-anchor="middle">ns</text>
<path d="M380.2 457.5L380.2 464.5L408.8 464.5L408.8 457.5" stroke="#111" stroke-width="1.2" fill="none" />
<text x="393.2" y="474" font-size="9.5" text-anchor="middle" font-weight="bold">*</text>
<text x="368.3" y="483.2" font-size="7.5" textLength="35.5" lengthAdjust="spacingAndGlyphs"><tspan font-style="italic">P</tspan> = .0317</text>
<path d="M439.5 428.8L439.5 435.5L468.3 435.5L468.3 428.8" stroke="#111" stroke-width="1.2" fill="none" />
<text x="453.8" y="443.2" font-size="9" text-anchor="middle">ns</text>
</svg>
</body></html>
